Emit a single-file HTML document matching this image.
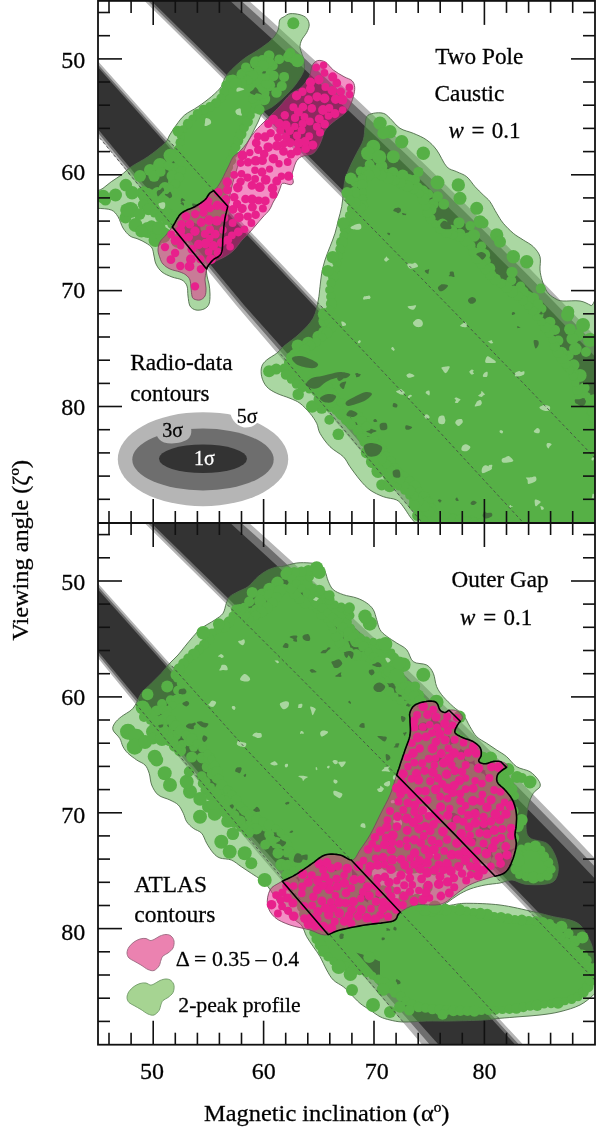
<!DOCTYPE html><html><head><meta charset="utf-8"><style>html,body{margin:0;padding:0;background:#fff;}svg{display:block;}text{stroke:#111;stroke-width:0.3px;}</style></head><body><svg width="600" height="1130" viewBox="0 0 600 1130"><defs><clipPath id="gtop"><path d="M284.2,16.7C285.9,15.6 287.4,14 290,13.7C292.6,13.4 297.2,13.9 300,14.7C302.8,15.5 305.2,16.6 306.7,18.3C308.2,20 309.2,22.6 309.2,25C309.2,27.4 307.9,30 306.7,32.5C305.4,35 302.8,37.6 301.7,40C300.6,42.4 300,44.5 300,46.7C300,48.9 301.1,51.4 301.7,53.3C302.2,55.2 302.9,55.5 303.3,58.3C303.7,61.1 305.2,65.7 304,70C302.8,74.3 299.3,79.5 296,84C292.7,88.5 288,93.2 284,97C280,100.8 275.5,104.5 272,107C268.5,109.5 265.3,109.5 263,112C260.7,114.5 259.8,118.3 258,122C256.2,125.7 254,130 252,134C250,138 248,141.7 246,146C244,150.3 241.8,155.2 240,160C238.2,164.8 236.5,170 235,175C233.5,180 232.2,185 231,190C229.8,195 229.1,200 228,205C226.9,210 225.5,214.7 224.7,220C223.9,225.3 223.6,231.1 223,236.7C222.4,242.2 223,249.4 221.3,253.3C219.6,257.2 215.4,257.6 213,260C210.6,262.4 208,265.3 207,268C206,270.7 206.7,273.3 207,276C207.3,278.7 208.5,281 209,284C209.5,287 210,290.7 210,294C210,297.3 210,301.5 209,304C208,306.5 206.2,308 204,309C201.8,310 198.3,310.5 196,310C193.7,309.5 191.3,308.3 190,306C188.7,303.7 188.5,299.3 188,296C187.5,292.7 188,288.7 187,286C186,283.3 184.5,281.5 182,280C179.5,278.5 175.3,278.3 172,277C168.7,275.7 164.7,274.2 162,272C159.3,269.8 157.3,266.7 156,264C154.7,261.3 154.7,258.7 154,256C153.3,253.3 153.3,250.2 152,248C150.7,245.8 148.3,244.5 146,243C143.7,241.5 140.7,240.2 138,239C135.3,237.8 132.5,237.8 130,236C127.5,234.2 125,231.2 123,228C121,224.8 120,219.7 118,216.7C116,213.7 114.6,211.4 111.3,210C108,208.6 100.9,208.6 98,208.3C95.1,208 94.7,210.4 94,208C93.3,205.6 92.5,197.3 94,194C95.5,190.7 100.1,190.4 103,188.3C105.9,186.2 108.2,183.9 111.3,181.7C114.3,179.5 118,177.5 121.3,175C124.6,172.5 126.9,169.8 131.3,166.7C135.8,163.6 142.4,160.6 148,156.7C153.6,152.8 161.1,146.9 164.7,143.3C168.3,139.7 167.8,138.1 169.7,135C171.6,131.9 173.8,128.3 176.3,125C178.8,121.7 181.1,118 184.7,115C188.3,112 193.6,109.8 198,106.7C202.4,103.7 207.4,100 211.3,96.7C215.2,93.4 219.1,89.8 221.3,86.7C223.5,83.6 223,81.1 224.7,78.3C226.4,75.5 228,73.3 231.3,70C234.6,66.7 240.2,61.6 244.7,58.3C249.1,55 253.6,53 258,50C262.4,47 268,43.3 271.3,40C274.6,36.7 276.6,33.3 278,30C279.4,26.7 278.7,22.2 279.7,20C280.7,17.8 282.5,17.8 284.2,16.7Z"/><path d="M366.7,116.7C368.1,114.5 370.5,113.9 373.3,113.3C376.1,112.7 380.5,112.5 383.3,113.3C386.1,114.1 387.2,115.8 390,118.3C392.8,120.8 396.1,125.8 400,128.3C403.9,130.8 408.9,131.4 413.3,133.3C417.8,135.2 422.8,137.2 426.7,140C430.6,142.8 433.4,145.6 436.7,150C440,154.4 443.4,163.1 446.7,166.7C450,170.3 453.4,170 456.7,171.7C460,173.4 463.6,174.2 466.7,176.7C469.8,179.2 472.2,183.6 475,186.7C477.8,189.8 480.8,192.5 483.3,195C485.8,197.5 487.8,198.6 490,201.7C492.2,204.8 494.5,209.7 496.7,213.3C498.9,216.9 500.5,220 503.3,223.3C506.1,226.6 510,230.5 513.3,233.3C516.6,236.1 520,237.8 523.3,240C526.6,242.2 530.5,243.9 533.3,246.7C536.1,249.5 538.9,252.8 540,256.7C541.1,260.6 539.7,266.1 540,270C540.3,273.9 541.2,277 542,280C542.8,283 543.8,285.7 545,288C546.2,290.3 547.2,292.2 549,294C550.8,295.8 553.7,297.8 556,299C558.3,300.2 559,300.7 563,301C567,301.3 575.3,300.2 580,301C584.7,301.8 587.3,303.7 591,305.5C594.7,307.3 600.2,274.6 602,312C603.8,349.4 632.8,493.7 602,530C571.2,566.3 448.2,531.2 417,530C385.8,528.8 416.2,525.2 415,523C413.8,520.8 411.9,519.4 410,516.7C408.1,514 405.5,509.5 403.3,506.7C401.1,503.9 400,501.7 396.7,500C393.4,498.3 387.8,498.4 383.3,496.7C378.9,495 373.9,492.8 370,490C366.1,487.2 363.3,483.9 360,480C356.7,476.1 352.8,470.6 350,466.7C347.2,462.8 346.6,460 343.3,456.7C340,453.4 333.9,450.6 330,446.7C326.1,442.8 322.2,437.2 320,433.3C317.8,429.4 318.4,426.6 316.7,423.3C315,420 312.8,416.6 310,413.3C307.2,410 303.3,405.8 300,403.3C296.7,400.8 293.9,400 290,398.3C286.1,396.6 280.6,395.2 276.7,393.3C272.8,391.4 269.2,389.5 266.7,386.7C264.2,383.9 262.5,380 261.7,376.7C260.9,373.4 260.9,369.5 261.7,366.7C262.5,363.9 264.2,362.2 266.7,360C269.2,357.8 273.9,355.5 276.7,353.3C279.5,351.1 279.4,350 283.3,346.7C287.2,343.4 295,338.1 300,333.3C305,328.5 310.2,323.6 313.3,318C316.4,312.4 317.2,305.2 318.3,300C319.4,294.8 319.4,291.1 320,286.7C320.6,282.2 320.9,277.8 321.7,273.3C322.5,268.9 323.6,264.4 325,260C326.4,255.6 328.3,251.1 330,246.7C331.7,242.2 333.6,237.8 335,233.3C336.4,228.9 337.2,224.4 338.3,220C339.4,215.6 340.9,211.1 341.7,206.7C342.5,202.2 342.8,197.8 343.3,193.3C343.9,188.9 343.9,184.4 345,180C346.1,175.6 348.1,171.1 350,166.7C351.9,162.2 354.5,157.8 356.7,153.3C358.9,148.9 361.9,144.4 363.3,140C364.7,135.6 364.4,130.6 365,126.7C365.6,122.8 365.3,118.9 366.7,116.7Z"/></clipPath><clipPath id="gbot"><path d="M113,730C112.2,727.5 113.3,725.5 114.7,723.3C116.1,721.1 118.5,718.9 121.3,716.7C124.1,714.5 128.8,712.2 131.3,710C133.8,707.8 134.6,706.1 136.3,703.3C138,700.5 138.8,696.6 141.3,693.3C143.8,690 148,686.6 151.3,683.3C154.6,680 158.2,676.6 161.3,673.3C164.4,670 166.9,666.3 169.7,663.3C172.5,660.2 175.5,657.8 178,655C180.5,652.2 182.2,649.8 184.7,646.7C187.2,643.7 190.2,639.8 193,636.7C195.8,633.6 197.7,631.1 201.3,628.3C204.9,625.5 211.1,622.5 214.7,620C218.3,617.5 221.1,616.1 223,613.3C224.9,610.5 225.2,606.1 226.3,603.3C227.4,600.5 227.8,598.6 229.7,596.7C231.6,594.8 234.9,593.4 238,591.7C241.1,590 244.7,589.2 248,586.7C251.3,584.2 254.7,579.5 258,576.7C261.3,573.9 264.7,571.7 268,570C271.3,568.3 275.4,567.3 278,566.7C280.6,566.1 280.2,566.9 283.3,566.3C286.4,565.7 292.2,563.5 296.7,563C301.1,562.5 306.1,562.7 310,563C313.9,563.3 317.5,563.3 320,564.7C322.5,566.1 323.6,568.5 325,571.3C326.4,574.1 326.9,578.2 328.3,581.3C329.7,584.4 330.8,587.5 333.3,589.7C335.8,591.9 339.4,593.3 343.3,594.7C347.2,596.1 352.8,596.6 356.7,598C360.6,599.4 363.9,601 366.7,603C369.5,605 371.6,606.9 373.3,609.7C375,612.5 375.6,616.4 376.7,619.7C377.8,623 378.3,626.9 380,629.7C381.7,632.5 383.9,634.1 386.7,636.3C389.5,638.5 393.4,640.8 396.7,643C400,645.2 403.9,646.6 406.7,649.7C409.5,652.8 410,659.2 413.3,661.7C416.6,664.2 423.4,663.1 426.7,665C430,666.9 431.6,669.7 433.3,673.3C435,676.9 435,682.8 436.7,686.7C438.4,690.6 440.5,693.4 443.3,696.7C446.1,700 450,703.7 453.3,706.7C456.6,709.8 460.5,711.7 463.3,715C466.1,718.3 467.8,723.1 470,726.7C472.2,730.3 473.9,733.9 476.7,736.7C479.5,739.5 483.4,741.1 486.7,743.3C490,745.5 493.4,747.8 496.7,750C500,752.2 503.4,753.9 506.7,756.7C510,759.5 512.8,764.2 516.7,766.7C520.6,769.2 526.4,769.5 530,771.7C533.6,773.9 536.6,777.5 538.3,780C540,782.5 540.8,784.5 540,786.7C539.2,788.9 535.3,790 533.3,793.3C531.3,796.6 529.2,801.1 528,806.7C526.8,812.3 525.7,821.5 526,826.7C526.3,831.9 526.5,835.2 530,838C533.5,840.8 542.5,840.5 546.7,843.3C550.9,846.1 553.1,850.8 555,855C556.9,859.2 558.3,864.1 558.3,868.3C558.3,872.5 557.2,877.4 555,880C552.8,882.6 550,883.5 545,884.2C540,884.9 530.5,884.9 525,884.2C519.5,883.5 516.2,880.2 512,880C507.8,879.8 504.5,882.2 500,883C495.5,883.8 490,884 485,885C480,886 474.5,887.3 470,889C465.5,890.7 461.7,892.8 458,895C454.3,897.2 451,900 448,902C445,904 439.3,906.5 440,907C440.7,907.5 447.6,905.6 452,905C456.4,904.4 458.7,903.3 466.7,903.3C474.7,903.3 488.9,903.6 500,905C511.1,906.4 524.4,909.8 533.3,911.7C542.2,913.7 547.2,915.3 553.3,916.7C559.4,918.1 565.5,918.6 570,920C574.5,921.4 577.2,922.5 580,925C582.8,927.5 584.8,931.7 586.7,935C588.7,938.3 590.3,941.1 591.7,945C593.1,948.9 593.3,955.8 595,958.3C596.7,960.8 600.8,955.5 602,960C603.2,964.5 603.5,979.2 602,985C600.5,990.8 597,991.7 593.3,995C589.6,998.3 585.5,1002.2 580,1005C574.5,1007.8 566.7,1010 560,1011.7C553.3,1013.4 546.7,1014.2 540,1015C533.3,1015.8 526.7,1016.2 520,1016.7C513.3,1017.2 506.1,1017.8 500,1018.3C493.9,1018.8 491.6,1019.5 483.3,1020C475,1020.5 459.4,1020.8 450,1021C440.6,1021.2 434.5,1020.8 426.7,1021C418.9,1021.2 409.1,1022.2 403,1022C396.9,1021.8 393.8,1020.9 390,1020C386.2,1019.1 383.3,1018.4 380,1016.7C376.7,1015 373.3,1012.2 370,1010C366.7,1007.8 363.3,1006.1 360,1003.3C356.7,1000.5 352.8,996.1 350,993.3C347.2,990.5 346.1,988.9 343.3,986.7C340.5,984.5 336.1,982.8 333.3,980C330.5,977.2 328.9,973.9 326.7,970C324.5,966.1 322.2,960.6 320,956.7C317.8,952.8 315.5,950 313.3,946.7C311.1,943.4 308.6,940.2 306.7,936.7C304.8,933.2 303.9,928.8 302,926C300.1,923.2 298.1,922.7 295,920C291.9,917.3 286.7,913.9 283.3,910C279.9,906.1 277.2,900.6 274.7,896.7C272.1,892.8 270.2,889.5 268,886.7C265.8,883.9 264.1,882.2 261.3,880C258.5,877.8 254.6,875.5 251.3,873.3C248,871.1 244.6,868.9 241.3,866.7C238,864.5 234.9,861.5 231.3,860C227.8,858.5 223,859.2 220,858C217,856.8 215.5,855.5 213.3,853C211.1,850.5 208.6,846.6 206.7,843.3C204.8,840 203.9,835.8 201.7,833.3C199.5,830.8 195.8,830.2 193.3,828.3C190.8,826.4 188.4,824.2 186.7,821.7C185,819.2 184.7,816.1 183.3,813.3C181.9,810.5 180.5,807.2 178.3,805C176.1,802.8 173.3,801.7 170,800C166.7,798.3 161.4,797.5 158.3,795C155.2,792.5 153.2,788.6 151.7,785C150.2,781.4 150.3,776.6 149.2,773.3C148.1,770 147.1,767.2 145,765C142.9,762.8 139.5,762 136.7,760C133.9,758 130.3,755.5 128,753.3C125.7,751.1 124.4,749.2 123,746.7C121.6,744.2 121.4,741.1 119.7,738.3C118,735.5 113.8,732.5 113,730Z"/></clipPath><clipPath id="gB"><path d="M366.7,116.7C368.1,114.5 370.5,113.9 373.3,113.3C376.1,112.7 380.5,112.5 383.3,113.3C386.1,114.1 387.2,115.8 390,118.3C392.8,120.8 396.1,125.8 400,128.3C403.9,130.8 408.9,131.4 413.3,133.3C417.8,135.2 422.8,137.2 426.7,140C430.6,142.8 433.4,145.6 436.7,150C440,154.4 443.4,163.1 446.7,166.7C450,170.3 453.4,170 456.7,171.7C460,173.4 463.6,174.2 466.7,176.7C469.8,179.2 472.2,183.6 475,186.7C477.8,189.8 480.8,192.5 483.3,195C485.8,197.5 487.8,198.6 490,201.7C492.2,204.8 494.5,209.7 496.7,213.3C498.9,216.9 500.5,220 503.3,223.3C506.1,226.6 510,230.5 513.3,233.3C516.6,236.1 520,237.8 523.3,240C526.6,242.2 530.5,243.9 533.3,246.7C536.1,249.5 538.9,252.8 540,256.7C541.1,260.6 539.7,266.1 540,270C540.3,273.9 541.2,277 542,280C542.8,283 543.8,285.7 545,288C546.2,290.3 547.2,292.2 549,294C550.8,295.8 553.7,297.8 556,299C558.3,300.2 559,300.7 563,301C567,301.3 575.3,300.2 580,301C584.7,301.8 587.3,303.7 591,305.5C594.7,307.3 600.2,274.6 602,312C603.8,349.4 632.8,493.7 602,530C571.2,566.3 448.2,531.2 417,530C385.8,528.8 416.2,525.2 415,523C413.8,520.8 411.9,519.4 410,516.7C408.1,514 405.5,509.5 403.3,506.7C401.1,503.9 400,501.7 396.7,500C393.4,498.3 387.8,498.4 383.3,496.7C378.9,495 373.9,492.8 370,490C366.1,487.2 363.3,483.9 360,480C356.7,476.1 352.8,470.6 350,466.7C347.2,462.8 346.6,460 343.3,456.7C340,453.4 333.9,450.6 330,446.7C326.1,442.8 322.2,437.2 320,433.3C317.8,429.4 318.4,426.6 316.7,423.3C315,420 312.8,416.6 310,413.3C307.2,410 303.3,405.8 300,403.3C296.7,400.8 293.9,400 290,398.3C286.1,396.6 280.6,395.2 276.7,393.3C272.8,391.4 269.2,389.5 266.7,386.7C264.2,383.9 262.5,380 261.7,376.7C260.9,373.4 260.9,369.5 261.7,366.7C262.5,363.9 264.2,362.2 266.7,360C269.2,357.8 273.9,355.5 276.7,353.3C279.5,351.1 279.4,350 283.3,346.7C287.2,343.4 295,338.1 300,333.3C305,328.5 310.2,323.6 313.3,318C316.4,312.4 317.2,305.2 318.3,300C319.4,294.8 319.4,291.1 320,286.7C320.6,282.2 320.9,277.8 321.7,273.3C322.5,268.9 323.6,264.4 325,260C326.4,255.6 328.3,251.1 330,246.7C331.7,242.2 333.6,237.8 335,233.3C336.4,228.9 337.2,224.4 338.3,220C339.4,215.6 340.9,211.1 341.7,206.7C342.5,202.2 342.8,197.8 343.3,193.3C343.9,188.9 343.9,184.4 345,180C346.1,175.6 348.1,171.1 350,166.7C351.9,162.2 354.5,157.8 356.7,153.3C358.9,148.9 361.9,144.4 363.3,140C364.7,135.6 364.4,130.6 365,126.7C365.6,122.8 365.3,118.9 366.7,116.7Z"/></clipPath></defs>
<defs><clipPath id="c1"><rect x="98.0" y="0.9" width="497.0" height="522.1"/></clipPath><clipPath id="c2"><rect x="98.0" y="523.0" width="497.0" height="521.7"/></clipPath></defs>
<g clip-path="url(#c1)"><polygon fill="#b5b5b5" points="42.8,-98.5 58,-83.7 73.2,-68.9 88.3,-54.1 103.5,-39.3 118.7,-24.4 133.9,-9.5 149.1,5.4 164.2,20.3 179.4,35.3 194.6,50.3 209.8,65.3 225,80.4 240.1,95.5 255.3,110.6 270.5,125.8 285.7,141 300.9,156.2 316,171.5 331.2,186.8 346.4,202.1 361.6,217.4 376.8,232.8 391.9,248.3 407.1,263.7 422.3,279.2 437.5,294.8 452.7,310.3 467.8,325.9 483,341.6 498.2,357.3 513.4,373 528.6,388.7 543.7,404.5 558.9,420.4 574.1,436.2 589.3,452.1 604.5,468.1 619.6,484.1 634.8,500.1 650,516.1 650,394.7 634.8,378.5 619.6,362.3 604.5,346.2 589.3,330.3 574.1,314.4 558.9,298.7 543.7,283.1 528.6,267.6 513.4,252.2 498.2,236.9 483,221.7 467.8,206.6 452.7,191.7 437.5,176.8 422.3,162 407.1,147.4 391.9,132.8 376.8,118.4 361.6,104.1 346.4,89.8 331.2,75.7 316,61.6 300.9,47.7 285.7,33.9 270.5,20.1 255.3,6.4 240.1,-7.1 225,-20.6 209.8,-34 194.6,-47.3 179.4,-60.5 164.2,-73.6 149.1,-86.7 133.9,-99.7 118.7,-112.6 103.5,-125.4 88.3,-138.1 73.2,-150.8 58,-163.4 42.8,-175.9"/>
<polygon fill="#6e6e6e" points="42.8,-101.3 58,-86.6 73.2,-71.9 88.3,-57.1 103.5,-42.4 118.7,-27.6 133.9,-12.8 149.1,2.1 164.2,17 179.4,31.9 194.6,46.8 209.8,61.8 225,76.8 240.1,91.8 255.3,106.9 270.5,122 285.7,137.2 300.9,152.3 316,167.5 331.2,182.8 346.4,198.1 361.6,213.4 376.8,228.8 391.9,244.2 407.1,259.6 422.3,275.1 437.5,290.6 452.7,306.1 467.8,321.7 483,337.3 498.2,353 513.4,368.7 528.6,384.4 543.7,400.2 558.9,416 574.1,431.9 589.3,447.8 604.5,463.7 619.6,479.7 634.8,495.7 650,511.8 650,403 634.8,386.7 619.6,370.6 604.5,354.5 589.3,338.6 574.1,322.7 558.9,307 543.7,291.3 528.6,275.8 513.4,260.4 498.2,245.1 483,229.8 467.8,214.7 452.7,199.7 437.5,184.8 422.3,170 407.1,155.3 391.9,140.7 376.8,126.2 361.6,111.7 346.4,97.4 331.2,83.2 316,69.1 300.9,55 285.7,41.1 270.5,27.2 255.3,13.5 240.1,-0.2 225,-13.8 209.8,-27.3 194.6,-40.7 179.4,-54 164.2,-67.3 149.1,-80.5 133.9,-93.6 118.7,-106.6 103.5,-119.6 88.3,-132.5 73.2,-145.3 58,-158 42.8,-170.7"/>
<polygon fill="#333333" points="42.8,-104 58,-89.4 73.2,-74.8 88.3,-60.1 103.5,-45.5 118.7,-30.7 133.9,-16 149.1,-1.2 164.2,13.6 179.4,28.4 194.6,43.3 209.8,58.2 225,73.2 240.1,88.2 255.3,103.2 270.5,118.2 285.7,133.3 300.9,148.5 316,163.6 331.2,178.8 346.4,194.1 361.6,209.4 376.8,224.7 391.9,240 407.1,255.4 422.3,270.9 437.5,286.4 452.7,301.9 467.8,317.4 483,333.1 498.2,348.7 513.4,364.4 528.6,380.1 543.7,395.9 558.9,411.7 574.1,427.6 589.3,443.5 604.5,459.4 619.6,475.4 634.8,491.4 650,507.5 650,415 634.8,398.7 619.6,382.6 604.5,366.5 589.3,350.6 574.1,334.7 558.9,319 543.7,303.3 528.6,287.8 513.4,272.3 498.2,256.9 483,241.7 467.8,226.5 452.7,211.4 437.5,196.4 422.3,181.5 407.1,166.7 391.9,152 376.8,137.4 361.6,122.9 346.4,108.5 331.2,94.1 316,79.9 300.9,65.7 285.7,51.6 270.5,37.6 255.3,23.7 240.1,9.9 225,-3.9 209.8,-17.5 194.6,-31.1 179.4,-44.6 164.2,-58.1 149.1,-71.5 133.9,-84.8 118.7,-98 103.5,-111.1 88.3,-124.2 73.2,-137.3 58,-150.2 42.8,-163.1"/>
<polygon fill="#b5b5b5" points="40,-4 98,61.2 248,229 296,279.5 426.7,418 518,517 660,670 700,847.4 405.3,502.9 236,305 98,136 40,65"/>
<polygon fill="#6e6e6e" points="40,-0.7 98,64.5 248,232.7 296,283.4 426.7,422.2 518,521.5 660,674.5 700,832.8 412.7,502.9 240,305 98,132.7 40,62.4"/>
<polygon fill="#333333" points="40,2 98,67.2 248,235.9 296,286.7 426.7,426 518,525.5 660,678.5 700,814.8 421,502.9 244,305 98,129.3 40,59.5"/>
<path d="M284.2,16.7C285.9,15.6 287.4,14 290,13.7C292.6,13.4 297.2,13.9 300,14.7C302.8,15.5 305.2,16.6 306.7,18.3C308.2,20 309.2,22.6 309.2,25C309.2,27.4 307.9,30 306.7,32.5C305.4,35 302.8,37.6 301.7,40C300.6,42.4 300,44.5 300,46.7C300,48.9 301.1,51.4 301.7,53.3C302.2,55.2 302.9,55.5 303.3,58.3C303.7,61.1 305.2,65.7 304,70C302.8,74.3 299.3,79.5 296,84C292.7,88.5 288,93.2 284,97C280,100.8 275.5,104.5 272,107C268.5,109.5 265.3,109.5 263,112C260.7,114.5 259.8,118.3 258,122C256.2,125.7 254,130 252,134C250,138 248,141.7 246,146C244,150.3 241.8,155.2 240,160C238.2,164.8 236.5,170 235,175C233.5,180 232.2,185 231,190C229.8,195 229.1,200 228,205C226.9,210 225.5,214.7 224.7,220C223.9,225.3 223.6,231.1 223,236.7C222.4,242.2 223,249.4 221.3,253.3C219.6,257.2 215.4,257.6 213,260C210.6,262.4 208,265.3 207,268C206,270.7 206.7,273.3 207,276C207.3,278.7 208.5,281 209,284C209.5,287 210,290.7 210,294C210,297.3 210,301.5 209,304C208,306.5 206.2,308 204,309C201.8,310 198.3,310.5 196,310C193.7,309.5 191.3,308.3 190,306C188.7,303.7 188.5,299.3 188,296C187.5,292.7 188,288.7 187,286C186,283.3 184.5,281.5 182,280C179.5,278.5 175.3,278.3 172,277C168.7,275.7 164.7,274.2 162,272C159.3,269.8 157.3,266.7 156,264C154.7,261.3 154.7,258.7 154,256C153.3,253.3 153.3,250.2 152,248C150.7,245.8 148.3,244.5 146,243C143.7,241.5 140.7,240.2 138,239C135.3,237.8 132.5,237.8 130,236C127.5,234.2 125,231.2 123,228C121,224.8 120,219.7 118,216.7C116,213.7 114.6,211.4 111.3,210C108,208.6 100.9,208.6 98,208.3C95.1,208 94.7,210.4 94,208C93.3,205.6 92.5,197.3 94,194C95.5,190.7 100.1,190.4 103,188.3C105.9,186.2 108.2,183.9 111.3,181.7C114.3,179.5 118,177.5 121.3,175C124.6,172.5 126.9,169.8 131.3,166.7C135.8,163.6 142.4,160.6 148,156.7C153.6,152.8 161.1,146.9 164.7,143.3C168.3,139.7 167.8,138.1 169.7,135C171.6,131.9 173.8,128.3 176.3,125C178.8,121.7 181.1,118 184.7,115C188.3,112 193.6,109.8 198,106.7C202.4,103.7 207.4,100 211.3,96.7C215.2,93.4 219.1,89.8 221.3,86.7C223.5,83.6 223,81.1 224.7,78.3C226.4,75.5 228,73.3 231.3,70C234.6,66.7 240.2,61.6 244.7,58.3C249.1,55 253.6,53 258,50C262.4,47 268,43.3 271.3,40C274.6,36.7 276.6,33.3 278,30C279.4,26.7 278.7,22.2 279.7,20C280.7,17.8 282.5,17.8 284.2,16.7Z" fill="#56b046" fill-opacity="0.5" stroke="#4d6b48" stroke-width="0.9"/>
<path d="M366.7,116.7C368.1,114.5 370.5,113.9 373.3,113.3C376.1,112.7 380.5,112.5 383.3,113.3C386.1,114.1 387.2,115.8 390,118.3C392.8,120.8 396.1,125.8 400,128.3C403.9,130.8 408.9,131.4 413.3,133.3C417.8,135.2 422.8,137.2 426.7,140C430.6,142.8 433.4,145.6 436.7,150C440,154.4 443.4,163.1 446.7,166.7C450,170.3 453.4,170 456.7,171.7C460,173.4 463.6,174.2 466.7,176.7C469.8,179.2 472.2,183.6 475,186.7C477.8,189.8 480.8,192.5 483.3,195C485.8,197.5 487.8,198.6 490,201.7C492.2,204.8 494.5,209.7 496.7,213.3C498.9,216.9 500.5,220 503.3,223.3C506.1,226.6 510,230.5 513.3,233.3C516.6,236.1 520,237.8 523.3,240C526.6,242.2 530.5,243.9 533.3,246.7C536.1,249.5 538.9,252.8 540,256.7C541.1,260.6 539.7,266.1 540,270C540.3,273.9 541.2,277 542,280C542.8,283 543.8,285.7 545,288C546.2,290.3 547.2,292.2 549,294C550.8,295.8 553.7,297.8 556,299C558.3,300.2 559,300.7 563,301C567,301.3 575.3,300.2 580,301C584.7,301.8 587.3,303.7 591,305.5C594.7,307.3 600.2,274.6 602,312C603.8,349.4 632.8,493.7 602,530C571.2,566.3 448.2,531.2 417,530C385.8,528.8 416.2,525.2 415,523C413.8,520.8 411.9,519.4 410,516.7C408.1,514 405.5,509.5 403.3,506.7C401.1,503.9 400,501.7 396.7,500C393.4,498.3 387.8,498.4 383.3,496.7C378.9,495 373.9,492.8 370,490C366.1,487.2 363.3,483.9 360,480C356.7,476.1 352.8,470.6 350,466.7C347.2,462.8 346.6,460 343.3,456.7C340,453.4 333.9,450.6 330,446.7C326.1,442.8 322.2,437.2 320,433.3C317.8,429.4 318.4,426.6 316.7,423.3C315,420 312.8,416.6 310,413.3C307.2,410 303.3,405.8 300,403.3C296.7,400.8 293.9,400 290,398.3C286.1,396.6 280.6,395.2 276.7,393.3C272.8,391.4 269.2,389.5 266.7,386.7C264.2,383.9 262.5,380 261.7,376.7C260.9,373.4 260.9,369.5 261.7,366.7C262.5,363.9 264.2,362.2 266.7,360C269.2,357.8 273.9,355.5 276.7,353.3C279.5,351.1 279.4,350 283.3,346.7C287.2,343.4 295,338.1 300,333.3C305,328.5 310.2,323.6 313.3,318C316.4,312.4 317.2,305.2 318.3,300C319.4,294.8 319.4,291.1 320,286.7C320.6,282.2 320.9,277.8 321.7,273.3C322.5,268.9 323.6,264.4 325,260C326.4,255.6 328.3,251.1 330,246.7C331.7,242.2 333.6,237.8 335,233.3C336.4,228.9 337.2,224.4 338.3,220C339.4,215.6 340.9,211.1 341.7,206.7C342.5,202.2 342.8,197.8 343.3,193.3C343.9,188.9 343.9,184.4 345,180C346.1,175.6 348.1,171.1 350,166.7C351.9,162.2 354.5,157.8 356.7,153.3C358.9,148.9 361.9,144.4 363.3,140C364.7,135.6 364.4,130.6 365,126.7C365.6,122.8 365.3,118.9 366.7,116.7Z" fill="#56b046" fill-opacity="0.5" stroke="#4d6b48" stroke-width="0.9"/>
<g fill="#56b046"><path d="M230.5,79.7 L229.7,80.4 L229.1,81.1 L228.4,81.7 L227.9,82.5 L227.3,83.3 L226.8,84.2 L226.2,85.2 L225.8,86.1 L225.4,87.3 L225,88.6 L224.6,90.1 L224.6,90.1 L224.2,91.6 L224.1,91.7 L223.7,93.1 L223.6,93.3 L223,94.7 L222.9,94.9 L222.2,96.2 L222,96.4 L221.2,97.6 L221.1,97.7 L220.2,98.9 L220.1,99 L219.1,100.1 L219,100.2 L218,101.2 L217.9,101.3 L216.8,102.3 L216.7,102.4 L215.5,103.3 L215.4,103.4 L214.1,104.4 L214.1,104.4 L212.7,105.3 L212.6,105.4 L211.1,106.3 L211,106.4 L209.4,107.2 L209.2,107.3 L207.5,108.1 L207.5,108.1 L205.7,108.8 L204,109.6 L202.3,110.4 L200.8,111.2 L199.4,112 L198.2,113 L196.9,114.1 L195.7,115.3 L194.5,116.5 L193.3,117.8 L192.2,119.1 L191,120.4 L191,120.4 L189.9,121.7 L189.8,121.7 L188.7,123 L188.7,123 L187.5,124.2 L186.3,125.5 L185.2,126.7 L184.2,127.8 L183.3,129 L182.5,130.1 L181.9,131.1 L181.5,132.1 L181.3,133.1 L181.1,134.1 L180.9,135.2 L180.9,136.4 L180.8,137.7 L180.8,137.7 L180.7,139 L180.7,139.1 L180.5,140.4 L180.5,140.4 L180.2,141.7 L180,142.8 L180,142.8 L179.8,144 L179.8,144 L179.6,145.1 L179.6,145.2 L179.4,146.4 L179.4,146.4 L179.1,147.7 L179.1,147.7 L178.8,149 L178.8,149.1 L178.4,150.6 L178.4,150.6 L178,152.3 L178,152.3 L177.6,154.1 L177.6,154.1 L177.1,156.1 L177.1,156.1 L176.5,158.1 L177.1,156.1 L183.4,163.3 L183.2,164.2 L183.2,164.2 L183.2,164.3 L183.1,164.3 L182.6,166.2 L182.6,166.2 L182.6,166.2 L182.6,166.3 L182.1,168 L181.6,169.5 L181.2,171 L180.8,172.5 L180.8,172.5 L180.8,172.6 L180.7,172.6 L180.3,174.1 L180.3,174.2 L180.2,174.3 L180.2,174.4 L179.7,175.8 L179.7,176 L179.6,176.1 L179.5,176.3 L179,177.6 L178.9,177.9 L178.8,178.1 L178.7,178.3 L178.1,179.5 L177.9,179.9 L177.8,180.1 L177.6,180.4 L176.9,181.6 L176.6,182 L176.5,182.2 L176.2,182.6 L175.4,183.6 L175.1,183.9 L174.9,184.1 L174.6,184.5 L173.7,185.3 L173.4,185.6 L173.2,185.8 L172.9,186 L172,186.8 L171.7,187 L171.6,187.1 L171.4,187.2 L170.4,187.9 L170.2,188.1 L170.1,188.1 L169.9,188.2 L168.9,188.9 L168.8,188.9 L168.8,188.9 L168.7,189 L167.6,189.6 L166.6,190.2 L165.6,190.9 L164.5,191.6 L164.4,191.7 L164.3,191.7 L164.2,191.8 L162.9,192.5 L162.9,192.5 L162.8,192.6 L162.8,192.6 L161.5,193.3 L161.5,193.4 L161.5,193.4 L161.4,193.4 L160.1,194.1 L158.9,194.8 L157.8,195.4 L156.9,196 L156,196.6 L155,197.4 L154.7,197.5 L149.6,191.4 L149.2,191.7 L148.1,192.5 L147.1,193.3 L146.1,194 L145.3,194.8 L144.7,195.6 L144.1,196.4 L143.6,197.2 L143.1,198.2 L142.7,199.1 L142.4,200.1 L142.2,201 L142.2,201.8 L142.2,202.5 L142.4,203.2 L142.7,203.8 L143.2,204.5 L143.9,205.3 L144.8,206.2 L145.9,207.1 L147,208.1 L148.3,209 L148.3,209 L149.5,210 L150.8,211 L152.2,212 L153.7,213 L155.2,214 L156.8,215 L158.4,216 L159.9,217 L159.9,217 L161.3,217.9 L161.4,217.9 L162.7,218.8 L162.8,218.8 L164,219.7 L164,219.7 L165.1,220.5 L166.2,221.3 L167.3,222 L168.3,222.6 L169.5,223.1 L170.8,223.6 L172.3,224.1 L174,224.5 L175.8,224.9 L177.6,225.3 L179.4,225.5 L177.8,225.3 L166.5,211.7 L167.1,212.1 L167.2,212.2 L167.3,212.2 L167.4,212.3 L168.6,213.2 L168.6,213.2 L168.7,213.2 L168.7,213.2 L169.8,214 L170.7,214.7 L171.4,215.2 L172,215.5 L172.6,215.8 L173.3,216 L174.5,216.4 L175.9,216.8 L177.4,217.1 L178.8,217.4 L180.2,217.6 L181.5,217.7 L182.7,217.7 L183.6,217.6 L184.6,217.4 L185.8,217.1 L187.2,216.6 L188.6,216.1 L190.1,215.4 L191.6,214.6 L193.2,213.8 L194.6,213 L195.9,212.2 L197.1,211.3 L198.4,210.3 L199.7,209.3 L200.9,208.2 L202.2,207 L203.3,205.9 L204.4,204.8 L205.2,203.8 L206,203 L206.6,202.1 L207.3,201.2 L207.9,200.3 L208.5,199.3 L209.1,198.2 L209.8,197 L210.3,195.9 L210.9,194.8 L211.1,194.4 L216.8,200.8 L216.8,200.8 L217.5,199.5 L218.1,198.1 L218.8,196.7 L219.4,195.3 L220,193.8 L220.5,192.3 L221.1,190.8 L221.6,189.2 L222.2,187.6 L222.6,186 L223.1,184.2 L223.6,182.5 L224.1,180.7 L224.1,180.7 L224.5,178.9 L224.5,178.9 L225.1,177.1 L225.1,177 L225.6,175.3 L225.6,175.2 L226.2,173.5 L226.2,173.4 L226.8,171.7 L226.8,171.7 L227.4,169.9 L227.5,169.9 L228.1,168.1 L228.1,168.1 L228.7,166.4 L229.4,164.6 L230,162.9 L230.6,161.2 L231.3,159.4 L231.9,157.6 L232.5,155.8 L233.1,154 L233.1,154 L233.8,152.3 L233.8,152.3 L234.4,150.5 L234.4,150.5 L235,148.8 L235,148.8 L235.7,147.1 L235.7,147.1 L236.3,145.5 L236.3,145.5 L236.9,143.9 L236.9,143.9 L237.5,142.4 L237.5,142.4 L238.1,140.9 L238.1,140.9 L238.7,139.4 L238.8,139.4 L239.4,138 L239.4,137.9 L240,136.5 L240,136.5 L240.7,135 L240.7,134.9 L241.4,133.4 L241.4,133.4 L242.2,131.9 L242.2,131.9 L242.9,130.3 L242.9,130.3 L243.7,128.8 L243.7,128.8 L244.5,127.3 L244.5,127.3 L245.3,125.8 L245.3,125.8 L246,124.3 L246,124.3 L246.8,122.8 L246.8,122.8 L247.5,121.4 L247.6,121.4 L248.3,120 L248.3,119.9 L249.1,118.5 L249.1,118.5 L249.9,117.1 L249.9,117.1 L250.6,115.7 L250.7,115.7 L251.4,114.4 L251.4,114.4 L252.1,113.2 L252.2,113.1 L252.9,112 L252.9,111.9 L253.6,110.9 L253.6,110.9 L254.2,110 L254.2,109.9 L254.8,109.1 L254.9,109 L255.5,108.3 L255.5,108.2 L256.1,107.5 L256.1,107.4 L256.7,106.7 L256.8,106.6 L257.4,105.9 L257.4,105.9 L257.7,105.5 L255.3,103.2 L252,99.9 L252.1,99.8 L252.2,99.7 L252.2,99.7 L252.3,99.6 L253,98.7 L253.1,98.6 L253.2,98.6 L253.3,98.5 L254.1,97.6 L254.2,97.6 L254.2,97.5 L254.3,97.5 L255.2,96.6 L255.2,96.6 L255.2,96.6 L255.3,96.6 L256.1,95.7 L257,94.9 L257.7,94.2 L258.3,93.6 L258.8,93.1 L259.2,92.5 L259.7,92 L260.1,91.4 L260.6,90.7 L261.2,89.9 L261.2,89.9 L261.2,89.9 L261.2,89.9 L261.8,89 L261.8,89 L261.8,89 L261.9,88.9 L262.5,88.1 L262.6,88 L262.6,88 L262.6,87.9 L263.3,87 L263.5,86.8 L263.6,86.7 L263.7,86.5 L264.5,85.5 L264.7,85.3 L264.8,85.2 L265,85 L265.9,84.1 L266,84 L266.1,83.9 L266.1,83.9 L267.1,82.9 L267.2,82.8 L266.8,81.6 L266.7,81.4 L266.7,81.3 L266.7,81.1 L266.2,79.7 L266.1,79.3 L266,79 L265.9,78.5 L265.7,77.2 L265.6,76.8 L265.5,76.5 L265.5,75.6 L265.5,75.4 L265.5,74.9 L265.5,73.7 L265.5,73.4 L265.5,73.1 L265.6,72.4 L265.7,72.2 L265.8,71.5 L265.8,71.3 L265.9,71 L266.3,69.9 L266.4,69.5 L266.5,69.3 L266.7,68.6 L266.8,68.4 L267,68.1 L267.5,67 L267.8,66.5 L268,66.3 L268.3,65.8 L269,64.8 L269.2,64.5 L269.4,64.3 L269.6,64 L270.4,63 L270.6,62.8 L270.7,62.7 L270.9,62.5 L271.8,61.6 L271.9,61.5 L271.9,61.5 L272.1,61.4 L272.3,61.1 L271.9,61 L271.8,60.9 L271.7,60.9 L271.6,60.9 L271.1,60.7 L270.9,60.8 L269.9,61.3 L268.9,61.9 L267.7,62.6 L266.6,63.3 L266.6,63.3 L266.6,63.3 L266.6,63.3 L265.5,64 L265.4,64 L265.4,64 L265.4,64 L264.5,64.5 L263.8,65 L263.4,65.3 L263,65.5 L262.6,65.9 L262,66.3 L261.3,66.9 L260.5,67.7 L259.6,68.5 L258.4,69.7 L257.1,71.2 L255.6,72.9 L255.6,72.9 L255.5,72.9 L255.5,73 L254,74.6 L253.9,74.7 L253.8,74.8 L253.8,74.8 L252.2,76.4 L252.1,76.5 L252,76.6 L251.9,76.7 L250.3,78.2 L250.1,78.4 L250,78.5 L249.8,78.7 L248.3,79.9 L247.9,80.1 L247.7,80.3 L247.4,80.5 L245.9,81.5 L245.5,81.7 L245.3,81.8 L244.9,82 L243.3,82.8 L243.1,83 L242.9,83 L242.6,83.2 L241,83.8 L240.9,83.9 L240.8,83.9 L240.6,84 L239,84.5 L239,84.5 L239,84.6 L238.9,84.6 L237.5,85.1 L237.1,85.2 L231.1,79.3 L230.5,79.7ZM293.1,57.9 L293.2,57.4 L293.3,57 L293.3,56.7 L293.3,56.4 L293.2,56 L293.1,55.5 L292.9,55.1 L292.6,54.6 L292.4,54.3 L292.1,54 L291.8,53.7 L291.5,53.5 L291,53.3 L290.4,53 L289.8,52.9 L289,52.7 L288.3,52.6 L287.5,52.5 L286.8,52.5 L286.6,52.5 L292.9,58.3 L293.1,57.9Z"/><circle cx="232.9" cy="79.9" r="5.4"/><circle cx="204" cy="206.9" r="6.1"/><circle cx="256.3" cy="62.6" r="6.4"/><circle cx="174.2" cy="169" r="6.1"/><circle cx="203" cy="214.4" r="4.9"/><circle cx="264" cy="99" r="6.2"/><circle cx="266.8" cy="69" r="6.4"/><circle cx="242.4" cy="74.7" r="6"/><circle cx="179" cy="219.9" r="5.8"/><circle cx="174.5" cy="182.4" r="6.5"/><circle cx="273.4" cy="75.8" r="5.3"/><circle cx="213" cy="203.2" r="6.4"/><circle cx="189.3" cy="218.3" r="6.1"/><circle cx="263.5" cy="92.8" r="6"/><circle cx="269" cy="55.6" r="5.4"/><circle cx="178.7" cy="174.3" r="5.2"/><circle cx="164.9" cy="188.3" r="6.2"/><circle cx="288.2" cy="56.9" r="5.2"/><circle cx="273.1" cy="65.7" r="4.7"/><circle cx="279.2" cy="59.4" r="4.9"/><circle cx="269.1" cy="85.3" r="6"/><circle cx="266.2" cy="76.9" r="4.6"/><circle cx="262.3" cy="59.8" r="4.7"/><circle cx="180.5" cy="168.2" r="5.9"/><circle cx="157.4" cy="192.4" r="5.4"/><circle cx="197.2" cy="219.3" r="4.7"/><circle cx="250.3" cy="72.5" r="4.7"/><circle cx="255.8" cy="103.4" r="5.4"/><circle cx="172.6" cy="176" r="6.1"/><circle cx="179.1" cy="161.2" r="4.7"/><circle cx="211.8" cy="195.4" r="6.3"/><circle cx="209.5" cy="209.5" r="4.5"/><circle cx="255.4" cy="96.5" r="6.4"/><circle cx="248.3" cy="79.8" r="5.1"/><circle cx="230.5" cy="79.7" r="4.8"/><circle cx="226.2" cy="85.2" r="4.9"/><circle cx="224" cy="91.9" r="4.7"/><circle cx="220.8" cy="98.1" r="4.5"/><circle cx="215.8" cy="103.1" r="4.9"/><circle cx="209.9" cy="107" r="4.9"/><circle cx="203.5" cy="109.8" r="5.1"/><circle cx="197.5" cy="113.6" r="4.7"/><circle cx="192.6" cy="118.6" r="4.2"/><circle cx="187.9" cy="123.8" r="5.1"/><circle cx="183.2" cy="129.1" r="3.9"/><circle cx="180.9" cy="135.7" r="4.1"/><circle cx="180.1" cy="142.6" r="4.6"/><circle cx="178.7" cy="149.6" r="5"/><circle cx="177" cy="156.4" r="4"/><circle cx="179.3" cy="158.6" r="5.9"/><circle cx="183.2" cy="164.1" r="5.4"/><circle cx="181.2" cy="170.8" r="4.9"/><circle cx="179.1" cy="177.5" r="5.1"/><circle cx="175.4" cy="183.5" r="4.6"/><circle cx="170.1" cy="188.1" r="3.9"/><circle cx="164.1" cy="191.8" r="5.8"/><circle cx="158" cy="195.3" r="4.9"/><circle cx="152.7" cy="195.2" r="5.8"/><circle cx="147.9" cy="192.6" r="4.7"/><circle cx="143.3" cy="197.9" r="4.3"/><circle cx="143.2" cy="204.5" r="5.3"/><circle cx="148.4" cy="209.2" r="6"/><circle cx="154.1" cy="213.3" r="4.2"/><circle cx="160.1" cy="217.1" r="5.1"/><circle cx="165.9" cy="221.1" r="3.9"/><circle cx="172.3" cy="224.1" r="5.1"/><circle cx="179.2" cy="225.5" r="4.8"/><circle cx="174.5" cy="221.4" r="4.6"/><circle cx="170" cy="215.9" r="5.8"/><circle cx="167.7" cy="212.6" r="4.9"/><circle cx="173.7" cy="216.2" r="4.8"/><circle cx="180.6" cy="217.6" r="5.5"/><circle cx="187.5" cy="216.5" r="5.8"/><circle cx="193.9" cy="213.4" r="4.2"/><circle cx="199.6" cy="209.3" r="4.2"/><circle cx="204.7" cy="204.4" r="6"/><circle cx="208.8" cy="198.7" r="5.4"/><circle cx="212.5" cy="196" r="5.5"/><circle cx="217.1" cy="200.3" r="6"/><circle cx="219.9" cy="193.9" r="5.9"/><circle cx="222.3" cy="187.2" r="5.1"/><circle cx="224.1" cy="180.4" r="4.3"/><circle cx="226.1" cy="173.7" r="5.3"/><circle cx="228.5" cy="167" r="4.7"/><circle cx="230.9" cy="160.4" r="5.2"/><circle cx="233.2" cy="153.7" r="4.8"/><circle cx="235.7" cy="147.1" r="4.8"/><circle cx="238.3" cy="140.6" r="5"/><circle cx="241.1" cy="134.1" r="5.4"/><circle cx="244.2" cy="127.8" r="4.7"/><circle cx="247.5" cy="121.5" r="5.4"/><circle cx="250.9" cy="115.3" r="3.9"/><circle cx="254.6" cy="109.4" r="4"/><circle cx="256.2" cy="104" r="5.2"/><circle cx="252.8" cy="99" r="4.5"/><circle cx="257.8" cy="94.1" r="5.8"/><circle cx="262.2" cy="88.5" r="4.8"/><circle cx="266.8" cy="83.2" r="5.4"/><circle cx="265.6" cy="76.6" r="4.4"/><circle cx="266.3" cy="69.7" r="5.3"/><circle cx="269.9" cy="63.6" r="5.3"/><circle cx="269.1" cy="61.8" r="4.9"/><circle cx="263.1" cy="65.5" r="5.6"/><circle cx="258" cy="70.3" r="4.3"/><circle cx="253.2" cy="75.5" r="4.9"/><circle cx="247.9" cy="80.2" r="4.4"/><circle cx="241.7" cy="83.5" r="5.3"/><circle cx="235.6" cy="83.7" r="6"/><circle cx="293.1" cy="57.9" r="5.6"/><circle cx="290.3" cy="53" r="4.9"/><circle cx="288.6" cy="54.3" r="3.9"/><circle cx="293.3" cy="23.3" r="6"/><circle cx="115.5" cy="195" r="6.5"/><circle cx="105.5" cy="200" r="5.5"/><circle cx="130.5" cy="210" r="8"/><circle cx="125.5" cy="217.5" r="6"/><circle cx="135.5" cy="225" r="7"/><circle cx="148" cy="230" r="8"/><circle cx="155.5" cy="240" r="7"/><circle cx="163" cy="235" r="8"/><circle cx="160" cy="165" r="7"/><circle cx="150" cy="170" r="6"/><circle cx="140" cy="176" r="6"/></g>
<g fill="#56b046"><circle cx="177.8" cy="240.8" r="7.1"/><circle cx="222.1" cy="210.9" r="7.1"/><circle cx="154.1" cy="176.1" r="5.7"/><circle cx="276.5" cy="92.5" r="5.3"/><circle cx="297.5" cy="60.7" r="6.6"/><circle cx="151.6" cy="226" r="5.8"/><circle cx="158.9" cy="227.9" r="6.8"/><circle cx="245.9" cy="67.3" r="4.9"/><circle cx="170.2" cy="155.5" r="6.7"/><circle cx="206.6" cy="227.7" r="6.3"/><circle cx="213.3" cy="215.8" r="6.9"/><circle cx="168.5" cy="165.6" r="4.9"/><circle cx="284.1" cy="76.9" r="5"/><circle cx="143.3" cy="193.1" r="6.8"/><circle cx="132.1" cy="192.7" r="6.7"/><circle cx="177.9" cy="131.1" r="5.4"/><circle cx="125.8" cy="185.1" r="6.3"/><circle cx="103.1" cy="196.6" r="6.8"/><circle cx="139.5" cy="214.1" r="5.9"/><circle cx="126.6" cy="209.9" r="6.4"/><circle cx="281.8" cy="86.1" r="5"/><circle cx="259.5" cy="109.6" r="5.1"/><circle cx="223.2" cy="200.5" r="7.1"/><circle cx="141.4" cy="231.4" r="6.1"/><circle cx="160.7" cy="171.8" r="4.9"/></g>
<g fill="#56b046"><path d="M352.9,202 L352.9,202.1 L352.8,204.6 L352.7,204.7 L352.5,207 L352.5,207.2 L352.1,209.2 L352,209.4 L351.5,211.2 L351.4,211.4 L350.8,213.1 L350.7,213.2 L350,214.8 L350,214.8 L349.2,216.4 L348.5,217.9 L347.9,219.3 L347.4,220.8 L346.9,222.3 L346.5,224 L346.1,225.6 L345.7,227.2 L345.3,228.9 L344.9,230.5 L344.9,230.5 L344.5,232.2 L344.5,232.2 L344.1,233.9 L344.1,233.9 L343.7,235.6 L343.7,235.6 L343.3,237.3 L342.9,238.9 L342.4,240.6 L342,242.3 L341.6,244 L341.1,245.6 L340.7,247.3 L340.3,249 L339.9,250.6 L339.5,252.3 L339.1,254 L338.7,255.6 L338.2,257.3 L337.8,258.9 L337.4,260.6 L337,262.2 L336.6,263.8 L336.3,265.4 L336.3,265.4 L335.9,267 L335.9,267 L335.5,268.7 L335.5,268.7 L335.1,270.3 L335.1,270.4 L334.6,272.1 L334.6,272.1 L334.1,274 L334.1,274 L333.5,276 L333.5,276.1 L332.8,278.2 L332.8,278.2 L332,280.4 L331.2,282.7 L330.5,284.8 L329.9,286.9 L329.4,288.7 L329.2,290.2 L329.2,291.5 L329.3,292.6 L329.6,293.6 L329.9,294.7 L330.4,295.8 L330.4,295.8 L330.8,296.9 L330.9,297.1 L331.2,298.2 L331.3,298.5 L331.5,299.6 L331.5,299.9 L331.6,301 L331.6,301.1 L331.6,302.1 L331.5,302.3 L331.5,303.2 L331.5,303.4 L331.4,304.3 L331.4,304.5 L331.2,305.4 L331.2,305.5 L331,306.5 L331,306.6 L330.7,307.6 L330.7,307.6 L330.4,308.7 L330.4,308.7 L330.1,309.8 L330.1,309.8 L329.7,310.9 L329.7,310.9 L329.3,312 L329.3,312.1 L328.9,313.2 L328.9,313.3 L328.4,314.4 L328.3,314.6 L327.7,315.7 L327.7,315.8 L327,317 L326.9,317.1 L326.1,318.4 L326,318.5 L325.9,318.6 L332.9,326 L331.8,327.4 L331.7,327.5 L331.7,327.5 L331.6,327.6 L330.4,329.1 L330.3,329.2 L330.3,329.2 L330.2,329.3 L329,330.7 L328.9,330.8 L328.8,330.9 L328.7,331 L327.4,332.4 L327.3,332.5 L327.3,332.6 L327.2,332.7 L325.8,334.1 L325.7,334.2 L325.6,334.2 L325.5,334.4 L324.1,335.7 L324,335.8 L323.9,335.9 L323.8,336 L322.4,337.3 L322.2,337.4 L322.1,337.5 L321.9,337.7 L320.4,338.9 L320.2,339.1 L320.1,339.2 L319.9,339.3 L318.2,340.5 L318.1,340.6 L318,340.7 L317.9,340.8 L316.1,342 L316.1,342 L316,342.1 L315.9,342.1 L314.2,343.3 L314.1,343.3 L314.1,343.3 L314.1,343.3 L312.3,344.4 L310.7,345.5 L309.4,346.3 L308.3,347.1 L307.2,348 L307.1,348 L307.1,348 L307,348.1 L306,348.8 L305.1,349.4 L304.6,349.8 L304.4,350 L304.4,350 L304.3,350.2 L304,350.8 L303.7,351.7 L303.3,353 L303.3,353 L303.3,353 L303.3,353 L302.9,354.3 L302.8,354.5 L302.8,354.5 L302.8,354.6 L302.3,355.9 L302.2,356.2 L302.2,356.3 L302.1,356.5 L301.6,357.8 L301.5,358 L301.4,358.1 L301.3,358.2 L300.8,359.5 L300.7,359.6 L300.7,359.6 L300.7,359.7 L300.1,361 L300,361 L300,361.1 L300,361.1 L299.3,362.4 L299.3,362.4 L299.3,362.5 L299.3,362.5 L298.6,363.8 L298.6,363.8 L298.6,363.8 L298.6,363.8 L298,365.1 L298,365.1 L297.9,365.3 L290.7,357.3 L291,356.7 L290.4,358 L290.4,358 L289.7,359.3 L289.7,359.3 L289.1,360.5 L289.1,360.5 L288.4,361.8 L287.8,363 L287.2,364.1 L287.2,364.2 L286.6,365.3 L286.5,365.5 L285.8,366.5 L285.7,366.6 L285,367.6 L284.4,368.5 L283.9,369.3 L283.6,369.9 L283.5,370.4 L283.5,370.7 L283.6,371.2 L283.9,371.8 L284.4,372.5 L285.1,373.4 L285.9,374.3 L286.8,375.3 L287.8,376.2 L287.8,376.3 L288.8,377.3 L288.8,377.3 L289.8,378.3 L290.8,379.3 L291.8,380.4 L292.9,381.4 L294.1,382.4 L295.2,383.3 L296.3,384.2 L297.3,384.9 L298.4,385.5 L299.4,386 L300.5,386.5 L301.7,386.9 L302.9,387.3 L304.2,387.7 L304.2,387.7 L305.5,388.2 L305.5,388.2 L306.8,388.6 L308.1,389.1 L309.4,389.4 L310.9,389.8 L310.9,389.8 L312.3,390.2 L312.4,390.2 L313.8,390.7 L314,390.7 L315.4,391.2 L315.6,391.3 L316.9,392 L317.2,392.1 L318.4,392.9 L318.6,393 L318.7,393.2 L319.7,394.1 L319.9,394.3 L320,394.4 L320.8,395.5 L321,395.7 L321.7,397 L321.8,397.1 L322.5,398.4 L322.5,398.4 L323.2,399.7 L324,400.9 L324.8,402.1 L325.8,403.2 L327,404.4 L328.4,405.5 L330,406.7 L331.7,407.9 L331.7,407.9 L333.5,409.2 L333.6,409.2 L335.5,410.7 L335.5,410.7 L337.5,412.3 L337.6,412.3 L339.6,414.1 L339.7,414.2 L341.9,416.2 L341.9,416.2 L344.3,418.4 L344.3,418.4 L346.9,420.8 L346.9,420.8 L349.5,423.3 L349.5,423.4 L352.1,425.9 L352.1,425.9 L352.8,426.6 L310.5,379.3 L311.1,379.5 L312,379.8 L313.4,380.1 L313.4,380.1 L313.4,380.1 L313.4,380.2 L314.9,380.5 L315.1,380.6 L315.2,380.6 L315.3,380.7 L316.8,381.1 L317.1,381.2 L317.2,381.2 L317.5,381.4 L318.9,381.9 L319.3,382 L319.6,382.1 L320,382.3 L321.3,383 L321.9,383.3 L322.1,383.4 L322.7,383.8 L323.9,384.6 L324.2,384.8 L324.4,384.9 L325.1,385.5 L325.2,385.6 L325.6,385.9 L326.6,386.8 L326.9,387.1 L327,387.3 L327.5,387.9 L327.7,388 L327.9,388.3 L328.8,389.4 L329.1,389.8 L329.2,390.1 L329.5,390.5 L330.3,391.7 L330.4,392 L330.5,392.1 L330.6,392.3 L331.3,393.6 L331.3,393.6 L331.3,393.6 L331.3,393.6 L331.9,394.8 L332.4,395.5 L332.6,395.9 L332.9,396.2 L333.6,396.8 L334.5,397.6 L335.9,398.6 L337.5,399.8 L337.5,399.8 L339.4,401.1 L339.4,401.1 L339.5,401.2 L339.5,401.2 L341.4,402.6 L341.6,402.7 L341.6,402.8 L341.8,402.9 L343.7,404.4 L343.9,404.6 L344,404.6 L344.1,404.8 L346.2,406.6 L346.3,406.6 L346.3,406.7 L346.4,406.8 L348.6,408.8 L348.6,408.8 L348.7,408.8 L348.7,408.8 L351.1,411.1 L351.1,411.1 L351.1,411.1 L351.2,411.1 L353.7,413.5 L353.8,413.6 L353.8,413.6 L353.8,413.6 L356.4,416.1 L356.5,416.2 L356.5,416.2 L356.6,416.3 L359.1,418.8 L359.2,418.9 L359.2,418.9 L359.3,419 L361.7,421.5 L361.8,421.6 L361.9,421.7 L362,421.8 L364.2,424.2 L364.4,424.4 L364.4,424.4 L364.6,424.6 L366.5,426.9 L366.7,427.2 L366.8,427.3 L367,427.5 L368.7,429.8 L368.9,430 L369,430.2 L369.2,430.5 L370.6,432.7 L370.7,432.9 L370.8,433 L370.9,433.3 L372.2,435.4 L372.3,435.6 L372.3,435.7 L372.4,435.8 L373.5,437.9 L373.5,438 L373.5,438 L373.6,438.1 L374.6,440.1 L375.5,441.9 L376.4,443.5 L377.3,444.9 L378.5,446.5 L379.9,448.3 L381.4,450.2 L383,452.1 L384.7,454.1 L384.7,454.1 L384.7,454.1 L384.7,454.1 L386.4,456.1 L386.5,456.1 L386.5,456.1 L386.5,456.2 L388.1,458.1 L388.2,458.2 L388.2,458.3 L388.3,458.3 L389.8,460.2 L389.9,460.4 L390,460.5 L390.1,460.6 L391.5,462.5 L391.6,462.6 L391.6,462.7 L391.7,462.8 L393,464.7 L393,464.8 L393.1,464.8 L393.1,464.9 L394.3,466.7 L394.3,466.8 L394.3,466.8 L394.3,466.8 L395.5,468.5 L396.5,470.1 L397.4,471.4 L398.2,472.5 L399,473.3 L399.7,474 L400.5,474.6 L401.7,475.5 L403.2,476.4 L404.9,477.6 L405,477.6 L405.1,477.7 L405.2,477.8 L406.9,478.9 L407.1,479.1 L407.2,479.2 L407.4,479.3 L409.1,480.7 L409.4,480.9 L409.5,481 L409.8,481.3 L411.5,482.8 L411.7,483 L411.8,483.1 L412,483.3 L413.6,485 L413.7,485.1 L413.8,485.2 L413.9,485.3 L415.6,487.2 L415.7,487.2 L415.7,487.3 L415.8,487.4 L417.6,489.4 L417.6,489.5 L417.7,489.5 L417.7,489.6 L419.5,491.7 L419.5,491.8 L419.6,491.8 L419.7,491.9 L421.3,494 L421.4,494.1 L421.5,494.2 L421.5,494.3 L423.1,496.4 L423.2,496.5 L423.3,496.5 L423.3,496.6 L424.8,498.7 L424.9,498.8 L425,498.9 L425,499 L426.4,501 L426.6,501.4 L426.7,501.5 L426.9,501.8 L428,503.8 L428.2,504.2 L428.3,504.4 L428.5,504.9 L429.4,506.9 L429.6,507.2 L429.6,507.3 L429.7,507.6 L430.5,509.6 L430.5,509.8 L430.6,509.8 L430.6,509.9 L431.3,511.9 L431.8,513.5 L432.3,514.4 L432.4,514.7 L433,515.5 L433.3,515.9 L433.4,516.1 L434,517 L434.1,517.3 L434.2,517.4 L436.7,517.5 L436.8,517.5 L436.9,517.5 L437.1,517.5 L451.6,518.8 L451.8,518.8 L451.9,518.8 L452,518.8 L472.1,521.2 L495.6,523.9 L518.5,526 L528.3,536.6 L520,536.2 L545.2,537.5 L568.4,536.9 L587.4,533.9 L600.4,528 L607.7,517.9 L611.4,503 L612.1,484.7 L610.6,465.9 L604.5,459.4 L598.8,453.4 L597.7,446.1 L594.3,427.5 L591.3,411.7 L591.3,411.5 L591.3,411.4 L591.2,411.1 L590.3,404.7 L589.7,404.6 L589.4,404.5 L588.5,404.1 L588.3,404 L587.8,403.8 L586.6,403.3 L586.2,403.1 L585.9,402.9 L585,402.4 L584.8,402.2 L584,401.6 L583.8,401.4 L583,400.7 L582.8,400.5 L582.2,399.7 L582,399.5 L581.4,398.6 L581.3,398.4 L581,397.9 L580,396.1 L579.7,395.6 L579.6,395.3 L579.4,394.8 L578.5,392.6 L578.4,392.3 L578.3,392.1 L578.2,391.8 L577.4,389.3 L577.3,389.1 L577.3,389.1 L577.3,388.9 L576.5,386.2 L576.4,386.1 L576.4,386.1 L576.4,386 L575.6,383.3 L574.9,380.8 L574.2,378.7 L573.5,376.9 L572.7,375.2 L571.8,373.4 L570.8,371.5 L569.8,369.7 L568.7,367.9 L567.6,366.1 L566.5,364.4 L565.5,362.8 L564.7,361.6 L564,360.6 L563.1,359.6 L562.2,358.4 L562.1,358.3 L562.1,358.3 L562.1,358.3 L561.1,357.1 L561,356.9 L560.9,356.9 L560.8,356.8 L559.9,355.5 L559.7,355.3 L559.6,355.2 L559.5,354.9 L558.6,353.6 L558.4,353.3 L558.3,353.1 L558.1,352.8 L557.2,351.3 L557,351 L556.9,350.8 L556.8,350.5 L555.9,348.8 L555.8,348.5 L555.7,348.3 L555.6,348 L554.9,346.3 L554.8,346.1 L554.8,346 L554.7,345.8 L554,343.9 L554,343.8 L554,343.8 L553.9,343.7 L553.3,341.8 L552.7,340 L552.1,338.4 L551.5,337 L550.9,335.8 L550.1,334.4 L549.2,332.8 L548.2,331.2 L547,329.5 L545.9,327.8 L544.6,326.1 L543.3,324.2 L541.9,322.4 L540.6,320.6 L539.2,318.7 L537.7,316.9 L536.2,315 L534.8,313.2 L533.3,311.4 L531.9,309.8 L530.6,308.2 L529.4,306.9 L528.3,305.7 L527.4,304.7 L526.4,303.7 L525.5,302.8 L524.4,301.8 L523.2,300.7 L521.8,299.4 L520.2,298.1 L518.3,296.5 L516.3,294.9 L514.1,293.2 L511.9,291.4 L509.7,289.7 L507.6,288.1 L505.7,286.6 L504.2,285.5 L502.7,284.4 L501.1,283.4 L499.5,282.3 L499.4,282.2 L499.4,282.2 L499.3,282.2 L497.7,281 L497.5,280.9 L497.5,280.9 L497.3,280.8 L495.7,279.6 L495.5,279.4 L495.4,279.3 L495.2,279.2 L493.6,277.8 L493.4,277.6 L493.3,277.5 L493.1,277.3 L491.4,275.8 L491.2,275.6 L491.1,275.5 L491,275.3 L489.2,273.5 L489.1,273.4 L489.1,273.3 L489,273.2 L487.2,271.2 L487.1,271.1 L487,271.1 L487,271 L485.2,268.8 L485.1,268.7 L485,268.7 L485,268.6 L483.2,266.4 L483.1,266.3 L483.1,266.3 L483,266.2 L481.3,263.9 L481.2,263.9 L481.2,263.8 L481.2,263.8 L479.5,261.5 L479.5,261.5 L479.4,261.4 L479.4,261.4 L477.9,259.2 L477.8,259.1 L477.8,259.1 L477.7,259 L476.4,257.1 L476.2,256.8 L476.1,256.7 L476,256.4 L474.9,254.6 L474.7,254.2 L474.6,254 L474.4,253.6 L473.5,251.8 L473.4,251.6 L473.3,251.4 L473.2,251.1 L472.4,249.4 L472.4,249.3 L472.4,249.2 L472.3,249.1 L471.7,247.5 L471.2,246.2 L470.8,245.4 L470.6,245.1 L470.4,244.7 L469.8,244.1 L468.9,243.2 L467.8,242.3 L466.6,241.4 L465.2,240.4 L463.8,239.5 L462.2,238.5 L460.8,237.7 L459.6,237.1 L458.2,236.6 L456.4,235.9 L454.2,235.2 L454.2,235.2 L454.2,235.2 L454.2,235.2 L452,234.5 L451.8,234.4 L451.8,234.4 L451.6,234.4 L449.5,233.6 L449.2,233.5 L449.1,233.4 L448.8,233.3 L446.9,232.5 L446.4,232.3 L446.2,232.2 L445.8,232 L444,231 L443.7,230.8 L443.5,230.7 L443.1,230.4 L441.5,229.4 L441.3,229.2 L441.2,229.1 L440.9,229 L439.4,227.8 L439.2,227.7 L439.1,227.6 L438.9,227.4 L437.5,226.2 L437.2,226 L437.1,225.9 L436.9,225.7 L435.6,224.5 L435.4,224.3 L435.3,224.2 L435,224 L433.9,222.7 L433.6,222.5 L433.5,222.3 L433.3,222.1 L432.2,220.8 L432,220.5 L431.9,220.4 L431.7,220.1 L430.7,218.7 L430.5,218.4 L430.4,218.3 L430.2,218 L429.4,216.6 L429.1,216 L428.9,215.8 L428.6,215.2 L427.9,213.7 L427.8,213.3 L427.7,213.2 L427.5,212.5 L427.4,212.3 L427.3,211.9 L426.8,210.3 L426.7,209.8 L426.7,209.6 L426.6,209.1 L426.3,207.5 L426.2,207.2 L426.2,207.1 L426.2,206.8 L426,205.1 L425.9,205.1 L425.8,203.7 L425.6,202.8 L425.5,202.3 L425.3,202 L424.8,201 L424.1,199.7 L423.3,198.4 L422.4,197.1 L421.5,195.9 L420.5,194.7 L419.5,193.7 L418.5,192.7 L417.4,191.8 L416,190.8 L414.4,189.8 L412.6,188.7 L410.6,187.7 L408.6,186.6 L406.5,185.5 L404.5,184.5 L402.7,183.7 L401,182.9 L399.2,182.2 L397.4,181.5 L395.5,180.8 L393.5,180 L391.3,179.3 L391.3,179.3 L391.3,179.3 L391.3,179.3 L389.1,178.5 L388.9,178.4 L388.8,178.4 L388.6,178.3 L386.3,177.3 L386.1,177.3 L386,177.2 L385.7,177.1 L383.3,176 L383.3,176 L383.2,176 L383.2,175.9 L380.8,174.8 L378.6,173.8 L376.8,173.1 L375.4,172.7 L374.6,172.5 L374.3,172.5 L373.9,172.6 L372.7,173 L370.8,173.9 L368.7,175 L366.4,176.4 L364.2,177.9 L362,179.3 L361.9,179.3 L361.9,179.4 L361.8,179.4 L361.2,179.8 L361.6,181.2 L361.8,181.8 L361.9,182.1 L362,182.7 L362.3,184.5 L362.4,184.9 L362.4,185.1 L362.4,185.6 L362.6,187.7 L362.7,187.8 L362.7,187.9 L362.7,188 L362.8,190.4 L362.8,190.5 L362.8,190.6 L362.8,190.7 L362.9,193.3 L363,193.4 L363,193.4 L363,193.6 L363,196.3 L363,196.4 L363,196.5 L363,196.6 L363,199.3 L363,199.5 L363,199.5 L363,199.7 L362.9,202.3 L362.9,202.5 L362.9,202.6 L362.9,202.8 L362.7,205.3 L362.7,205.5 L362.7,205.7 L362.7,205.9 L362.4,208.1 L362.4,208.6 L362.3,208.8 L362.3,209.2 L362.1,209.9 L361.6,209.4 L353,200.7 L353,199.4 L352.9,202ZM360.7,435.7 L360.8,435.9 L362.2,438.1 L362.2,438.2 L363.5,440.3 L363.5,440.4 L364.6,442.5 L364.6,442.6 L365.7,444.7 L366.7,446.7 L367.8,448.6 L369.1,450.6 L370.5,452.6 L372.1,454.6 L373.7,456.6 L375.4,458.6 L377.1,460.6 L377.1,460.6 L378.8,462.5 L378.8,462.6 L380.4,464.5 L380.5,464.6 L382,466.4 L382,466.5 L383.4,468.4 L383.4,468.5 L384.7,470.3 L384.7,470.4 L385.9,472.2 L385.9,472.2 L387.1,474 L388.2,475.7 L389.4,477.3 L390.5,478.9 L391.8,480.3 L393.1,481.5 L394.5,482.6 L396.1,483.7 L397.7,484.8 L399.4,485.9 L399.4,485.9 L401.1,487.1 L401.2,487.2 L402.9,488.5 L403,488.6 L404.7,490.2 L404.8,490.3 L406.5,492 L406.5,492 L408.2,493.9 L408.3,494 L410,496 L410.1,496 L411.8,498.1 L411.8,498.1 L413.5,500.3 L413.6,500.3 L415.2,502.4 L415.2,502.5 L416.7,504.5 L416.7,504.6 L418.1,506.6 L418.2,506.8 L419.3,508.7 L419.4,509 L420.3,511 L420.4,511.1 L421.1,513.2 L421.2,513.2 L421.9,515.2 L422.5,517.1 L423.2,518.8 L424,520.2 L425,521.5 L425.1,521.7 L425.3,522 L425.4,522.2 L425.4,522.5 L425.7,523.8 L425.8,524 L425.8,524.2 L425.8,524.5 L425.8,524.7 L425.7,524.9 L425.6,525.2 L425.5,525.4 L425.4,525.6 L425.3,525.8 L425.2,526 L424.5,526.7 L427.2,527 L436.1,527.5 L436.2,527.5 L450.8,528.7 L443.6,528.1 L421,502.9 L359.4,434 L360.7,435.7Z"/><circle cx="558.3" cy="340.7" r="5.1"/><circle cx="387.1" cy="174.1" r="5"/><circle cx="491.2" cy="275.1" r="5.3"/><circle cx="580.1" cy="375.4" r="6.5"/><circle cx="520.5" cy="286.3" r="4.7"/><circle cx="460.2" cy="233.9" r="5.3"/><circle cx="360.3" cy="171.2" r="4.6"/><circle cx="365.8" cy="431" r="5.2"/><circle cx="375.7" cy="444.7" r="6.2"/><circle cx="598.2" cy="414.2" r="5.6"/><circle cx="527.3" cy="296.9" r="6.2"/><circle cx="403.6" cy="479.3" r="5.1"/><circle cx="493.4" cy="528" r="5.8"/><circle cx="302.6" cy="349.7" r="4.8"/><circle cx="471.8" cy="521.3" r="5.5"/><circle cx="481.5" cy="246.2" r="4.7"/><circle cx="360.8" cy="197.8" r="5.9"/><circle cx="442.5" cy="224.1" r="5.5"/><circle cx="339.6" cy="403.6" r="5.6"/><circle cx="318.2" cy="336.6" r="5.8"/><circle cx="433.3" cy="204" r="5.5"/><circle cx="428.5" cy="194" r="4.7"/><circle cx="538.1" cy="314.8" r="5.4"/><circle cx="422.2" cy="191.5" r="6.3"/><circle cx="514.8" cy="527.8" r="5.8"/><circle cx="604" cy="456.4" r="5.7"/><circle cx="509.5" cy="533.7" r="6.3"/><circle cx="354.7" cy="192.3" r="5.8"/><circle cx="355.5" cy="182.4" r="5"/><circle cx="573.7" cy="365.1" r="5.8"/><circle cx="308.3" cy="342.9" r="6.2"/><circle cx="568.6" cy="355.4" r="5"/><circle cx="417.8" cy="187.2" r="5"/><circle cx="343.6" cy="412.1" r="4.9"/><circle cx="409.9" cy="488.1" r="6.4"/><circle cx="414.9" cy="179.9" r="5.1"/><circle cx="452.2" cy="519.1" r="6"/><circle cx="541.9" cy="308.7" r="4.6"/><circle cx="486.2" cy="261" r="4.6"/><circle cx="548.4" cy="329" r="6"/><circle cx="504.2" cy="284.7" r="4.9"/><circle cx="431.1" cy="209.7" r="5.4"/><circle cx="333.2" cy="396.6" r="5.8"/><circle cx="573.4" cy="373.8" r="5"/><circle cx="358.2" cy="430.2" r="5.7"/><circle cx="417.5" cy="490.8" r="4.7"/><circle cx="442.4" cy="522.4" r="4.7"/><circle cx="533.7" cy="309.2" r="4.6"/><circle cx="383.1" cy="457.2" r="5.8"/><circle cx="350.8" cy="178.4" r="5.9"/><circle cx="397.1" cy="474.3" r="5.5"/><circle cx="599.9" cy="449" r="5.3"/><circle cx="367.9" cy="442.9" r="6.4"/><circle cx="555" cy="330" r="5.1"/><circle cx="297.8" cy="345.6" r="6.2"/><circle cx="451.4" cy="231.2" r="6.4"/><circle cx="319.2" cy="383.5" r="6.1"/><circle cx="513.5" cy="291.7" r="6.3"/><circle cx="567.7" cy="366.2" r="5.3"/><circle cx="436.6" cy="518.7" r="5.8"/><circle cx="408.6" cy="180.2" r="6.3"/><circle cx="349.6" cy="412.5" r="4.8"/><circle cx="579.1" cy="391.9" r="5.6"/><circle cx="529.7" cy="303.3" r="5.9"/><circle cx="484.1" cy="254.9" r="6.1"/><circle cx="446.7" cy="526.7" r="5.6"/><circle cx="295.1" cy="355.2" r="6.4"/><circle cx="390.3" cy="466.4" r="6.1"/><circle cx="324.9" cy="321.3" r="6.5"/><circle cx="593.9" cy="400.6" r="6.3"/><circle cx="549.8" cy="322.3" r="5.6"/><circle cx="402.2" cy="183.2" r="6.5"/><circle cx="363.1" cy="178.5" r="5.7"/><circle cx="361" cy="204.5" r="4.7"/><circle cx="425.3" cy="499.7" r="5.8"/><circle cx="523" cy="536" r="5.7"/><circle cx="511.3" cy="280.5" r="5"/><circle cx="501.8" cy="533.8" r="6.1"/><circle cx="463.1" cy="529.1" r="5.9"/><circle cx="477.9" cy="253.8" r="6.4"/><circle cx="393" cy="172.3" r="5.4"/><circle cx="598.6" cy="427.7" r="5.5"/><circle cx="592.1" cy="411" r="5.7"/><circle cx="419.3" cy="500.5" r="6"/><circle cx="381.5" cy="166.2" r="5.9"/><circle cx="488.2" cy="531.7" r="4.6"/><circle cx="522.9" cy="292.3" r="6"/><circle cx="599.2" cy="404.4" r="4.8"/><circle cx="490.2" cy="268.2" r="5.1"/><circle cx="373.4" cy="169.5" r="4.7"/><circle cx="585.3" cy="397.6" r="6"/><circle cx="479.4" cy="531.9" r="4.5"/><circle cx="324.2" cy="388.2" r="6.4"/><circle cx="428.3" cy="505.2" r="5.2"/><circle cx="369.6" cy="164.5" r="4.9"/><circle cx="561.6" cy="352.6" r="5.8"/><circle cx="324.3" cy="332.7" r="6.4"/><circle cx="610" cy="462.6" r="5.9"/><circle cx="455.6" cy="529.2" r="5.3"/><circle cx="366.4" cy="171.3" r="5.2"/><circle cx="533.4" cy="298.4" r="5.8"/><circle cx="538.1" cy="303.9" r="5"/><circle cx="356" cy="416.2" r="5"/><circle cx="468" cy="238.2" r="5.8"/><circle cx="361.8" cy="184.5" r="4.7"/><circle cx="473.2" cy="527.2" r="5.8"/><circle cx="402.6" cy="175.6" r="6"/><circle cx="473.8" cy="235.5" r="6.3"/><circle cx="584.3" cy="387.7" r="5.3"/><circle cx="380.4" cy="173.3" r="5.8"/><circle cx="352.9" cy="202" r="4.8"/><circle cx="352.1" cy="209" r="5.2"/><circle cx="349.6" cy="215.6" r="4.7"/><circle cx="347" cy="222.1" r="4.7"/><circle cx="345.3" cy="228.9" r="5.6"/><circle cx="343.7" cy="235.7" r="4.4"/><circle cx="341.9" cy="242.5" r="5.9"/><circle cx="340.2" cy="249.3" r="4.9"/><circle cx="338.5" cy="256.1" r="4.3"/><circle cx="336.9" cy="263" r="4.5"/><circle cx="335.2" cy="269.8" r="4.2"/><circle cx="333.3" cy="276.6" r="5.4"/><circle cx="331" cy="283.2" r="4.6"/><circle cx="329.2" cy="290" r="4"/><circle cx="330.8" cy="296.7" r="4.7"/><circle cx="331.5" cy="303.7" r="5.6"/><circle cx="329.9" cy="310.5" r="4.7"/><circle cx="327" cy="316.9" r="3.9"/><circle cx="329.4" cy="322.2" r="4.7"/><circle cx="331.7" cy="327.5" r="5"/><circle cx="327.1" cy="332.7" r="5.4"/><circle cx="322" cy="337.6" r="4.3"/><circle cx="316.4" cy="341.8" r="4.4"/><circle cx="310.5" cy="345.6" r="4.9"/><circle cx="304.8" cy="349.7" r="5.3"/><circle cx="302.2" cy="356.1" r="6"/><circle cx="299.3" cy="362.5" r="4.9"/><circle cx="295.2" cy="362.3" r="4.1"/><circle cx="290.9" cy="357" r="4.8"/><circle cx="288" cy="362.6" r="4"/><circle cx="284.4" cy="368.5" r="5"/><circle cx="286.1" cy="374.5" r="5.3"/><circle cx="291" cy="379.5" r="4.2"/><circle cx="296.3" cy="384.2" r="4.5"/><circle cx="302.6" cy="387.2" r="5.1"/><circle cx="309.3" cy="389.4" r="4"/><circle cx="315.9" cy="391.5" r="4.6"/><circle cx="321.2" cy="396" r="4.7"/><circle cx="324.7" cy="402.1" r="5.5"/><circle cx="330" cy="406.7" r="5.2"/><circle cx="335.7" cy="410.8" r="3.9"/><circle cx="341" cy="415.4" r="4.7"/><circle cx="346.2" cy="420.2" r="5.1"/><circle cx="351.2" cy="425" r="4.8"/><circle cx="349.5" cy="423" r="4.5"/><circle cx="344.9" cy="417.8" r="4.8"/><circle cx="340.2" cy="412.5" r="5.9"/><circle cx="335.5" cy="407.3" r="4.9"/><circle cx="330.8" cy="402.1" r="5.7"/><circle cx="326.1" cy="396.8" r="4.5"/><circle cx="321.4" cy="391.6" r="4.8"/><circle cx="316.8" cy="386.3" r="5.5"/><circle cx="312.1" cy="381.1" r="4.8"/><circle cx="314.9" cy="380.6" r="5.9"/><circle cx="321.5" cy="383.1" r="4.6"/><circle cx="327" cy="387.3" r="5.6"/><circle cx="331" cy="393.1" r="5.8"/><circle cx="335.5" cy="398.3" r="4"/><circle cx="341.2" cy="402.4" r="4.5"/><circle cx="346.6" cy="406.9" r="4.3"/><circle cx="351.8" cy="411.7" r="5"/><circle cx="356.8" cy="416.5" r="5.9"/><circle cx="361.8" cy="421.5" r="5.2"/><circle cx="366.4" cy="426.8" r="5"/><circle cx="370.5" cy="432.5" r="4.4"/><circle cx="373.8" cy="438.7" r="4.6"/><circle cx="377.2" cy="444.8" r="3.9"/><circle cx="381.6" cy="450.4" r="5.7"/><circle cx="386.1" cy="455.7" r="3.9"/><circle cx="390.5" cy="461.2" r="5.3"/><circle cx="394.5" cy="467" r="4"/><circle cx="398.5" cy="472.7" r="5"/><circle cx="404" cy="477" r="5.6"/><circle cx="409.7" cy="481.2" r="5"/><circle cx="414.7" cy="486.1" r="5.8"/><circle cx="419.3" cy="491.4" r="4.2"/><circle cx="423.6" cy="497" r="5.9"/><circle cx="427.4" cy="502.8" r="6"/><circle cx="430.3" cy="509.2" r="6"/><circle cx="433.1" cy="515.6" r="4.5"/><circle cx="439.1" cy="517.7" r="4.9"/><circle cx="446.1" cy="518.3" r="6"/><circle cx="453.1" cy="519" r="5.2"/><circle cx="460.1" cy="519.8" r="5.3"/><circle cx="467.1" cy="520.6" r="3.9"/><circle cx="474.1" cy="521.4" r="4.4"/><circle cx="481" cy="522.2" r="4.3"/><circle cx="488" cy="523" r="4.4"/><circle cx="495" cy="523.8" r="5.2"/><circle cx="502" cy="524.5" r="4.3"/><circle cx="509" cy="525.1" r="5.4"/><circle cx="516" cy="525.8" r="6"/><circle cx="521.5" cy="529.3" r="4.9"/><circle cx="526.3" cy="534.5" r="4"/><circle cx="524.2" cy="536.4" r="5.3"/><circle cx="522.8" cy="536.3" r="5.9"/><circle cx="529.8" cy="536.7" r="4.5"/><circle cx="536.8" cy="537" r="5.9"/><circle cx="543.8" cy="537.4" r="5.8"/><circle cx="550.8" cy="537.3" r="4.9"/><circle cx="557.9" cy="537.2" r="4.5"/><circle cx="564.9" cy="537" r="5"/><circle cx="571.9" cy="536.4" r="5.2"/><circle cx="578.8" cy="535.3" r="4.4"/><circle cx="585.7" cy="534.2" r="5.9"/><circle cx="592.3" cy="531.7" r="5.3"/><circle cx="598.6" cy="528.8" r="5.2"/><circle cx="603.4" cy="523.8" r="6"/><circle cx="607.5" cy="518.2" r="4.3"/><circle cx="609.3" cy="511.4" r="4.8"/><circle cx="611" cy="504.6" r="4.7"/><circle cx="611.6" cy="497.6" r="5.4"/><circle cx="611.9" cy="490.6" r="6"/><circle cx="612" cy="483.6" r="4"/><circle cx="611.5" cy="476.6" r="4.1"/><circle cx="610.9" cy="469.6" r="4.3"/><circle cx="608.3" cy="463.5" r="5.1"/><circle cx="603.5" cy="458.4" r="5.6"/><circle cx="598.7" cy="453.2" r="5.9"/><circle cx="597.7" cy="446.3" r="5.2"/><circle cx="596.5" cy="439.4" r="4.7"/><circle cx="595.2" cy="432.5" r="5.2"/><circle cx="593.9" cy="425.6" r="4.7"/><circle cx="592.6" cy="418.6" r="3.9"/><circle cx="591.3" cy="411.7" r="4.2"/><circle cx="590.3" cy="404.8" r="4.8"/><circle cx="584.1" cy="401.7" r="5.2"/><circle cx="580" cy="396.1" r="5.4"/><circle cx="577.5" cy="389.5" r="5.5"/><circle cx="575.5" cy="382.8" r="4"/><circle cx="573.2" cy="376.2" r="4.3"/><circle cx="569.9" cy="370" r="4.2"/><circle cx="566.2" cy="364" r="4.8"/><circle cx="562.1" cy="358.3" r="5.6"/><circle cx="558" cy="352.6" r="5.3"/><circle cx="554.9" cy="346.3" r="5"/><circle cx="552.6" cy="339.7" r="4"/><circle cx="549.5" cy="333.4" r="4.7"/><circle cx="545.6" cy="327.5" r="5.3"/><circle cx="541.5" cy="321.8" r="4.2"/><circle cx="537.2" cy="316.3" r="4.8"/><circle cx="532.8" cy="310.8" r="4.7"/><circle cx="528.2" cy="305.5" r="4.4"/><circle cx="523.2" cy="300.6" r="4.8"/><circle cx="517.8" cy="296.1" r="5"/><circle cx="512.3" cy="291.7" r="5.8"/><circle cx="506.7" cy="287.4" r="5.6"/><circle cx="501" cy="283.3" r="4.9"/><circle cx="495.3" cy="279.3" r="5.8"/><circle cx="490.2" cy="274.5" r="5.2"/><circle cx="485.5" cy="269.2" r="5.3"/><circle cx="481.1" cy="263.7" r="5.2"/><circle cx="477" cy="258" r="5.9"/><circle cx="473.5" cy="251.9" r="5"/><circle cx="470.9" cy="245.5" r="4.7"/><circle cx="465.7" cy="240.8" r="5.5"/><circle cx="459.7" cy="237.2" r="4.9"/><circle cx="453.1" cy="234.8" r="4.6"/><circle cx="446.5" cy="232.3" r="5.7"/><circle cx="440.5" cy="228.7" r="5.3"/><circle cx="435.2" cy="224.1" r="4"/><circle cx="430.7" cy="218.7" r="5"/><circle cx="427.5" cy="212.5" r="5.1"/><circle cx="426" cy="205.6" r="4.7"/><circle cx="423.7" cy="199.1" r="6"/><circle cx="419.4" cy="193.6" r="4"/><circle cx="413.8" cy="189.4" r="4.8"/><circle cx="407.6" cy="186.1" r="5.6"/><circle cx="401.3" cy="183" r="4.8"/><circle cx="394.7" cy="180.5" r="4.8"/><circle cx="388.1" cy="178.1" r="5.7"/><circle cx="381.7" cy="175.2" r="5.3"/><circle cx="375.2" cy="172.6" r="5.3"/><circle cx="368.7" cy="175" r="5.5"/><circle cx="362.8" cy="178.8" r="4.2"/><circle cx="362.3" cy="184.8" r="5.3"/><circle cx="362.9" cy="191.8" r="3.9"/><circle cx="363" cy="198.8" r="4.2"/><circle cx="362.7" cy="205.8" r="5.5"/><circle cx="360.1" cy="207.8" r="5.6"/><circle cx="355.1" cy="202.8" r="5.8"/><circle cx="360.7" cy="435.7" r="4.3"/><circle cx="364.2" cy="441.8" r="4.9"/><circle cx="367.5" cy="448.1" r="4.1"/><circle cx="371.6" cy="453.9" r="4"/><circle cx="376.1" cy="459.4" r="5.2"/><circle cx="380.7" cy="464.8" r="3.9"/><circle cx="384.8" cy="470.5" r="3.9"/><circle cx="388.7" cy="476.4" r="5.4"/><circle cx="393.4" cy="481.7" r="4.5"/><circle cx="399.2" cy="485.8" r="4.8"/><circle cx="404.8" cy="490.2" r="4.6"/><circle cx="409.6" cy="495.4" r="4.4"/><circle cx="414" cy="500.9" r="4.9"/><circle cx="418.1" cy="506.7" r="5.8"/><circle cx="421.1" cy="513.1" r="5.6"/><circle cx="423.7" cy="519.7" r="4"/><circle cx="425.1" cy="526" r="4.6"/><circle cx="430.7" cy="527.2" r="4.6"/><circle cx="437.7" cy="527.6" r="5.3"/><circle cx="444.8" cy="528.2" r="5.8"/><circle cx="449.7" cy="528.7" r="6"/><circle cx="442.9" cy="527.4" r="3.9"/><circle cx="438.2" cy="522.1" r="4.3"/><circle cx="433.5" cy="516.9" r="5.9"/><circle cx="428.8" cy="511.6" r="5.5"/><circle cx="424" cy="506.3" r="5.7"/><circle cx="419.3" cy="501" r="4.5"/><circle cx="414.6" cy="495.7" r="3.9"/><circle cx="409.9" cy="490.4" r="5.3"/><circle cx="405.1" cy="485.2" r="3.9"/><circle cx="400.4" cy="479.9" r="4.3"/><circle cx="395.7" cy="474.6" r="4.4"/><circle cx="391" cy="469.3" r="4.2"/><circle cx="386.2" cy="464" r="4.5"/><circle cx="381.5" cy="458.8" r="5.4"/><circle cx="376.8" cy="453.5" r="4.6"/><circle cx="372.1" cy="448.2" r="5.6"/><circle cx="367.3" cy="442.9" r="4.8"/><circle cx="362.6" cy="437.6" r="4.6"/><circle cx="380" cy="123.3" r="6.7"/><circle cx="390" cy="131.7" r="6.7"/><circle cx="401.7" cy="141.7" r="6.7"/><circle cx="423.3" cy="153.3" r="6.7"/><circle cx="393.3" cy="156.7" r="6.5"/><circle cx="458.3" cy="185" r="6.7"/><circle cx="460" cy="198.3" r="6.5"/><circle cx="476.7" cy="208.3" r="6.5"/><circle cx="480" cy="221.7" r="6.5"/><circle cx="496.7" cy="235" r="6.7"/><circle cx="500" cy="241.7" r="6"/><circle cx="513.3" cy="256.7" r="6.7"/><circle cx="526.7" cy="261.7" r="6.7"/><circle cx="373.3" cy="146.7" r="7"/><circle cx="383.3" cy="133.3" r="6"/><circle cx="568.3" cy="311.7" r="6"/><circle cx="583" cy="325" r="7"/><circle cx="590" cy="340" r="7"/><circle cx="578" cy="335" r="6"/><circle cx="586" cy="352" r="5"/></g>
<g fill="#56b046"><circle cx="321.7" cy="408.1" r="5.7"/><circle cx="575.4" cy="348.9" r="6.3"/><circle cx="368.1" cy="153.2" r="7"/><circle cx="470.2" cy="225.9" r="4.8"/><circle cx="298.2" cy="394.4" r="5.7"/><circle cx="567.6" cy="314.8" r="6.6"/><circle cx="414.1" cy="505.4" r="5.4"/><circle cx="443.8" cy="204.1" r="5.4"/><circle cx="381.8" cy="484.8" r="5.6"/><circle cx="572.5" cy="338.7" r="6.1"/><circle cx="312.2" cy="406.5" r="6.2"/><circle cx="389.7" cy="485.9" r="6.3"/><circle cx="417.5" cy="515.5" r="5.4"/><circle cx="338.3" cy="434.3" r="5.8"/><circle cx="366.9" cy="452.5" r="6.1"/><circle cx="276.2" cy="369.1" r="5.5"/><circle cx="512" cy="272.3" r="5.6"/><circle cx="269.1" cy="371.2" r="6"/><circle cx="329.3" cy="419.9" r="4.9"/><circle cx="418.4" cy="171.9" r="5"/><circle cx="372.5" cy="461.7" r="6.6"/><circle cx="379.2" cy="157" r="7.1"/><circle cx="323.9" cy="314.2" r="6.1"/><circle cx="608.3" cy="422.5" r="5.1"/><circle cx="327.6" cy="270.9" r="5.9"/><circle cx="602.9" cy="375.2" r="6"/><circle cx="347" cy="192.7" r="5.6"/><circle cx="569.9" cy="329.2" r="5.8"/><circle cx="554.9" cy="539.8" r="5"/><circle cx="459" cy="222.8" r="5.6"/><circle cx="609.5" cy="434.3" r="5"/><circle cx="350" cy="199.9" r="4.9"/><circle cx="343.4" cy="223.3" r="6"/><circle cx="483.3" cy="223.1" r="5.3"/><circle cx="378.1" cy="471.3" r="6.7"/><circle cx="319.7" cy="399.4" r="6.2"/><circle cx="437.5" cy="182.6" r="7"/><circle cx="437.5" cy="196.6" r="5.4"/><circle cx="540.7" cy="288.6" r="5"/><circle cx="332.8" cy="257.2" r="6.2"/></g>
<g fill="#44713c"><path d="M292,358C292.7,356.7 297,355.8 300,356C303,356.2 307,357.7 310,359C313,360.3 317.3,362.5 318,364C318.7,365.5 316.3,367.5 314,368C311.7,368.5 307,367.7 304,367C301,366.3 298,365.5 296,364C294,362.5 291.3,359.3 292,358Z"/><path d="M306,384C306.3,382.3 309.3,379.3 312,378C314.7,376.7 319,376.7 322,376C325,375.3 327,374.7 330,374C333,373.3 336.7,372 340,372C343.3,372 349,373 350,374C351,375 348.3,377.3 346,378C343.7,378.7 339.3,377.3 336,378C332.7,378.7 329,380.3 326,382C323,383.7 320.7,387 318,388C315.3,389 312,388.7 310,388C308,387.3 305.7,385.7 306,384Z"/><path d="M320,398C320.7,396.7 325.3,394.3 328,394C330.7,393.7 335.3,394.7 336,396C336.7,397.3 334,401 332,402C330,403 326,402.7 324,402C322,401.3 319.3,399.3 320,398Z"/><path d="M346,402C347.3,400.3 352.7,397.7 356,396C359.3,394.3 363.3,392.3 366,392C368.7,391.7 372,392.7 372,394C372,395.3 368.7,398.3 366,400C363.3,401.7 359,403 356,404C353,405 349.7,406.3 348,406C346.3,405.7 344.7,403.7 346,402Z"/><path d="M380,424C380.8,422.8 384.8,422.2 386,423C387.2,423.8 387.8,427.8 387,429C386.2,430.2 382.2,430.8 381,430C379.8,429.2 379.2,425.2 380,424Z"/><path d="M364,446C364.7,443.8 369,442.8 372,443C375,443.2 381,445 382,447C383,449 380.3,453.5 378,455C375.7,456.5 370.3,457.5 368,456C365.7,454.5 363.3,448.2 364,446Z"/><path d="M393,471C393.8,469.8 397.8,469 399,470C400.2,471 400.8,475.8 400,477C399.2,478.2 395.2,478 394,477C392.8,476 392.2,472.2 393,471Z"/></g>
<path fill="#a9d69f" d="M492.1,340.6C492.4,340.8 492.1,341.4 492.3,341.8C492.5,342.1 493.2,342.6 493.2,342.9C493.1,343.1 492.3,343.1 491.9,343.2C491.5,343.3 491.2,343.6 490.9,343.5C490.5,343.4 490.4,343 489.9,342.7C489.5,342.3 488,341.9 488.1,341.5C488.2,341.1 489.9,340.6 490.6,340.4C491.3,340.3 491.8,340.3 492.1,340.6Z"/><path fill="#a9d69f" d="M394.7,349.4C394.6,349.8 394.2,350.8 393.8,350.9C393.5,351 392.8,350.3 392.5,350C392.1,349.8 391.9,349.8 391.7,349.5C391.5,349.2 391,348.5 391.2,348.1C391.4,347.6 392.4,346.9 392.8,347C393.3,347 393.7,348 394,348.4C394.3,348.8 394.7,349 394.7,349.4Z"/><path fill="#a9d69f" d="M549,410.6C548,411.3 545.2,410.9 543.6,410.4C542,409.9 539.3,408.3 539.4,407.4C539.6,406.5 542.9,405.1 544.6,405C546.4,404.9 549.1,405.7 549.8,406.6C550.6,407.5 550.1,410 549,410.6Z"/><path fill="#a9d69f" d="M441.5,367.4C442,366.9 443.7,366.8 445,366.7C446.4,366.5 449,366 449.6,366.5C450.2,367 449.2,368.6 448.5,369.7C447.9,370.8 446.5,373.2 445.6,373.2C444.6,373.2 443.3,370.7 442.6,369.7C441.9,368.8 441.1,367.9 441.5,367.4Z"/><path fill="#a9d69f" d="M341.5,321.6C342,321.4 344.2,322.1 344.9,322.7C345.7,323.2 346.4,324.3 346,324.9C345.7,325.5 343.4,326.2 342.7,326.1C342,325.9 342,324.7 341.7,324C341.5,323.2 341,321.8 341.5,321.6Z"/><path fill="#44713c" d="M537.9,340.6C538.7,341.3 538.9,343.3 538.6,344.6C538.2,345.9 536.6,348.6 535.8,348.5C535.1,348.5 534.4,345.8 534.1,344.4C533.7,343 533.3,341 533.9,340.3C534.6,339.7 537.2,339.9 537.9,340.6Z"/><path fill="#a9d69f" d="M595.5,495.3C596.1,496 597.1,497.1 596.8,497.7C596.6,498.2 594.8,498.6 593.9,498.7C593.1,498.8 592,498.4 591.7,498.1C591.4,497.8 591.9,497.4 592.1,496.7C592.3,495.9 592.3,494 592.8,493.8C593.4,493.6 594.8,494.7 595.5,495.3Z"/><path fill="#a9d69f" d="M477.8,406C476.9,406.2 475,406.8 474.7,406.2C474.5,405.7 476,403.6 476.3,402.8C476.6,402.1 476.4,402 476.7,401.7C477,401.3 477.5,401 478.2,400.8C478.8,400.6 480.1,399.8 480.7,400.2C481.3,400.6 481.9,402.2 481.8,403.1C481.8,404 481,405 480.3,405.5C479.6,405.9 478.7,405.9 477.8,406Z"/><path fill="#44713c" d="M405.7,425.6C406.3,425 408.3,425.6 409.4,425.9C410.5,426.2 412.2,426.7 412.2,427.3C412.2,427.9 410.6,429.2 409.5,429.5C408.4,429.9 406.3,430 405.7,429.3C405,428.7 405.1,426.2 405.7,425.6Z"/><path fill="#a9d69f" d="M607.8,466.2C608.2,467.2 609.8,467.5 609.7,468.3C609.6,469.2 608.3,471.2 607.2,471.6C606.1,471.9 604.1,471.1 603.4,470.5C602.6,469.9 603.4,468.9 602.7,468C602,467.1 598.9,465.5 599.3,464.9C599.6,464.3 603.2,464.6 604.6,464.2C606,463.8 607,462 607.5,462.3C608.1,462.7 607.5,465.2 607.8,466.2Z"/><path fill="#a9d69f" d="M547.5,443C548.3,442.6 551.2,443.4 551.6,443.9C552,444.5 550.4,445.5 549.9,446.3C549.4,447 549,448.5 548.5,448.4C547.9,448.3 546.8,446.8 546.6,445.9C546.4,445 546.6,443.3 547.5,443Z"/><path fill="#a9d69f" d="M414.1,325.3C413.4,324.6 412.9,323.6 413,322.8C413.1,322.1 413.9,321.3 414.7,320.7C415.5,320.1 416.6,319.1 417.7,319.1C418.8,319 420.6,319.6 421.5,320.3C422.3,321 422.9,322.4 422.9,323.4C422.9,324.5 422.3,326 421.4,326.6C420.4,327.2 418.2,327.3 417,327.1C415.8,326.9 414.7,326 414.1,325.3Z"/><path fill="#a9d69f" d="M486.8,471.7C485.2,472.5 483,473.5 482.2,473C481.4,472.5 481.5,469.9 482,468.6C482.5,467.3 483.5,465.4 485.1,465.3C486.8,465.3 491.7,467.3 492,468.4C492.3,469.5 488.4,470.9 486.8,471.7Z"/><path fill="#a9d69f" d="M426.3,419C425.4,418.8 424.5,417.1 424.3,416.5C424.1,415.8 424.5,415.3 424.9,414.9C425.3,414.6 426.1,414.2 426.6,414.2C427.2,414.2 427.7,414.4 428.2,415C428.7,415.5 430,416.9 429.7,417.6C429.3,418.2 427.1,419.2 426.3,419Z"/><path fill="#a9d69f" d="M426.7,391.1C427.3,390.7 428.6,390.2 429.1,390.5C429.6,390.8 429.8,392.3 429.8,393.1C429.8,393.9 429.6,395.3 429.2,395.5C428.7,395.6 427.5,394.4 427,394C426.4,393.6 425.7,393.5 425.6,393.1C425.6,392.6 426.1,391.6 426.7,391.1Z"/><path fill="#44713c" d="M338.9,375.7C339.1,374.8 338,373.7 338.4,373.4C338.8,373 339.9,373.5 341.4,373.5C342.8,373.5 346.4,372.7 346.9,373.3C347.5,373.8 345.5,376 344.7,377C344,378 343.5,378.6 342.6,379.3C341.7,379.9 340.3,381.2 339.4,381.1C338.4,381 337.2,379.5 337.1,378.6C337,377.7 338.7,376.6 338.9,375.7Z"/><path fill="#a9d69f" d="M483.1,395.5C482.5,396 482.3,397 481.5,397C480.7,397 478.2,396.1 478.1,395.5C478,394.9 480.3,394.2 480.9,393.4C481.5,392.7 481.1,391.1 481.6,391C482,390.8 482.9,392.1 483.5,392.7C484,393.3 485,393.9 484.9,394.4C484.8,394.9 483.7,395.1 483.1,395.5Z"/><path fill="#44713c" d="M542.3,312.4C542.6,312.8 543,313.6 542.7,313.9C542.5,314.3 541.4,314.4 540.8,314.4C540.2,314.4 539.4,314.1 539.3,313.8C539.2,313.5 540,313 540.3,312.6C540.6,312.2 540.7,311.6 541,311.6C541.4,311.6 542,312 542.3,312.4Z"/><path fill="#44713c" d="M449.3,223.3C450.5,224.6 452.1,227.4 451.3,228.4C450.4,229.3 445.9,229.5 444.1,229C442.2,228.5 440.3,226.8 440.2,225.4C440.2,224 442.3,221.1 443.8,220.8C445.3,220.4 448,222.1 449.3,223.3Z"/><path fill="#a9d69f" d="M398.7,390.3C399.5,389.9 400.3,388.8 401,388.9C401.7,388.9 402.2,390.1 402.8,390.6C403.4,391.2 404.4,391.5 404.6,392.2C404.7,392.9 404.3,394.3 403.6,394.6C402.8,394.9 400.9,394.4 400.1,394.2C399.2,394 399.1,393.8 398.4,393.3C397.8,392.9 396.1,391.9 396.1,391.4C396.2,390.9 397.9,390.8 398.7,390.3Z"/><path fill="#44713c" d="M406.3,213.8C406.5,214 406.1,214.8 405.7,215C405.3,215.3 404.5,215.1 404,215.1C403.5,215.2 403,215.3 402.8,215.2C402.6,215.1 402.9,214.8 402.7,214.5C402.6,214.2 401.8,213.7 401.9,213.5C402,213.2 402.9,213 403.2,213C403.6,213 403.6,213.3 404.1,213.4C404.6,213.6 406,213.5 406.3,213.8Z"/><path fill="#a9d69f" d="M359.2,343.3C358.8,343.4 358.3,343 358,342.7C357.8,342.5 357.9,342.1 357.9,341.8C357.9,341.6 357.9,341.3 358,341.2C358.1,341 358.1,341.1 358.4,340.9C358.7,340.7 359.3,339.9 359.7,339.9C360.1,340 360.6,340.7 360.8,341.1C360.9,341.5 360.7,341.9 360.5,342.3C360.2,342.6 359.6,343.3 359.2,343.3Z"/><path fill="#a9d69f" d="M461.8,450.5C460.9,449.7 461.5,447.4 462.2,446.3C462.8,445.3 464.3,444.1 465.6,444.2C467,444.3 470.1,445.8 470.4,446.9C470.6,448 468.5,450.3 467.1,450.9C465.6,451.5 462.6,451.2 461.8,450.5Z"/><path fill="#a9d69f" d="M542.8,506.9C543.2,507.2 543.8,507.5 543.9,508C543.9,508.4 543.6,509.4 543.1,509.7C542.7,509.9 541.5,509.8 541.1,509.5C540.7,509.2 541,508.3 540.9,507.8C540.7,507.3 539.9,506.7 540.1,506.4C540.3,506.2 541.6,506.2 542,506.3C542.5,506.4 542.5,506.6 542.8,506.9Z"/><path fill="#44713c" d="M395.9,403.5C396.5,403.8 397.4,404.4 397.5,405.1C397.6,405.7 397.3,407.1 396.6,407.4C395.8,407.7 393.6,407.2 393,406.8C392.4,406.3 392.7,405.5 392.8,404.8C392.9,404.2 393.2,403.2 393.7,403C394.3,402.7 395.3,403.1 395.9,403.5Z"/><path fill="#a9d69f" d="M464.5,326.1C464.1,326.3 463.5,326.7 463.1,326.7C462.7,326.6 462.2,326.1 462.1,325.8C462,325.5 462.2,325.2 462.3,324.7C462.5,324.3 462.5,323.5 463,323.3C463.5,323.2 464.8,323.5 465.2,323.8C465.6,324.1 465.5,324.8 465.4,325.2C465.3,325.5 464.8,325.8 464.5,326.1Z"/><path fill="#44713c" d="M373.3,421.1C373.2,420.8 373.3,420 373.7,419.7C374.1,419.3 375,418.8 375.6,419.1C376.2,419.4 377.5,421.1 377.3,421.6C377,422.1 375,422.1 374.3,422C373.7,421.9 373.4,421.5 373.3,421.1Z"/><path fill="#44713c" d="M355.1,373.8C355.3,373.4 356.7,372.9 357.3,372.9C357.9,372.9 358,373.5 358.6,373.7C359.1,373.9 360.5,373.8 360.7,374.2C360.8,374.6 360,375.7 359.6,376.2C359.3,376.6 359.2,376.7 358.7,376.8C358.1,377 356.8,377.4 356.4,377.2C355.9,376.9 356.2,376 356,375.4C355.8,374.8 354.9,374.3 355.1,373.8Z"/><path fill="#a9d69f" d="M536,433C535.1,432.7 533.9,432 533.8,431.4C533.7,430.8 534.7,430 535.4,429.4C536,428.9 536.8,428 537.5,428.1C538.2,428.1 539.5,429 539.8,429.9C540,430.7 539.8,432.6 539.1,433.1C538.5,433.6 536.9,433.3 536,433Z"/><path fill="#a9d69f" d="M418,266.4C417.6,267.3 414.7,267.9 413.3,268.2C411.9,268.5 410.5,269 409.5,268.3C408.5,267.6 406.7,264.7 407.2,264C407.7,263.2 410.9,263.9 412.3,263.7C413.7,263.6 414.6,262.5 415.6,263C416.5,263.4 418.4,265.5 418,266.4Z"/><path fill="#a9d69f" d="M355.5,224.5C357.1,223.9 359.6,223.6 360.5,224.2C361.4,224.9 361.7,227.5 361.1,228.4C360.5,229.3 358.6,229.8 356.8,229.7C355.1,229.6 350.8,228.8 350.5,227.9C350.3,227 353.8,225.2 355.5,224.5Z"/><path fill="#44713c" d="M440.1,291.2C439.1,291 438,289.1 437.9,288.1C437.8,287.2 438.9,286.2 439.7,285.6C440.4,284.9 441,284.2 442.4,284.2C443.8,284.1 447.8,284.6 448,285.5C448.3,286.5 445.5,289 444.2,289.9C442.8,290.9 441.2,291.5 440.1,291.2Z"/><path fill="#44713c" d="M473.9,500.7C474.8,500.8 476.5,501.9 476.7,502.5C476.8,503.1 475.5,504 474.7,504.4C474,504.8 472.9,505.1 472.2,504.9C471.6,504.8 470.8,504.3 470.6,503.7C470.5,503.2 470.8,502.2 471.4,501.7C471.9,501.2 473,500.6 473.9,500.7Z"/><path fill="#44713c" d="M448.7,276C448.5,275.6 449.6,275 449.8,274.4C450,273.7 449.3,272.5 449.9,272.1C450.5,271.6 452.6,271.4 453.3,271.8C454,272.2 453.9,273.7 454.1,274.6C454.3,275.4 454.8,276.7 454.3,277C453.8,277.2 452,276.5 451.1,276.3C450.1,276.1 448.9,276.3 448.7,276Z"/><path fill="#a9d69f" d="M491.9,467.2C491.8,467.9 491.6,468.5 491.2,468.6C490.8,468.8 490.1,468.3 489.7,468C489.3,467.8 488.9,467.6 488.8,467.2C488.6,466.7 488.3,465.7 488.9,465.3C489.5,465 491.7,464.6 492.2,464.9C492.7,465.2 492.1,466.6 491.9,467.2Z"/><path fill="#a9d69f" d="M384.5,260.6C384.2,260.1 384,259.3 384.2,258.9C384.3,258.4 385,258.3 385.4,257.9C385.8,257.6 386.2,256.5 386.6,256.6C387,256.6 387.3,257.8 387.8,258.2C388.3,258.6 389.5,258.8 389.5,259.1C389.5,259.5 388.5,259.9 388,260.3C387.4,260.8 386.8,261.6 386.2,261.7C385.6,261.7 384.8,261.1 384.5,260.6Z"/><path fill="#44713c" d="M519.3,326.9C519.6,327 520.5,327.4 520.5,327.6C520.4,327.8 519.4,328 519,328C518.6,328.1 518.4,328.1 518.1,328.1C517.8,328.1 517.3,328.4 517.2,328.2C517.1,328 517.4,327.4 517.4,327C517.4,326.6 517.1,326 517.3,325.9C517.5,325.8 518.3,326.4 518.7,326.5C519,326.7 519,326.7 519.3,326.9Z"/><path fill="#44713c" d="M472.4,297C473.2,297.1 474.5,297.6 475.1,298.2C475.7,298.8 476.3,299.9 476,300.7C475.8,301.6 474.6,302.8 473.7,303.2C472.8,303.7 471.4,304 470.5,303.7C469.6,303.4 468.5,302.1 468.1,301.3C467.8,300.5 468,299.8 468.4,299.2C468.7,298.6 469.6,298 470.2,297.7C470.9,297.3 471.6,297 472.4,297Z"/><path fill="#44713c" d="M577.9,404.4C576.9,403.8 575.9,403.7 575.4,402.9C574.9,402.1 574.3,400.2 575,399.6C575.6,399 578,399.5 579.4,399.3C580.7,399 582,398 583.1,398.3C584.2,398.6 585.6,400 585.9,401.1C586.1,402.2 585.2,404 584.5,404.8C583.8,405.7 582.6,406.2 581.5,406.1C580.4,406.1 578.9,404.9 577.9,404.4Z"/><path fill="#44713c" d="M456.8,501C456.2,500.9 455.7,500.2 455.5,499.8C455.3,499.3 455.3,498.8 455.6,498.4C455.9,498 456.8,497.3 457.2,497.4C457.5,497.4 457.5,498.2 457.8,498.7C458.1,499.2 458.9,500 458.7,500.4C458.6,500.8 457.3,501.1 456.8,501Z"/><path fill="#a9d69f" d="M456.9,419.9C457.9,419.3 460.5,418.7 461.5,419C462.4,419.3 462.8,421.1 462.8,421.8C462.8,422.6 462.3,423 461.6,423.7C460.9,424.3 459.6,426.1 458.5,425.9C457.5,425.8 455.6,423.9 455.3,422.9C455,421.9 455.9,420.6 456.9,419.9Z"/><path fill="#44713c" d="M366.1,431.5C366.3,431.1 369,430.7 369.8,430.3C370.6,429.8 370.4,428.9 370.9,428.8C371.4,428.6 371.7,428.9 372.6,429.3C373.5,429.7 376.6,430.6 376.6,431.1C376.6,431.7 373.4,432.3 372.6,432.8C371.7,433.2 371.8,433.8 371.2,433.8C370.7,433.8 369.9,433.3 369.1,432.9C368.2,432.5 366,431.9 366.1,431.5Z"/><path fill="#44713c" d="M344.9,385.3C344.5,386.6 344.2,389.1 343.3,389.1C342.5,389.2 340.2,386.8 339.8,385.8C339.4,384.8 339.9,383.7 340.9,382.9C341.9,382.2 345.3,381.1 346,381.5C346.7,381.9 345.4,384 344.9,385.3Z"/><path fill="#a9d69f" d="M408.3,398C408,397.8 407.8,397 407.8,396.7C407.8,396.3 408.3,396 408.5,395.8C408.7,395.5 408.8,395.5 409.2,395.3C409.5,395.1 410.3,394.6 410.7,394.7C411.2,394.8 412,395.5 412,395.9C411.9,396.2 410.8,396.5 410.5,396.8C410.1,397.2 410.2,397.6 409.8,397.8C409.5,398 408.7,398.2 408.3,398Z"/><path fill="#a9d69f" d="M369.3,295.6C369.8,295.9 370.5,296.9 370.6,297.5C370.6,298 370,298.8 369.5,299.1C369,299.4 368.6,298.9 367.6,299C366.5,299.1 363.9,300 363.3,299.5C362.7,299.1 363.3,297.2 364,296.6C364.6,295.9 366.3,296.1 367.2,295.9C368,295.8 368.7,295.4 369.3,295.6Z"/><path fill="#a9d69f" d="M470,372.9C469.6,372.4 469.2,372.1 469.2,371.8C469.3,371.4 469.8,371.1 470.2,370.7C470.6,370.3 471.2,369.5 471.8,369.5C472.4,369.5 473.6,370.2 473.8,370.7C474,371.1 472.8,371.4 472.8,371.9C472.9,372.4 474.3,373 474.1,373.5C473.9,373.9 472.3,374.7 471.7,374.6C471,374.5 470.4,373.4 470,372.9Z"/><path fill="#a9d69f" d="M539.5,523.6C539.5,523.2 540.1,522.6 540.5,522.5C540.9,522.4 541.5,522.6 542,522.9C542.5,523.2 543.5,523.5 543.5,524.1C543.6,524.7 543,526.6 542.4,526.7C541.9,526.8 540.7,525.3 540.3,524.7C539.8,524.2 539.5,524 539.5,523.6Z"/><path fill="#44713c" d="M487.3,518.3C486,518.6 485.2,518.7 484.4,518.2C483.7,517.8 482.8,516.6 482.6,515.8C482.4,515 482.9,514.2 483.2,513.4C483.5,512.6 483.9,511.1 484.5,511C485.1,510.9 485.5,512.5 486.6,512.8C487.8,513.1 490.7,512.4 491.5,512.9C492.4,513.5 492.7,515.4 491.9,516.3C491.2,517.1 488.5,517.9 487.3,518.3Z"/><path fill="#a9d69f" d="M527.5,479.9C527.2,478.9 525.6,478.1 525.8,477.7C526.1,477.3 528.2,477.5 529,477.5C529.8,477.4 529.8,477.5 530.9,477.3C532,477.1 534.6,476 535.5,476.6C536.4,477.1 536.8,479.5 536.2,480.6C535.6,481.7 533.5,482.6 532.1,483.1C530.8,483.6 528.9,484.3 528.1,483.8C527.4,483.3 527.9,481 527.5,479.9Z"/><path fill="#44713c" d="M387.2,233C387.4,232.7 388.7,232.8 389.2,232.9C389.6,232.9 389.8,233 389.9,233.2C390.1,233.4 390.2,233.7 390.1,234.1C390,234.4 389.8,235.3 389.4,235.3C389.1,235.4 388.4,235 388,234.6C387.6,234.2 387,233.3 387.2,233Z"/><path fill="#44713c" d="M440,502.8C439.8,502.9 439.5,502.1 439.1,501.7C438.8,501.4 437.8,501.2 437.8,500.8C437.8,500.4 438.6,499.4 439,499.2C439.5,499.1 440.3,499.5 440.7,499.8C441.1,500 441.6,500.5 441.6,500.9C441.6,501.2 441,501.3 440.7,501.7C440.4,502 440.3,502.8 440,502.8Z"/><path fill="#44713c" d="M584.8,398.5C585,398.7 584.6,399.2 584.6,399.6C584.7,400 585.4,400.6 585.1,400.9C584.9,401.1 583.7,401.1 583.2,401C582.6,400.9 582.1,400.5 581.9,400.2C581.7,399.9 581.7,399.4 581.9,399.1C582.1,398.8 582.5,398.3 583,398.2C583.5,398.1 584.5,398.2 584.8,398.5Z"/><path fill="#a9d69f" d="M457.7,403C457,403.2 455.1,402.9 454.9,402.4C454.6,402 456,400.9 456,400.3C455.9,399.6 454.5,399 454.5,398.5C454.6,398.1 455.8,397.5 456.4,397.5C457.1,397.5 458,398.2 458.7,398.6C459.4,398.9 460.5,399.1 460.5,399.5C460.6,400 459.6,400.5 459.1,401.1C458.6,401.7 458.4,402.8 457.7,403Z"/><path fill="#44713c" d="M396.1,212.1C395.2,211.7 393.7,211.7 393.4,211.1C393,210.6 393.7,209.4 394.2,208.9C394.7,208.4 395.6,208.4 396.3,208.1C397,207.9 397.7,207.3 398.4,207.5C399.2,207.6 400.4,208.3 400.8,209C401.1,209.6 401.1,210.7 400.7,211.4C400.2,212.1 399,213.1 398.2,213.2C397.4,213.3 396.9,212.4 396.1,212.1Z"/><path fill="#44713c" d="M479.4,256.9C478.4,255.9 476,254.9 476.4,254C476.8,253.2 480.3,251.7 481.9,251.9C483.5,252.1 486,253.9 486.1,255.2C486.3,256.4 483.9,259.3 482.8,259.6C481.6,259.9 480.5,257.8 479.4,256.9Z"/><path fill="#a9d69f" d="M409.8,373.3C411.2,373.5 414.5,375.2 414.5,375.9C414.5,376.6 410.8,377.5 409.7,377.7C408.5,377.9 408.1,377.6 407.6,377.2C407.1,376.7 406.1,375.7 406.5,375.1C406.9,374.4 408.5,373.2 409.8,373.3Z"/><path fill="#a9d69f" d="M511.2,507C510.7,507.2 510.5,507.7 510.1,507.7C509.8,507.8 509,507.4 509,507.1C508.9,506.9 509.6,506.4 509.8,506.1C509.9,505.7 509.5,505.2 509.7,505.1C509.9,505 510.6,505.2 510.9,505.3C511.1,505.5 510.7,505.6 511.1,505.8C511.5,506 513.1,506.4 513.1,506.6C513.1,506.8 511.7,506.9 511.2,507Z"/><path fill="#a9d69f" d="M535.8,506.3C535.2,506.1 534.8,504.6 534.8,503.5C534.7,502.4 534.3,499.9 535.3,499.6C536.3,499.3 540.1,500.9 540.6,501.7C541.1,502.5 539.1,503.7 538.3,504.4C537.5,505.2 536.4,506.4 535.8,506.3Z"/><path fill="#a9d69f" d="M439.5,416.2C440.4,415.5 442.8,415.2 443.7,415.7C444.7,416.2 444.8,418.1 445.1,419C445.4,419.9 445.6,420.2 445.3,421C445.1,421.9 444.8,423.7 443.8,424.1C442.7,424.5 440.1,424.1 439.1,423.4C438.2,422.7 438.1,420.9 438.1,419.7C438.2,418.5 438.6,416.8 439.5,416.2Z"/><path fill="#a9d69f" d="M465.8,322.4C466.4,322.6 466.6,324.1 466.7,324.8C466.8,325.6 467.1,326.6 466.6,327C466,327.4 464.4,327.3 463.3,327.1C462.3,326.9 460.2,326.3 460.1,325.7C460.1,325.1 462.1,324 463.1,323.5C464,322.9 465.2,322.2 465.8,322.4Z"/><path fill="#44713c" d="M429.2,269.2C429.5,269.4 428.9,270.5 428.8,271.3C428.6,272.1 428.7,273.7 428.2,273.9C427.6,274.1 426.3,272.9 425.7,272.5C425.2,272 424.8,271.6 424.7,271.2C424.7,270.8 425.2,270.3 425.5,270C425.9,269.8 426.3,270 426.9,269.8C427.6,269.7 428.9,268.9 429.2,269.2Z"/><path fill="#a9d69f" d="M416,305.3C416.5,305.7 415.6,307.2 415.1,307.9C414.6,308.7 414,309.5 413.2,309.7C412.3,309.9 411,309.6 410,309.1C409.1,308.6 407.2,307.2 407.6,306.6C407.9,306 410.7,305.9 412.1,305.7C413.5,305.5 415.5,304.9 416,305.3Z"/><path fill="#44713c" d="M353.2,416.9C351.4,417.1 347.1,416.3 346.5,415.2C345.8,414.2 348.2,411.2 349.4,410.5C350.7,409.8 352.9,410.6 354.2,411.2C355.6,411.7 357.7,413 357.6,414C357.4,414.9 355.1,416.6 353.2,416.9Z"/><path fill="#a9d69f" d="M594.2,458.5C594.3,458.8 593.8,459.3 593.6,459.6C593.5,459.9 593.5,460.1 593.3,460.3C593.1,460.4 592.5,460.7 592.2,460.6C592,460.6 591.9,460.3 591.8,460C591.6,459.8 591.4,459.6 591.4,459.2C591.5,458.9 591.6,458.2 592,458C592.3,457.7 592.9,457.5 593.3,457.6C593.7,457.7 594.2,458.1 594.2,458.5Z"/><path fill="#a9d69f" d="M524.3,371.4C524.7,371.8 524.5,373.6 524.1,374.3C523.7,375 522.5,375.1 521.9,375.4C521.3,375.7 521.5,375.8 520.4,376C519.4,376.1 516.5,377 515.6,376.5C514.8,376 514.5,373.8 515.1,372.9C515.7,371.9 518.3,371 519.3,370.9C520.3,370.8 520.4,372 521.3,372C522.1,372.1 523.8,371 524.3,371.4Z"/><path fill="#a9d69f" d="M487.3,356.3C488.5,355.7 490.8,357.8 492.2,358.8C493.7,359.8 496.3,361.5 496,362.2C495.7,363 492.1,363.1 490.3,363.1C488.5,363.1 485.8,363.3 485.3,362.2C484.8,361.1 486.2,356.9 487.3,356.3Z"/><path fill="#a9d69f" d="M499.8,430.6C500.1,430.3 501.5,430.3 502,430.4C502.6,430.6 503,431.1 503.1,431.6C503.1,432.1 502.7,433.2 502.2,433.4C501.7,433.6 500.3,433.1 499.9,432.6C499.5,432.1 499.4,431 499.8,430.6Z"/><path fill="#44713c" d="M515,314.1C514.8,314.4 514.4,314.5 514,314.6C513.5,314.8 512.8,315.2 512.5,315C512.1,314.9 511.7,314.2 511.8,313.7C511.8,313.3 512.3,312.2 512.9,312.1C513.4,312 514.6,312.6 515,312.9C515.3,313.2 515.2,313.8 515,314.1Z"/><path fill="#a9d69f" d="M484.3,372.9C485,372.1 486.8,371.4 487.3,371.7C487.9,372 487.7,374 487.6,374.8C487.5,375.7 487.4,376.6 486.6,376.9C485.8,377.2 483.2,377.1 482.9,376.4C482.5,375.7 483.5,373.6 484.3,372.9Z"/><path fill="#a9d69f" d="M502,458.8C502.5,458 504,457.8 505.2,457.4C506.4,456.9 507.7,455.6 509.1,456.2C510.4,456.8 513.8,460 513.3,461.1C512.9,462.1 508.4,462.5 506.5,462.7C504.7,462.8 502.9,462.6 502.1,461.9C501.4,461.3 501.5,459.5 502,458.8Z"/>
<path fill="#a9d69f" d="M239.1,115.2C238.3,115.1 237.4,115.1 236.8,114.3C236.2,113.6 234.9,111.7 235.5,110.7C236,109.8 239.3,108.1 240.3,108.4C241.2,108.8 240.8,111.6 241.1,112.7C241.4,113.9 242.3,114.9 242,115.3C241.6,115.8 240,115.4 239.1,115.2Z"/><path fill="#44713c" d="M192.3,205.6C192.1,205 192,203.8 192.5,203.5C193,203.2 194.7,203.7 195.5,203.9C196.3,204.1 197,204.2 197.4,204.7C197.8,205.2 198.1,206.4 197.8,207C197.5,207.5 196.2,207.8 195.5,207.9C194.8,208 194.2,207.9 193.6,207.6C193.1,207.2 192.5,206.3 192.3,205.6Z"/><path fill="#a9d69f" d="M205,122.6C205.2,121.4 204.9,118.7 205.8,118.2C206.6,117.7 209.3,118.9 210.2,119.7C211.1,120.5 211.3,122.2 211.1,123.1C210.8,124 209.8,124.6 208.7,125.1C207.7,125.6 205.4,126.4 204.8,126C204.2,125.6 204.8,123.9 205,122.6Z"/><path fill="#a9d69f" d="M239.4,91.2C238.2,91.5 237.1,91.9 236.7,91.5C236.2,91 236.4,89.1 236.8,88.4C237.3,87.8 238.2,87.5 239.4,87.6C240.7,87.8 244.3,88.7 244.3,89.3C244.3,89.9 240.7,90.8 239.4,91.2Z"/><path fill="#44713c" d="M164.1,190.4C164,191.1 162.7,191.6 161.9,191.8C161.1,191.9 159.5,191.8 159.3,191.3C159.1,190.9 160.1,189.8 160.7,189.2C161.3,188.6 162.4,187.4 162.9,187.6C163.5,187.8 164.3,189.7 164.1,190.4Z"/><path fill="#44713c" d="M182.4,198C182.8,198.1 183,198.6 183.5,199C184,199.4 185.4,200.2 185.3,200.5C185.2,200.8 183.6,200.7 182.9,201C182.2,201.2 181.4,202.2 181,202C180.7,201.9 180.7,200.7 180.8,200.2C180.8,199.6 180.8,199 181.1,198.7C181.4,198.3 182,198 182.4,198Z"/><path fill="#44713c" d="M183.7,203.1C184,203.7 184.2,205.2 183.9,205.5C183.6,205.7 182.5,204.8 181.9,204.4C181.3,204.1 180.5,204 180.5,203.5C180.5,203.1 181.5,202 182,201.9C182.5,201.8 183.3,202.5 183.7,203.1Z"/><path fill="#44713c" d="M258,89.8C258.6,90.4 257.9,90.6 258.6,91.4C259.2,92.1 262.2,94 261.9,94.4C261.6,94.7 258,93.2 256.7,93.3C255.4,93.4 255.5,95 254.3,94.9C253.2,94.8 250,93.4 249.8,92.5C249.6,91.7 252.3,90.6 253.2,89.7C254.1,88.8 254.6,87.2 255.4,87.2C256.2,87.2 257.5,89.1 258,89.8Z"/><path fill="#44713c" d="M170.1,191.8C170.8,191.9 171.5,193.7 171.8,194.5C172.1,195.3 172.3,196.1 171.9,196.7C171.5,197.3 170.3,198.1 169.6,198.2C169,198.2 168.5,197.2 168,196.9C167.5,196.5 167,196.6 166.5,196.1C166,195.7 164.6,194.7 164.8,194.3C165,193.9 167,194.2 167.9,193.8C168.8,193.4 169.4,191.7 170.1,191.8Z"/><path fill="#44713c" d="M264.5,73.5C263.9,73.5 262.5,73.6 262.2,73.3C262,73 262.6,71.9 263,71.5C263.4,71.2 264.1,71.2 264.6,71.2C265.1,71.1 265.8,71.2 265.9,71.5C266.1,71.7 265.8,72.6 265.6,72.9C265.3,73.2 265,73.4 264.5,73.5Z"/><path fill="#a9d69f" d="M163.5,208.9C162.8,209.2 161.5,208.9 160.8,208.6C160.2,208.2 159.9,207.7 159.5,206.8C159.2,206 157.9,204.2 158.8,203.5C159.6,202.8 163.5,201.9 164.5,202.4C165.6,202.9 165.3,205.5 165.1,206.6C164.9,207.7 164.2,208.6 163.5,208.9Z"/><path fill="#44713c" d="M156.8,193.5C156.7,192.6 156.7,191.9 157.1,191.4C157.6,190.8 158.6,190 159.5,190.1C160.4,190.2 162.4,191.1 162.5,191.7C162.7,192.4 161.3,193.3 160.6,194.1C159.8,194.9 158.7,196.5 158,196.4C157.4,196.3 157,194.3 156.8,193.5Z"/>
<g clip-path="url(#gtop)"><polyline fill="none" stroke="#444" stroke-width="0.8" stroke-dasharray="3,2.5" points="40,-4 98,61.2 248,229 296,279.5 426.7,418 518,517 660,670"/>
<polyline fill="none" stroke="#444" stroke-width="0.8" stroke-dasharray="3,2.5" points="40,67.8 98,136.8 700,853.2"/></g>
<g clip-path="url(#gB)"><polyline fill="none" stroke="#444" stroke-width="0.8" stroke-dasharray="3,2.5" points="42.8,-98.5 58,-83.7 73.2,-68.9 88.3,-54.1 103.5,-39.3 118.7,-24.4 133.9,-9.5 149.1,5.4 164.2,20.3 179.4,35.3 194.6,50.3 209.8,65.3 225,80.4 240.1,95.5 255.3,110.6 270.5,125.8 285.7,141 300.9,156.2 316,171.5 331.2,186.8 346.4,202.1 361.6,217.4 376.8,232.8 391.9,248.3 407.1,263.7 422.3,279.2 437.5,294.8 452.7,310.3 467.8,325.9 483,341.6 498.2,357.3 513.4,373 528.6,388.7 543.7,404.5 558.9,420.4 574.1,436.2 589.3,452.1 604.5,468.1 619.6,484.1 634.8,500.1 650,516.1"/></g>
<polyline fill="none" stroke="#444" stroke-width="0.8" stroke-dasharray="3,2.5" points="96,133.6 130,174.4"/>
<path d="M312,66C313.3,63.3 315.1,61.4 317.3,60.7C319.5,60 322.6,60.5 325.3,62C328,63.5 330.2,67.5 333.3,70C336.4,72.5 340.9,74.9 344,76.7C347.1,78.5 350.2,78.9 352,80.7C353.8,82.5 354.5,84.6 354.7,87.3C354.9,90 354.2,93.4 353.3,96.7C352.4,100 350.9,104.4 349.3,107.3C347.8,110.2 346.7,111.5 344,114C341.3,116.5 336.4,119.3 333.3,122C330.2,124.7 327.3,126.9 325.3,130C323.3,133.1 322.6,137.6 321.3,140.7C320,143.8 318.9,146.5 317.3,148.7C315.8,150.9 314.7,152.7 312,154C309.3,155.3 304,155.4 301.3,156.7C298.6,158 297.3,159.8 296,162C294.7,164.2 294,167.8 293.3,170C292.6,172.2 292,173.3 292,175.3C292,177.3 293.5,180.4 293.3,182C293.1,183.6 292.5,184.5 290.7,184.7C288.9,184.9 284.5,182.6 282.7,183.3C280.9,184 280.9,186.7 280,188.7C279.1,190.7 278.4,193.1 277.3,195.3C276.2,197.5 274.6,199.6 273.3,202C272,204.4 271.2,207.3 269.3,210C267.4,212.7 265.2,214.3 262,218C258.8,221.7 253.3,228.3 250,232C246.7,235.7 244.7,237 242,240C239.3,243 236.7,247.3 234,250C231.3,252.7 228.7,254.3 226,256C223.3,257.7 220.7,258.7 218,260C215.3,261.3 211.8,262.7 210,264C208.2,265.3 207.7,266.7 207,268C206.3,269.3 206.3,270 206,272C205.7,274 205,277.3 205,280C205,282.7 206,285.3 206,288C206,290.7 206,294 205,296C204,298 201.8,299.5 200,300C198.2,300.5 195.3,299.7 194,299C192.7,298.3 192.5,297.8 192,296C191.5,294.2 191.3,290.7 191,288C190.7,285.3 190.8,282.2 190,280C189.2,277.8 187.7,276.3 186,275C184.3,273.7 182.7,273 180,272C177.3,271 172.8,270.3 170,269C167.2,267.7 164.7,265.8 163,264C161.3,262.2 160.8,260.3 160,258C159.2,255.7 158,252.7 158,250C158,247.3 158.7,244.5 160,242C161.3,239.5 163.8,237.7 166,235C168.2,232.3 170.4,229.6 173,226C175.6,222.4 177.7,216.5 181.3,213.3C184.9,210.1 190.8,208.9 194.7,206.7C198.6,204.5 202.2,202.2 204.7,200C207.2,197.8 207.8,195.2 209.7,193.3C211.6,191.4 214.1,190.8 216,188.7C217.9,186.6 219.8,183.4 221.3,180.7C222.9,178 224,175.4 225.3,172.7C226.6,170 228,167.4 229.3,164.7C230.6,162 231.5,158.9 233.3,156.7C235.1,154.5 237.8,153.5 240,151.3C242.2,149.1 244.7,146 246.7,143.3C248.7,140.6 250.2,137.7 252,135.3C253.8,132.9 255.3,130.9 257.3,128.7C259.3,126.5 261.6,124.5 264,122C266.4,119.5 269.3,116.7 272,114C274.7,111.3 276.9,109.3 280,106C283.1,102.7 287.1,97.1 290.7,94C294.2,90.9 298.2,90.2 301.3,87.3C304.4,84.4 307.5,80.2 309.3,76.7C311.1,73.2 310.7,68.7 312,66Z" fill="#e8208c" fill-opacity="0.5" stroke="#7a4a60" stroke-width="0.9"/>
<g fill="#e8208c"><circle cx="332.3" cy="90.7" r="4.7"/><circle cx="191.9" cy="249.3" r="4.4"/><circle cx="290.1" cy="142.8" r="4.6"/><circle cx="165" cy="247.1" r="4.2"/><circle cx="342.6" cy="110" r="3.8"/><circle cx="182.1" cy="238" r="4.8"/><circle cx="324.5" cy="72.9" r="3.8"/><circle cx="264.9" cy="136.9" r="4.6"/><circle cx="189.8" cy="224.2" r="4.4"/><circle cx="248" cy="162.2" r="4.2"/><circle cx="247.5" cy="177.6" r="4.1"/><circle cx="256.2" cy="142.9" r="4.4"/><circle cx="213.2" cy="245.8" r="4.8"/><circle cx="230.1" cy="246.7" r="3.8"/><circle cx="305.6" cy="148.7" r="4.4"/><circle cx="209.1" cy="220.2" r="4.9"/><circle cx="312.7" cy="145.1" r="4.6"/><circle cx="259.8" cy="187.2" r="4.9"/><circle cx="287.7" cy="162" r="3.9"/><circle cx="284.8" cy="115.2" r="4.2"/><circle cx="249.8" cy="152.6" r="3.7"/><circle cx="273.4" cy="119.6" r="4.8"/><circle cx="225.9" cy="199.1" r="4.2"/><circle cx="276.9" cy="145.8" r="4.8"/><circle cx="255.7" cy="160.8" r="4.8"/><circle cx="309.8" cy="121.4" r="4"/><circle cx="217.2" cy="205.4" r="4.6"/><circle cx="302.5" cy="91.8" r="4.2"/><circle cx="262" cy="172.1" r="4.5"/><circle cx="281.4" cy="176.2" r="3.7"/><circle cx="323" cy="110" r="4.9"/><circle cx="318.9" cy="79.8" r="4.7"/><circle cx="265.7" cy="179.8" r="4.9"/><circle cx="170.9" cy="259.7" r="4.4"/><circle cx="296.6" cy="95.7" r="4.7"/><circle cx="335.6" cy="99.2" r="4.7"/><circle cx="209.8" cy="238.5" r="3.7"/><circle cx="231.9" cy="235.3" r="3.9"/><circle cx="317.1" cy="96.8" r="4.6"/><circle cx="224.8" cy="206.7" r="4.8"/><circle cx="279" cy="163.8" r="3.7"/><circle cx="340.8" cy="91.8" r="4.2"/><circle cx="216.8" cy="220.8" r="4.9"/><circle cx="215.3" cy="234.2" r="4.4"/><circle cx="237.8" cy="187.6" r="4.8"/><circle cx="233" cy="209.4" r="4.4"/><circle cx="289.7" cy="130.6" r="4.3"/><circle cx="268.2" cy="147.2" r="4.8"/><circle cx="180.3" cy="230.8" r="4.9"/><circle cx="258.6" cy="200.5" r="4"/><circle cx="234.2" cy="174.8" r="3.9"/><circle cx="297" cy="135.6" r="4.1"/><circle cx="297.1" cy="151.2" r="4.4"/><circle cx="240.6" cy="163.1" r="3.8"/><circle cx="232.6" cy="223" r="4"/><circle cx="175.3" cy="240.6" r="4.5"/><circle cx="270.7" cy="133.1" r="4.2"/><circle cx="264.2" cy="154" r="4.3"/><circle cx="308.5" cy="99.7" r="4.4"/><circle cx="283.5" cy="151.4" r="4.4"/><circle cx="252.1" cy="199.3" r="4.8"/><circle cx="218.3" cy="192.4" r="4.4"/><circle cx="242.2" cy="208.6" r="4.6"/><circle cx="320" cy="132.5" r="4"/><circle cx="302.6" cy="123.8" r="4.1"/><circle cx="185.9" cy="216.3" r="4.4"/><circle cx="211" cy="259.3" r="4.9"/><circle cx="251.9" cy="185.4" r="4.3"/><circle cx="336.8" cy="83" r="4.4"/><circle cx="309.2" cy="136.2" r="3.9"/><circle cx="201.2" cy="222.5" r="4.4"/><circle cx="227.3" cy="182" r="4.7"/><circle cx="269.6" cy="169.1" r="3.7"/><circle cx="280.3" cy="130.4" r="4"/><circle cx="210" cy="208.1" r="4.2"/><circle cx="194.9" cy="231.3" r="4.7"/><circle cx="234.2" cy="197.3" r="4.3"/><circle cx="285.8" cy="136.8" r="4.3"/><circle cx="295" cy="117.9" r="4.1"/><circle cx="304.5" cy="117" r="3.9"/><circle cx="223" cy="230" r="3.8"/><circle cx="324.6" cy="98.4" r="4.8"/><circle cx="304.9" cy="141.8" r="4.7"/><circle cx="255.1" cy="178.9" r="3.9"/><circle cx="218.2" cy="252.7" r="4.6"/><circle cx="221.2" cy="242.6" r="4.3"/><circle cx="310.4" cy="88.8" r="4.5"/><circle cx="203.5" cy="212.6" r="4.2"/><circle cx="276.7" cy="181.1" r="4.5"/><circle cx="285.9" cy="125.2" r="4.7"/><circle cx="241.5" cy="173.7" r="3.8"/><circle cx="265.3" cy="200.9" r="4.4"/><circle cx="204.9" cy="233.9" r="4"/><circle cx="290.9" cy="154.1" r="4.4"/><circle cx="203.3" cy="205.8" r="4.7"/><circle cx="251.4" cy="223" r="3.9"/><circle cx="293.4" cy="107.2" r="4"/><circle cx="188.8" cy="237.1" r="4.2"/><circle cx="195" cy="286.4" r="4.2"/><circle cx="198.6" cy="244.4" r="4.6"/><circle cx="349.6" cy="94.5" r="3.7"/><circle cx="254.9" cy="170.2" r="3.7"/><circle cx="195.2" cy="214.1" r="4.2"/><circle cx="242.5" cy="155.4" r="4.9"/><circle cx="342.4" cy="99.7" r="4.9"/><circle cx="283.4" cy="144.1" r="4.2"/><circle cx="252.4" cy="207.1" r="4.5"/><circle cx="258.2" cy="149.8" r="4.2"/><circle cx="311.8" cy="108.4" r="4.3"/><circle cx="257.8" cy="136.5" r="3.9"/><circle cx="244.4" cy="229.3" r="3.8"/><circle cx="200.9" cy="269.1" r="4.2"/><circle cx="328.4" cy="116" r="3.8"/><circle cx="278" cy="137.5" r="4.3"/><circle cx="319.3" cy="118.9" r="4.5"/><circle cx="180.7" cy="245.7" r="3.7"/><circle cx="175.1" cy="253" r="4.2"/><circle cx="325.3" cy="87" r="3.9"/><circle cx="237.1" cy="204" r="4.2"/><circle cx="272.5" cy="188.4" r="4.8"/><circle cx="224.4" cy="218" r="3.9"/><circle cx="334.9" cy="113.6" r="4.6"/><circle cx="181.6" cy="224.2" r="4.3"/><circle cx="303" cy="107" r="4.3"/><circle cx="294.9" cy="126.4" r="3.7"/><circle cx="316.3" cy="67.6" r="3.8"/><circle cx="190.9" cy="259.2" r="4.9"/><circle cx="200.3" cy="259.2" r="4"/><circle cx="288.6" cy="176.2" r="4.6"/><circle cx="298.4" cy="112.1" r="4.5"/><circle cx="247.8" cy="216.5" r="4.1"/><circle cx="310.4" cy="82.2" r="4.7"/><circle cx="332.7" cy="76.9" r="4.6"/><circle cx="298.5" cy="143.1" r="4.9"/><circle cx="227.4" cy="189.9" r="4.5"/><circle cx="255.6" cy="214.7" r="4.3"/><circle cx="273.4" cy="194.8" r="4"/><circle cx="208.2" cy="201.3" r="4.2"/><circle cx="180.3" cy="266" r="4.2"/><circle cx="323.6" cy="65.3" r="3.7"/><circle cx="240.6" cy="181.6" r="4.2"/><circle cx="239" cy="217.3" r="4.9"/><circle cx="262.9" cy="208.4" r="4"/><circle cx="171.2" cy="234.4" r="3.9"/><circle cx="324.6" cy="124.1" r="4.4"/><circle cx="279" cy="123.2" r="4.5"/><circle cx="208.6" cy="251.8" r="3.9"/><circle cx="189.5" cy="266.4" r="4.9"/><circle cx="268.2" cy="123.9" r="4"/><circle cx="210" cy="229.7" r="4.1"/><circle cx="262.4" cy="160.4" r="4.6"/><circle cx="316.9" cy="126.7" r="4"/><circle cx="349.3" cy="87.4" r="3.8"/><circle cx="301.6" cy="130.3" r="4"/><circle cx="329.3" cy="108.1" r="4"/><circle cx="205.5" cy="243.6" r="4.8"/><circle cx="273.4" cy="158.7" r="4.8"/><circle cx="245.5" cy="199" r="4.3"/><circle cx="227.6" cy="240.3" r="4.5"/><circle cx="238.3" cy="231.9" r="4.5"/></g>
<path d="M212.8,191.1 L212,191.6 L211.2,192.1 L210.4,192.6 L209.7,193.3 L209,194 L208.5,194.8 L207.9,195.7 L207.4,196.5 L206.9,197.4 L206.3,198.3 L205.6,199.1 L204.7,200 L203.7,200.8 L202.6,201.7 L201.5,202.5 L200.2,203.4 L198.9,204.2 L197.6,205 L196.1,205.9 L194.7,206.7 L193.2,207.5 L191.5,208.2 L189.7,208.9 L187.9,209.6 L186.1,210.4 L184.4,211.2 L182.8,212.2 L181.3,213.3 L180,214.6 L178.8,216.1 L177.8,217.8 L176.7,219.5 L175.8,221.2 L174.9,222.9 L173.9,224.5 L173,226 L172.3,227 L206.6,269 L206.6,268.9 L206.8,268.5 L207,268 L207.4,267 L208,266 L208.7,264.9 L209.5,263.9 L210.3,262.9 L211.2,261.9 L212.1,260.9 L213,260 L214,259.2 L215.1,258.5 L216.2,257.8 L217.4,257.2 L218.6,256.5 L219.6,255.6 L220.6,254.6 L221.3,253.3 L221.8,251.7 L222.2,249.8 L222.4,247.8 L222.6,245.6 L222.7,243.4 L222.7,241.1 L222.8,238.8 L223,236.7 L223.2,234.6 L223.4,232.5 L223.6,230.4 L223.8,228.3 L223.9,226.1 L224.2,224.1 L224.4,222 L224.7,220 L225,218 L225.4,216.1 L225.8,214.3 L226.3,212.4 L226.7,210.6 L227.2,208.7 L227.6,206.9 L227.7,206.3 L213.6,190.6 L212.8,191.1Z" fill="none" stroke="#000" stroke-width="1.6" stroke-linejoin="round"/></g>
<g clip-path="url(#c2)"><polygon fill="#b5b5b5" points="42.8,423.6 58,438.4 73.2,453.2 88.3,468 103.5,482.8 118.7,497.7 133.9,512.6 149.1,527.5 164.2,542.4 179.4,557.4 194.6,572.4 209.8,587.4 225,602.5 240.1,617.6 255.3,632.7 270.5,647.9 285.7,663.1 300.9,678.3 316,693.6 331.2,708.9 346.4,724.2 361.6,739.5 376.8,754.9 391.9,770.4 407.1,785.8 422.3,801.3 437.5,816.9 452.7,832.4 467.8,848 483,863.7 498.2,879.4 513.4,895.1 528.6,910.8 543.7,926.6 558.9,942.5 574.1,958.3 589.3,974.2 604.5,990.2 619.6,1006.2 634.8,1022.2 650,1038.2 650,916.8 634.8,900.6 619.6,884.4 604.5,868.3 589.3,852.4 574.1,836.5 558.9,820.8 543.7,805.2 528.6,789.7 513.4,774.3 498.2,759 483,743.8 467.8,728.7 452.7,713.8 437.5,698.9 422.3,684.1 407.1,669.5 391.9,654.9 376.8,640.5 361.6,626.2 346.4,611.9 331.2,597.8 316,583.7 300.9,569.8 285.7,556 270.5,542.2 255.3,528.5 240.1,515 225,501.5 209.8,488.1 194.6,474.8 179.4,461.6 164.2,448.5 149.1,435.4 133.9,422.4 118.7,409.5 103.5,396.7 88.3,384 73.2,371.3 58,358.7 42.8,346.2"/>
<polygon fill="#6e6e6e" points="42.8,420.8 58,435.5 73.2,450.2 88.3,465 103.5,479.7 118.7,494.5 133.9,509.3 149.1,524.2 164.2,539.1 179.4,554 194.6,568.9 209.8,583.9 225,598.9 240.1,613.9 255.3,629 270.5,644.1 285.7,659.3 300.9,674.4 316,689.6 331.2,704.9 346.4,720.2 361.6,735.5 376.8,750.9 391.9,766.3 407.1,781.7 422.3,797.2 437.5,812.7 452.7,828.2 467.8,843.8 483,859.4 498.2,875.1 513.4,890.8 528.6,906.5 543.7,922.3 558.9,938.1 574.1,954 589.3,969.9 604.5,985.8 619.6,1001.8 634.8,1017.8 650,1033.9 650,925.1 634.8,908.8 619.6,892.7 604.5,876.6 589.3,860.7 574.1,844.8 558.9,829.1 543.7,813.4 528.6,797.9 513.4,782.5 498.2,767.2 483,751.9 467.8,736.8 452.7,721.8 437.5,706.9 422.3,692.1 407.1,677.4 391.9,662.8 376.8,648.3 361.6,633.8 346.4,619.5 331.2,605.3 316,591.2 300.9,577.1 285.7,563.2 270.5,549.3 255.3,535.6 240.1,521.9 225,508.3 209.8,494.8 194.6,481.4 179.4,468.1 164.2,454.8 149.1,441.6 133.9,428.5 118.7,415.5 103.5,402.5 88.3,389.6 73.2,376.8 58,364.1 42.8,351.4"/>
<polygon fill="#333333" points="42.8,418.1 58,432.7 73.2,447.3 88.3,462 103.5,476.6 118.7,491.4 133.9,506.1 149.1,520.9 164.2,535.7 179.4,550.5 194.6,565.4 209.8,580.3 225,595.3 240.1,610.3 255.3,625.3 270.5,640.3 285.7,655.4 300.9,670.6 316,685.7 331.2,700.9 346.4,716.2 361.6,731.5 376.8,746.8 391.9,762.1 407.1,777.5 422.3,793 437.5,808.5 452.7,824 467.8,839.5 483,855.2 498.2,870.8 513.4,886.5 528.6,902.2 543.7,918 558.9,933.8 574.1,949.7 589.3,965.6 604.5,981.5 619.6,997.5 634.8,1013.5 650,1029.6 650,937.1 634.8,920.8 619.6,904.7 604.5,888.6 589.3,872.7 574.1,856.8 558.9,841.1 543.7,825.4 528.6,809.9 513.4,794.4 498.2,779 483,763.8 467.8,748.6 452.7,733.5 437.5,718.5 422.3,703.6 407.1,688.8 391.9,674.1 376.8,659.5 361.6,645 346.4,630.6 331.2,616.2 316,602 300.9,587.8 285.7,573.7 270.5,559.7 255.3,545.8 240.1,532 225,518.2 209.8,504.6 194.6,491 179.4,477.5 164.2,464 149.1,450.6 133.9,437.3 118.7,424.1 103.5,411 88.3,397.9 73.2,384.8 58,371.9 42.8,359"/>
<polygon fill="#b5b5b5" points="40,518.1 98,583.4 248,751.1 296,801.6 426.7,940.1 518,1039.1 660,1192.1 700,1369.5 405.3,1025 236,827.1 98,658.1 40,587.1"/>
<polygon fill="#6e6e6e" points="40,521.4 98,586.6 248,754.8 296,805.5 426.7,944.3 518,1043.6 660,1196.6 700,1354.9 412.7,1025 240,827.1 98,654.8 40,584.5"/>
<polygon fill="#333333" points="40,524.1 98,589.4 248,758 296,808.8 426.7,948.1 518,1047.6 660,1200.6 700,1336.9 421,1025 244,827.1 98,651.4 40,581.6"/>
<path d="M113,730C112.2,727.5 113.3,725.5 114.7,723.3C116.1,721.1 118.5,718.9 121.3,716.7C124.1,714.5 128.8,712.2 131.3,710C133.8,707.8 134.6,706.1 136.3,703.3C138,700.5 138.8,696.6 141.3,693.3C143.8,690 148,686.6 151.3,683.3C154.6,680 158.2,676.6 161.3,673.3C164.4,670 166.9,666.3 169.7,663.3C172.5,660.2 175.5,657.8 178,655C180.5,652.2 182.2,649.8 184.7,646.7C187.2,643.7 190.2,639.8 193,636.7C195.8,633.6 197.7,631.1 201.3,628.3C204.9,625.5 211.1,622.5 214.7,620C218.3,617.5 221.1,616.1 223,613.3C224.9,610.5 225.2,606.1 226.3,603.3C227.4,600.5 227.8,598.6 229.7,596.7C231.6,594.8 234.9,593.4 238,591.7C241.1,590 244.7,589.2 248,586.7C251.3,584.2 254.7,579.5 258,576.7C261.3,573.9 264.7,571.7 268,570C271.3,568.3 275.4,567.3 278,566.7C280.6,566.1 280.2,566.9 283.3,566.3C286.4,565.7 292.2,563.5 296.7,563C301.1,562.5 306.1,562.7 310,563C313.9,563.3 317.5,563.3 320,564.7C322.5,566.1 323.6,568.5 325,571.3C326.4,574.1 326.9,578.2 328.3,581.3C329.7,584.4 330.8,587.5 333.3,589.7C335.8,591.9 339.4,593.3 343.3,594.7C347.2,596.1 352.8,596.6 356.7,598C360.6,599.4 363.9,601 366.7,603C369.5,605 371.6,606.9 373.3,609.7C375,612.5 375.6,616.4 376.7,619.7C377.8,623 378.3,626.9 380,629.7C381.7,632.5 383.9,634.1 386.7,636.3C389.5,638.5 393.4,640.8 396.7,643C400,645.2 403.9,646.6 406.7,649.7C409.5,652.8 410,659.2 413.3,661.7C416.6,664.2 423.4,663.1 426.7,665C430,666.9 431.6,669.7 433.3,673.3C435,676.9 435,682.8 436.7,686.7C438.4,690.6 440.5,693.4 443.3,696.7C446.1,700 450,703.7 453.3,706.7C456.6,709.8 460.5,711.7 463.3,715C466.1,718.3 467.8,723.1 470,726.7C472.2,730.3 473.9,733.9 476.7,736.7C479.5,739.5 483.4,741.1 486.7,743.3C490,745.5 493.4,747.8 496.7,750C500,752.2 503.4,753.9 506.7,756.7C510,759.5 512.8,764.2 516.7,766.7C520.6,769.2 526.4,769.5 530,771.7C533.6,773.9 536.6,777.5 538.3,780C540,782.5 540.8,784.5 540,786.7C539.2,788.9 535.3,790 533.3,793.3C531.3,796.6 529.2,801.1 528,806.7C526.8,812.3 525.7,821.5 526,826.7C526.3,831.9 526.5,835.2 530,838C533.5,840.8 542.5,840.5 546.7,843.3C550.9,846.1 553.1,850.8 555,855C556.9,859.2 558.3,864.1 558.3,868.3C558.3,872.5 557.2,877.4 555,880C552.8,882.6 550,883.5 545,884.2C540,884.9 530.5,884.9 525,884.2C519.5,883.5 516.2,880.2 512,880C507.8,879.8 504.5,882.2 500,883C495.5,883.8 490,884 485,885C480,886 474.5,887.3 470,889C465.5,890.7 461.7,892.8 458,895C454.3,897.2 451,900 448,902C445,904 439.3,906.5 440,907C440.7,907.5 447.6,905.6 452,905C456.4,904.4 458.7,903.3 466.7,903.3C474.7,903.3 488.9,903.6 500,905C511.1,906.4 524.4,909.8 533.3,911.7C542.2,913.7 547.2,915.3 553.3,916.7C559.4,918.1 565.5,918.6 570,920C574.5,921.4 577.2,922.5 580,925C582.8,927.5 584.8,931.7 586.7,935C588.7,938.3 590.3,941.1 591.7,945C593.1,948.9 593.3,955.8 595,958.3C596.7,960.8 600.8,955.5 602,960C603.2,964.5 603.5,979.2 602,985C600.5,990.8 597,991.7 593.3,995C589.6,998.3 585.5,1002.2 580,1005C574.5,1007.8 566.7,1010 560,1011.7C553.3,1013.4 546.7,1014.2 540,1015C533.3,1015.8 526.7,1016.2 520,1016.7C513.3,1017.2 506.1,1017.8 500,1018.3C493.9,1018.8 491.6,1019.5 483.3,1020C475,1020.5 459.4,1020.8 450,1021C440.6,1021.2 434.5,1020.8 426.7,1021C418.9,1021.2 409.1,1022.2 403,1022C396.9,1021.8 393.8,1020.9 390,1020C386.2,1019.1 383.3,1018.4 380,1016.7C376.7,1015 373.3,1012.2 370,1010C366.7,1007.8 363.3,1006.1 360,1003.3C356.7,1000.5 352.8,996.1 350,993.3C347.2,990.5 346.1,988.9 343.3,986.7C340.5,984.5 336.1,982.8 333.3,980C330.5,977.2 328.9,973.9 326.7,970C324.5,966.1 322.2,960.6 320,956.7C317.8,952.8 315.5,950 313.3,946.7C311.1,943.4 308.6,940.2 306.7,936.7C304.8,933.2 303.9,928.8 302,926C300.1,923.2 298.1,922.7 295,920C291.9,917.3 286.7,913.9 283.3,910C279.9,906.1 277.2,900.6 274.7,896.7C272.1,892.8 270.2,889.5 268,886.7C265.8,883.9 264.1,882.2 261.3,880C258.5,877.8 254.6,875.5 251.3,873.3C248,871.1 244.6,868.9 241.3,866.7C238,864.5 234.9,861.5 231.3,860C227.8,858.5 223,859.2 220,858C217,856.8 215.5,855.5 213.3,853C211.1,850.5 208.6,846.6 206.7,843.3C204.8,840 203.9,835.8 201.7,833.3C199.5,830.8 195.8,830.2 193.3,828.3C190.8,826.4 188.4,824.2 186.7,821.7C185,819.2 184.7,816.1 183.3,813.3C181.9,810.5 180.5,807.2 178.3,805C176.1,802.8 173.3,801.7 170,800C166.7,798.3 161.4,797.5 158.3,795C155.2,792.5 153.2,788.6 151.7,785C150.2,781.4 150.3,776.6 149.2,773.3C148.1,770 147.1,767.2 145,765C142.9,762.8 139.5,762 136.7,760C133.9,758 130.3,755.5 128,753.3C125.7,751.1 124.4,749.2 123,746.7C121.6,744.2 121.4,741.1 119.7,738.3C118,735.5 113.8,732.5 113,730Z" fill="#56b046" fill-opacity="0.5" stroke="#4d6b48" stroke-width="0.9"/>
<g fill="#56b046"><path d="M144,716.9 L144.7,717.2 L145.6,717.6 L145.7,717.7 L146.8,718.2 L147,718.3 L148.2,718.9 L148.3,719.1 L148.5,719.2 L149.6,720.1 L149.8,720.3 L150.9,721.4 L150.9,721.4 L152,722.7 L152.1,722.7 L153.3,724.1 L153.3,724.1 L154.5,725.5 L155.8,727 L157.1,728.5 L158.4,730.1 L159.8,731.6 L161.3,733.2 L162.8,734.8 L164.4,736.4 L166,738.1 L167.7,739.8 L169.4,741.5 L171.2,743.2 L173,744.8 L174.9,746.4 L176.9,748 L179.1,749.7 L181.3,751.3 L180.6,750.8 L146.7,710 L146.8,709.7 L145.8,711.5 L145,713.2 L144.3,714.7 L143.9,715.9 L143.8,716.7 L143.8,716.8 L144,716.9ZM201.7,776.2 L202,778 L202,778.1 L202.3,779.8 L202.3,779.8 L202.6,781.5 L202.8,783.1 L203.2,784.5 L203.6,785.8 L204.2,787 L204.8,788.2 L205.5,789.4 L206.3,790.5 L207.1,791.6 L208,792.7 L208.9,793.9 L209.9,795.1 L210.9,796.2 L212.1,797.4 L213.4,798.6 L214.7,799.9 L216,801.1 L216.1,801.1 L217.4,802.4 L217.4,802.4 L218.7,803.7 L218.8,803.8 L219.9,805 L220,805.2 L220.9,806.4 L221,806.5 L221.9,807.8 L222,807.9 L222.7,809.1 L222.8,809.2 L223.5,810.4 L224.2,811.7 L225,812.8 L225.7,814 L226.6,815.1 L227.7,816.3 L228.8,817.6 L230,818.9 L231.3,820.1 L232.5,821.4 L233.8,822.6 L235.1,823.7 L236.3,824.8 L237.5,825.7 L238.6,826.6 L239.7,827.4 L240.8,828.1 L242,828.8 L243.2,829.6 L244.5,830.3 L245.9,831.1 L247.4,831.9 L249,832.7 L250.7,833.6 L249.1,832.8 L244,827.1 L201.6,776.1 L201.6,776 L201.7,776.2ZM286.9,875.5 L286.9,875.6 L288.1,877.9 L288.1,878 L289.3,880.6 L289.3,880.7 L290.6,883.6 L290.6,883.6 L291.9,886.7 L291.9,886.7 L293.3,889.9 L294.7,893.1 L296,896.1 L297.3,898.9 L298.5,901.6 L299.8,904.1 L301,906.6 L302.2,909.1 L303.5,911.5 L304.7,913.9 L304.7,913.9 L306,916.4 L306,916.4 L307.2,918.9 L307.2,918.9 L308.5,921.4 L308.5,921.4 L309.7,924 L309.7,924 L311,926.5 L312.2,929.1 L313.5,931.6 L314.7,934.1 L316,936.5 L317.2,938.8 L318.5,941.1 L318.5,941.2 L319.7,943.5 L320.9,945.8 L322.2,948 L323.4,950.1 L324.6,952.1 L325.8,953.9 L327,955.4 L328.1,956.8 L329.2,957.9 L330.2,958.9 L331.2,959.8 L332.3,960.5 L333.4,961.3 L334.7,962 L336.1,962.8 L337.6,963.5 L339.3,964.1 L341,964.7 L342.9,965.3 L344.8,965.9 L346.8,966.4 L346.8,966.4 L348.8,967 L348.8,967 L350.8,967.6 L350.8,967.6 L352.6,968.2 L354.5,968.8 L356.3,969.3 L356.4,969.4 L358.2,969.9 L358.3,969.9 L360.1,970.5 L360.2,970.5 L362.1,971.2 L362.1,971.2 L364,971.9 L364.1,971.9 L365.9,972.7 L366,972.7 L367.9,973.5 L367.9,973.6 L369.8,974.4 L369.8,974.4 L371.7,975.4 L371.8,975.4 L373.6,976.3 L373.7,976.4 L375.6,977.4 L375.6,977.4 L377.5,978.5 L377.5,978.5 L379.4,979.7 L379.5,979.7 L381.4,980.9 L381.4,981 L383.3,982.3 L383.4,982.3 L385.4,983.8 L385.4,983.9 L387.4,985.4 L387.4,985.5 L389.4,987.1 L389.4,987.1 L391.3,988.7 L391.4,988.7 L393.2,990.3 L395,991.7 L396.6,993.1 L398.1,994.3 L398.1,994.3 L399.5,995.4 L399.5,995.4 L400.8,996.5 L402,997.5 L403.2,998.4 L404.3,999.3 L405.4,1000.2 L406.5,1001 L406.5,1001 L407.6,1001.8 L407.7,1001.9 L408.5,1002.7 L408.6,1002.7 L409.4,1003.4 L410.1,1004 L410.8,1004.5 L411.6,1004.9 L412.6,1005.4 L414,1005.9 L415.8,1006.4 L417.9,1006.9 L420.1,1007.3 L422.6,1007.8 L425.2,1008.2 L427.9,1008.5 L430.7,1008.9 L433.6,1009.2 L436.5,1009.5 L439.7,1009.8 L443,1010 L446.4,1010.2 L449.8,1010.4 L453.3,1010.6 L456.7,1010.7 L460.1,1010.8 L463.4,1010.9 L466.8,1011 L470.2,1011 L473.6,1011 L476.9,1011 L480.2,1011 L483.5,1010.9 L486.6,1010.8 L489.7,1010.7 L492.6,1010.6 L495.5,1010.4 L498.4,1010.2 L501.2,1010 L504,1009.8 L506.9,1009.5 L509.7,1009.2 L512.6,1008.9 L515.4,1008.5 L518.2,1008.1 L521,1007.6 L523.9,1007.2 L523.9,1007.2 L526.8,1006.7 L526.9,1006.7 L529.9,1006.3 L529.9,1006.3 L533,1005.8 L533,1005.8 L536.2,1005.4 L536.3,1005.4 L539.6,1005.1 L539.6,1005.1 L543.1,1004.7 L546.6,1004.4 L550,1004 L553.4,1003.6 L556.5,1003.1 L559.5,1002.6 L562.3,1001.9 L565.1,1001.3 L567.7,1000.6 L570.2,999.9 L572.5,999.1 L574.7,998.2 L576.8,997.3 L578.7,996.2 L580.4,995 L582.1,993.6 L583.6,992.1 L585.1,990.4 L586.4,988.8 L587.6,987.1 L588.6,985.5 L589.5,983.9 L590.1,982.4 L590.6,981 L590.9,979.7 L591.2,978.3 L591.2,976.9 L591.2,975.4 L591.1,973.8 L590.8,972.1 L590.4,970.4 L589.9,968.5 L589.1,966.5 L588.2,964.3 L587.3,962.2 L586.3,960.1 L586.2,960 L584,960 L574.1,949.7 L558.9,933.8 L548.9,923.4 L550.6,923.7 L548.3,923.3 L545.8,922.8 L543.3,922.4 L540.7,921.9 L538.1,921.5 L535.5,921.1 L533,920.8 L530.6,920.5 L528.1,920.3 L525.6,920.1 L523.2,920 L520.7,919.8 L520.6,919.8 L518.1,919.7 L518.1,919.7 L515.6,919.5 L515.5,919.5 L513,919.2 L513,919.2 L510.5,918.9 L510.5,918.8 L508.1,918.5 L508.1,918.5 L505.7,918.1 L505.7,918.1 L503.3,917.7 L503.3,917.7 L500.8,917.2 L500.8,917.2 L498.3,916.8 L495.7,916.3 L492.9,915.8 L492.8,915.8 L489.8,915.2 L489.7,915.2 L486.4,914.5 L486.4,914.5 L482.9,913.8 L479.3,913.1 L475.8,912.5 L472.4,911.8 L469.2,911.2 L466.3,910.8 L463.8,910.4 L461.6,910.1 L459.7,909.8 L457.9,909.6 L456.1,909.4 L454.3,909.3 L452.3,909.2 L450.1,909.2 L447.5,909.3 L444.6,909.7 L441.4,910.2 L438.1,910.7 L438,910.7 L434.8,911.1 L434.7,911.1 L431.7,911.4 L431.4,911.4 L428.8,911.3 L428.5,911.3 L428.3,911.2 L426.1,910.7 L425.9,910.7 L425.6,910.6 L423.8,909.7 L423.6,909.6 L423.5,909.5 L421.8,908.4 L421.7,908.2 L421.5,908.1 L420.1,906.7 L419.9,906.6 L419.8,906.4 L418.6,904.8 L418.5,904.6 L418.4,904.3 L417.5,902.5 L417.5,902.3 L417.4,902 L417,900 L416.9,899.8 L416.5,899.7 L416.4,899.7 L413.3,898.7 L413.2,898.7 L410,897.7 L410,897.7 L406.7,896.6 L406.7,896.5 L403.4,895.4 L400.2,894.3 L397.2,893.3 L394.3,892.4 L391.6,891.8 L388.9,891.3 L386.1,890.9 L383.3,890.5 L383.2,890.5 L380.6,890.1 L380.4,890 L378.1,889.4 L377.7,889.3 L375.7,888.5 L375.4,888.4 L375.2,888.2 L373.5,887 L373.4,886.9 L373.2,886.7 L373.1,886.6 L371.7,884.9 L371.6,884.7 L371.4,884.5 L370.3,882.3 L370.1,882 L369.2,879.6 L369.1,879.3 L368.4,876.7 L368.3,876.4 L368,873.8 L368,873.6 L368,873.5 L368,871.1 L368,870.9 L368.1,870.6 L368.6,868.7 L368.7,868.4 L368.8,868.2 L368.9,868 L369,867.8 L370,866.5 L370.2,866.3 L370.4,866.1 L370.6,865.9 L370.8,865.8 L371.1,865.7 L372.7,865 L372.9,864.9 L373.2,864.9 L373.4,864.8 L375.7,864.7 L375.9,864.7 L376.1,864.7 L378.8,864.9 L379,864.9 L382.1,865.3 L382.2,865.4 L385.5,866 L385.5,866 L388.9,866.6 L392.2,867.1 L395.2,867.5 L398.2,867.7 L401.3,867.9 L404.4,868.1 L404.4,868.1 L407.5,868.3 L407.5,868.3 L410.7,868.5 L410.7,868.5 L413.9,868.7 L414,868.7 L417.1,869.1 L417.2,869.1 L420.3,869.5 L420.4,869.5 L423.6,870 L423.7,870.1 L427.1,870.6 L427.1,870.6 L430.6,871.2 L430.6,871.2 L433.3,871.8 L434.7,870.5 L435,870.3 L438.6,867.9 L438.8,867.8 L439,867.7 L443.1,865.9 L443.4,865.8 L448.2,864.3 L448.4,864.2 L453.6,863.1 L453.8,863 L459.3,862.1 L459.4,862.1 L464.9,861.3 L464.9,861.3 L470.3,860.7 L470.3,860.7 L475.3,860.1 L479.7,859.5 L479.7,859.5 L483.6,859 L483.8,859 L487.5,858.8 L486.6,858.8 L483,855.2 L472.5,844.3 L473.3,844.2 L477.5,843.7 L477.6,843.7 L477.7,843.6 L477.8,843.6 L481.7,843.2 L482.1,843.1 L482.3,843.1 L482.7,843.1 L486.4,842.8 L486.7,842.8 L486.8,842.8 L487.1,842.8 L490.6,842.7 L490.7,842.7 L490.8,842.7 L490.9,842.7 L494.1,842.6 L496.7,842.6 L498.1,842.5 L498.3,842.1 L498.6,841.2 L499,840.1 L499.5,838.5 L500,836.6 L500.4,834.3 L500.9,831.9 L501.3,829.4 L501.8,826.8 L501.8,826.8 L501.8,826.7 L501.8,826.7 L502.3,824.2 L502.3,824.2 L502.3,824.1 L502.3,824.1 L502.7,821.7 L503.1,819.5 L503.4,817.5 L503.6,815.8 L503.7,814.4 L503.7,813.3 L503.6,812.3 L503.4,811.2 L503.1,809.7 L502.6,808 L501.9,806.2 L501.1,804.2 L500.3,802.1 L499.3,800.1 L498.4,798.2 L497.6,796.6 L496.8,795.2 L496,793.8 L495.2,792.6 L494.3,791.3 L493.2,789.9 L492.1,788.4 L490.8,786.9 L489.5,785.3 L488.1,783.8 L486.6,782.2 L485,780.6 L483.4,779 L481.7,777.3 L479.9,775.7 L478,774.1 L476.2,772.6 L474.1,771 L471.7,769.2 L469.2,767.4 L466.6,765.5 L466.6,765.5 L466.5,765.5 L466.5,765.5 L463.9,763.6 L463.9,763.6 L463.8,763.5 L463.8,763.5 L461.3,761.6 L461.1,761.5 L461.1,761.5 L461,761.4 L458.7,759.6 L458.5,759.5 L458.5,759.5 L458.4,759.4 L456.2,757.7 L456.2,757.6 L456.1,757.6 L456.1,757.5 L454.1,755.9 L454,755.8 L454,755.8 L453.9,755.7 L452,754.1 L451.9,754 L451.9,754 L451.9,754 L450,752.4 L450,752.3 L450,752.3 L449.9,752.3 L448.1,750.7 L448.1,750.7 L448.1,750.7 L448.1,750.6 L446.3,749.1 L446.3,749 L446.3,749 L446.3,749 L444.5,747.4 L442.6,745.8 L440.7,744.1 L438.8,742.4 L438.8,742.3 L438.8,742.3 L438.8,742.3 L436.9,740.6 L436.9,740.6 L436.9,740.6 L436.8,740.5 L434.9,738.8 L434.9,738.7 L434.9,738.7 L434.8,738.7 L432.9,736.9 L432.9,736.9 L432.8,736.8 L432.8,736.8 L430.9,735 L430.8,734.9 L430.8,734.9 L430.7,734.8 L428.9,733.1 L428.8,733 L428.8,732.9 L428.7,732.8 L426.9,731 L426.8,730.9 L426.8,730.9 L426.7,730.8 L424.9,729 L424.8,728.9 L424.8,728.9 L424.7,728.8 L423,726.9 L422.9,726.8 L422.9,726.8 L422.8,726.7 L421.1,724.8 L421,724.8 L421,724.7 L420.9,724.7 L419.2,722.8 L419.2,722.7 L419.1,722.7 L419.1,722.6 L417.4,720.7 L417.4,720.6 L417.4,720.6 L417.3,720.6 L415.7,718.7 L415.7,718.6 L415.6,718.6 L415.6,718.6 L414,716.7 L414,716.7 L414,716.7 L414,716.6 L412.5,714.8 L412.3,714.6 L412.3,714.6 L412.1,714.4 L410.8,712.6 L410.6,712.4 L410.5,712.3 L410.3,712.1 L409,710.3 L408.9,710.2 L408.9,710.1 L408.8,709.9 L407.6,708.2 L407.6,708.2 L407.6,708.1 L407.5,708.1 L406.4,706.5 L405.5,705.1 L404.7,704.1 L404.1,703.4 L403.7,702.9 L403.3,702.6 L402.6,702 L401.5,701.2 L399.9,700.2 L398.2,699.1 L398,699 L397.9,698.9 L397.7,698.8 L396,697.6 L395.7,697.4 L395.6,697.3 L395.2,697 L393.6,695.8 L393.1,695.4 L392.9,695.2 L392.4,694.8 L390.9,693.4 L390.6,693.1 L390.5,693 L390.1,692.7 L388.6,691.2 L388.5,691.1 L388.5,691 L388.4,690.9 L386.8,689.3 L386.7,689.1 L386.7,689.1 L386.5,688.9 L385,687.2 L384.8,687 L384.7,686.9 L384.5,686.7 L383.1,685 L382.8,684.7 L382.7,684.6 L382.5,684.3 L381.2,682.5 L380.9,682.1 L380.8,681.9 L380.5,681.5 L379.3,679.8 L378.9,679.1 L378.8,678.9 L378.4,678.2 L377.5,676.5 L377,675.6 L376.9,675.2 L376.5,674.2 L375.9,672.6 L375.7,671.9 L375.6,671.7 L375.2,670.3 L375.2,670.1 L375,668.7 L374.9,668.5 L374.9,667.8 L374.7,666.2 L374.7,665.4 L374.7,665.2 L374.7,663.6 L374.7,663.3 L374.9,661.7 L375,661.5 L375.1,660.7 L374.2,660 L374,659.9 L374,659.9 L373.9,659.8 L372.7,658.9 L371.8,658.1 L371.2,657.6 L370.8,657.3 L370.6,657.2 L370.4,657.2 L368.8,657 L366.7,656.8 L366.5,656.8 L366.4,656.8 L366.3,656.8 L364,656.5 L363.5,656.5 L363.3,656.5 L362.9,656.4 L360.7,656 L359.8,655.8 L359.5,655.8 L358.7,655.5 L356.7,654.9 L356,654.7 L355.8,654.7 L354.6,654.2 L354.4,654.1 L353.8,653.8 L351.9,653 L351.3,652.6 L351.1,652.5 L349.9,651.8 L349.7,651.7 L349.1,651.2 L347.4,650 L346.7,649.5 L346.5,649.3 L345.8,648.7 L344.2,647.2 L343.7,646.7 L343.5,646.5 L343,646 L341.5,644.3 L341.1,643.9 L341,643.7 L340.6,643.3 L339.2,641.4 L338.8,641 L338.7,640.9 L338.4,640.4 L337.1,638.5 L336.8,638.1 L336.8,637.9 L336.5,637.4 L335.4,635.6 L335.1,635 L335,634.9 L334.7,634.3 L333.9,632.6 L333.6,631.8 L333.5,631.6 L333.2,630.9 L332.6,629.3 L332.3,628.4 L332.2,628.1 L331.8,626.2 L331.7,626 L331.6,625 L331.5,623.6 L331.4,622.8 L331.4,622.5 L331.4,621.1 L331,620.9 L329.9,620.4 L329.6,620.3 L328.6,619.7 L327.1,618.8 L326.2,618.2 L325.9,618 L325,617.4 L323.5,616.1 L323,615.7 L322.8,615.5 L322.3,615.1 L320.7,613.5 L320.5,613.3 L320.4,613.2 L320.1,612.9 L318.5,611.1 L318.3,611 L318.3,611 L318.2,610.9 L316.5,609 L314.9,607.2 L313.5,605.8 L312.7,605 L311.8,604.7 L310.1,604.2 L309.8,604.1 L309.8,604.1 L309.5,604 L307.7,603.4 L306.9,603.1 L306.6,603 L305.9,602.7 L304.3,602 L303.5,601.6 L303.2,601.4 L301.7,600.5 L301.5,600.4 L300.8,599.9 L299.6,599 L299,598.5 L298.8,598.3 L297.6,597.3 L297.4,597.1 L296.4,595.9 L296.3,595.7 L295.3,594.5 L295.2,594.3 L294.8,593.6 L294.1,592.4 L293.7,591.8 L293.6,591.6 L292.9,590.2 L292.9,589.9 L292.3,588.5 L292.3,588.3 L292.2,588.2 L291,588.2 L290.9,588.2 L290.8,588.2 L290.6,588.1 L288,588 L288,588 L288,588 L287.9,588 L285.4,587.9 L283.3,587.8 L281.6,587.8 L280.6,587.8 L280.2,587.9 L280.1,588.6 L279.9,589.5 L279.8,589.8 L279.3,591.5 L279.2,591.8 L278.9,592.6 L278.3,593.9 L278,594.6 L277.9,594.8 L277.3,596 L277.2,596.2 L276.8,596.8 L275.9,598.1 L275.6,598.6 L275.5,598.8 L275.1,599.3 L274.1,600.6 L273.8,601 L273.7,601.1 L273.3,601.5 L272.2,602.8 L271.9,603.1 L271.8,603.2 L271.5,603.5 L270.3,604.8 L270,605.1 L269.9,605.2 L269.7,605.4 L268.3,606.7 L268.1,606.9 L268,607 L267.7,607.2 L266.3,608.4 L266.1,608.6 L266,608.7 L265.8,608.9 L264.3,610.1 L264.1,610.2 L264,610.3 L263.8,610.5 L262.3,611.6 L261.8,611.9 L261.6,612.1 L261.1,612.4 L259.5,613.4 L258.9,613.8 L258.7,613.9 L258,614.2 L256.3,615.1 L255.9,615.3 L255.8,615.3 L255.3,615.5 L253.5,616.3 L253.4,616.4 L253.3,616.4 L253.1,616.5 L251.3,617.2 L250.1,617.7 L249.8,618.2 L249.2,619.3 L240.1,610.3 L237.5,607.6 L237.8,607.1 L237.1,608.2 L236.4,609.3 L235.7,610.6 L235,611.9 L235,611.9 L234.3,613.2 L234.2,613.3 L233.4,614.6 L232.7,615.8 L232,617.1 L231.3,618.3 L231.3,618.4 L230.6,619.7 L230.6,619.8 L229.8,621.1 L229.7,621.2 L228.9,622.4 L228.7,622.6 L227.8,623.8 L227.6,624 L226.4,625.1 L226.3,625.2 L226.1,625.4 L224.7,626.3 L224.5,626.5 L222.8,627.3 L222.7,627.4 L220.9,628.2 L220.8,628.2 L218.9,629 L217.1,629.7 L215.4,630.4 L214,631.2 L212.9,631.9 L212,632.8 L211.3,633.7 L210.6,634.8 L210,635.9 L209.4,637.2 L209.3,637.3 L208.6,638.6 L208.6,638.7 L207.8,640 L207.7,640.2 L206.7,641.5 L206.6,641.6 L205.5,642.9 L205.5,643 L204.3,644.2 L204.2,644.3 L203,645.6 L203,645.6 L201.7,646.9 L201.6,646.9 L200.3,648.2 L200.3,648.2 L199,649.4 L199,649.5 L197.7,650.7 L197.7,650.7 L196.4,651.8 L196.4,651.9 L195.1,653 L195,653 L193.7,654.1 L193.7,654.2 L192.4,655.2 L192.3,655.2 L191,656.2 L189.8,657.2 L188.6,658.2 L187.5,659.1 L186.5,660.1 L185.5,661 L184.7,662 L183.9,662.9 L183.1,663.9 L182.4,664.9 L181.6,666 L180.8,667 L180.8,667 L180,668.1 L179.2,669.3 L178.4,670.5 L177.6,671.8 L176.8,673.1 L176.8,673.2 L175.9,674.5 L175.9,674.5 L175.1,675.8 L175,675.8 L174.2,677 L175,675.9 L185.9,688.1 L185.7,688.3 L185.6,688.4 L185.3,688.8 L184.5,689.7 L184.2,690.1 L184.1,690.2 L183.7,690.6 L182.9,691.4 L182.6,691.7 L182.5,691.8 L182.2,692.1 L181.4,692.8 L181.3,693 L181.2,693 L181.1,693.1 L180.2,693.9 L179.6,694.4 L179.3,694.7 L179.2,694.8 L179.1,694.9 L179,695 L178.7,695.6 L178.1,696.5 L177.4,697.7 L177.4,697.7 L177.4,697.7 L177.3,697.7 L176.5,699.1 L176.4,699.2 L176.4,699.3 L176.3,699.4 L175.5,700.7 L175.3,701 L175.2,701.1 L175.1,701.3 L174.2,702.6 L173.9,703 L173.8,703.1 L173.6,703.4 L172.6,704.7 L172.2,705.2 L172.1,705.3 L171.7,705.7 L170.6,707 L170.2,707.3 L170.1,707.4 L169.8,707.8 L168.5,709 L168.3,709.2 L168.3,709.3 L168,709.5 L166.7,710.6 L166.7,710.7 L166.6,710.7 L166.6,710.8 L165.3,711.9 L164.5,712.6 L165.3,713.6 L165.4,713.6 L165.4,713.7 L165.4,713.7 L166.7,715.2 L167.9,716.6 L169.1,718 L170.3,719.4 L171.5,720.7 L173,722.2 L174.5,723.8 L176,725.4 L177.5,727 L179,728.5 L180.5,730 L182.1,731.5 L183.5,732.8 L185,734 L186.7,735.4 L188.7,736.9 L190.9,738.5 L190.9,738.5 L190.9,738.5 L190.9,738.5 L193.2,740.2 L193.3,740.3 L193.3,740.3 L193.4,740.4 L195.6,742.1 L195.8,742.2 L195.8,742.3 L196.1,742.5 L198.1,744.1 L198.4,744.4 L198.5,744.5 L198.8,744.8 L200.6,746.4 L200.9,746.7 L201,746.8 L201.3,747.1 L202.9,748.8 L203.1,749 L203.1,749 L203.3,749.2 L204.8,750.9 L205,751.1 L205.1,751.1 L205.2,751.4 L206.6,753 L206.8,753.3 L206.9,753.3 L207.1,753.6 L208.4,755.2 L208.6,755.5 L208.7,755.6 L208.8,755.8 L210,757.5 L210.2,757.8 L210.3,757.9 L210.5,758.1 L211.6,759.8 L211.8,760.1 L211.8,760.2 L212,760.5 L213,762.2 L213.2,762.5 L213.3,762.6 L213.5,763 L214.3,764.6 L214.7,765.3 L214.8,765.5 L215.1,766.1 L215.8,767.8 L216.1,768.7 L216.2,768.9 L216.5,769.8 L217,771.5 L217.1,772.1 L217.2,772.3 L217.3,773 L217.7,774.7 L217.8,775.1 L217.8,775.2 L217.8,775.6 L218.1,777.3 L218.1,777.4 L218.1,777.4 L218.2,777.5 L218.4,779 L218.5,779.9 L218.5,779.9 L218.8,780.3 L219,780.8 L219.4,781.3 L219.9,782 L220.5,782.8 L221.3,783.7 L222,784.6 L222.6,785.3 L223.3,786 L224.3,787 L225.6,788.1 L226.9,789.4 L227,789.5 L227,789.5 L227.1,789.6 L228.4,790.8 L228.6,791 L228.7,791 L228.8,791.2 L230.1,792.5 L230.3,792.8 L230.4,792.8 L230.7,793.1 L231.8,794.4 L232.2,794.8 L232.3,794.9 L232.6,795.3 L233.6,796.6 L233.9,797 L234,797.1 L234.2,797.5 L235.1,798.7 L235.3,799 L235.3,799.1 L235.5,799.4 L236.3,800.7 L236.4,800.8 L236.4,800.9 L236.5,801 L237.3,802.3 L237.9,803.3 L238.4,804.1 L238.7,804.5 L239,805 L239.7,805.8 L240.6,806.8 L241.6,807.8 L242.6,808.8 L243.6,809.9 L244.6,810.8 L245.6,811.7 L246.5,812.5 L247.3,813.1 L248,813.6 L248.7,814.1 L249.5,814.7 L250.4,815.2 L251.4,815.8 L252.5,816.5 L253.7,817.2 L254.8,817.8 L256.1,818.4 L257.6,819.1 L259.3,819.9 L261.1,820.8 L261.1,820.8 L261.2,820.8 L261.2,820.9 L262.9,821.7 L263.1,821.8 L263.1,821.8 L263.2,821.8 L264.9,822.7 L265.1,822.8 L265.2,822.8 L265.4,822.9 L266.9,823.8 L268.1,824.4 L269.2,825 L270.6,825.7 L270.8,825.8 L270.8,825.8 L271,825.9 L272.3,826.6 L272.7,826.8 L272.9,826.9 L273.2,827.1 L274.5,827.9 L275.1,828.3 L275.3,828.4 L275.9,828.8 L277,829.7 L277.8,830.3 L278,830.5 L278.7,831.1 L279.8,832.1 L280.2,832.5 L280.3,832.6 L281.1,833.5 L281.3,833.7 L281.6,834.1 L282.5,835.3 L283,835.9 L283.1,836.1 L284,837.4 L284.1,837.6 L284.5,838.3 L285.2,839.7 L285.5,840.3 L285.6,840.5 L286.1,841.7 L286.2,841.9 L286.4,842.6 L286.9,844.2 L287.1,845 L287.2,845.2 L287.3,846 L287.7,847.8 L287.8,848.2 L287.8,848.3 L287.9,848.8 L288.2,850.6 L288.2,850.7 L288.2,850.8 L288.2,850.8 L288.2,850.8 L288.6,851.2 L289.5,852 L290.1,852.5 L290.3,852.7 L290.9,853.3 L291.7,854.3 L292,854.6 L292.1,854.7 L292.4,855 L293.2,856 L293.9,857 L294,857.1 L294,857.1 L294.1,857.2 L294.9,858.2 L295,858.4 L295.1,858.4 L295.2,858.6 L296,859.6 L296.2,859.9 L296.2,860 L296.4,860.2 L297.2,861.4 L297.4,861.7 L297.4,861.7 L297.6,862 L298.5,863.4 L298.6,863.6 L298.7,863.7 L298.8,864 L299.7,865.6 L299.9,865.8 L299.9,865.9 L300,866.1 L301.1,868 L301.2,868.3 L301.2,868.4 L301.3,868.6 L302.5,870.9 L302.5,871.1 L302.6,871.2 L302.7,871.4 L303.9,874 L303.9,874.1 L303.9,874.2 L304,874.3 L305.3,877.2 L305.3,877.3 L305.3,877.3 L305.3,877.3 L306.7,880.5 L306.7,880.5 L306.7,880.5 L306.7,880.5 L308,883.7 L309.3,886.7 L310.6,889.6 L311.8,892.2 L312.9,894.6 L314.1,897 L315.3,899.4 L316.5,901.8 L317.7,904.2 L319,906.7 L319,906.7 L320.2,909.1 L320.3,909.2 L320.3,909.2 L320.3,909.2 L321.5,911.7 L321.5,911.7 L321.6,911.7 L321.6,911.8 L322.8,914.3 L322.8,914.3 L322.8,914.3 L322.9,914.4 L323.8,916.4 L286.3,874.4 L285.9,873.6 L286.9,875.5ZM380,961.6 L380,979.2 L356.2,952.6 L357.4,953 L359.1,953.5 L360.9,954 L361,954 L361,954 L361,954 L362.9,954.6 L363,954.6 L363,954.6 L363.1,954.7 L365,955.3 L365.1,955.3 L365.1,955.3 L365.3,955.4 L367.2,956 L367.4,956.1 L367.4,956.1 L367.7,956.2 L369.5,956.9 L369.8,957 L369.9,957 L370.1,957.1 L372,957.9 L372.2,958 L372.3,958 L372.5,958.1 L374.4,958.9 L374.5,959 L374.5,959 L374.6,959 L376.5,959.9 L376.6,960 L376.7,960 L376.8,960 L378.7,961 L378.8,961 L378.9,961.1 L379,961.1 L380,961.6ZM352.2,868.7 L388.6,907.5 L388.4,907.4 L386.5,907.1 L383.9,906.8 L381.2,906.4 L380.9,906.4 L380.8,906.3 L380.5,906.3 L377.9,905.9 L377.3,905.7 L377.1,905.7 L376.5,905.5 L374.1,904.9 L373,904.6 L372.7,904.5 L371.6,904.1 L369.6,903.3 L368.7,902.9 L368.5,902.8 L366.9,901.9 L366.7,901.7 L365.9,901.2 L364.3,900.1 L363.7,899.6 L363.5,899.5 L362.4,898.6 L362.3,898.4 L361.3,897.4 L361.1,897.2 L360.6,896.7 L359.3,895 L358.8,894.4 L358.7,894.2 L357.9,893 L357.8,892.8 L357.4,892.2 L356.2,890 L355.7,889.1 L355.6,888.8 L355.2,887.8 L354.2,885.3 L353.9,884.5 L353.8,884.2 L353.6,883.3 L352.9,880.7 L352.7,879.8 L352.6,879.5 L352.5,878.5 L352.1,875.9 L352.1,875.3 L352,875.1 L352,873.9 L352,873.7 L352,873.1 L352,870.8 L352.1,869.9 L352.1,869.6 L352.2,868.7ZM514.9,795.7 L513.8,793.3 L512.8,791.1 L511.7,789.1 L510.7,787.1 L509.6,785.3 L508.4,783.6 L507.2,781.9 L505.9,780.2 L504.6,778.4 L503.1,776.6 L501.5,774.8 L499.9,772.9 L498.2,771.1 L496.4,769.3 L494.5,767.4 L492.5,765.6 L490.5,763.7 L488.4,761.9 L486.1,760.1 L483.7,758.2 L481.2,756.3 L478.5,754.4 L475.9,752.5 L475.9,752.5 L473.3,750.6 L473.3,750.6 L470.8,748.8 L470.8,748.8 L468.5,747 L468.4,746.9 L466.3,745.2 L466.3,745.2 L464.3,743.6 L464.3,743.5 L462.4,741.9 L462.4,741.9 L460.5,740.3 L460.5,740.3 L458.7,738.7 L458.7,738.7 L457,737.1 L457,737.1 L455.2,735.5 L453.3,733.9 L451.4,732.2 L449.8,730.7 L452.7,733.5 L467.8,748.6 L483,763.8 L498.2,779 L513.4,794.4 L515.1,796.1 L514.9,795.7ZM449.5,730.5 L449.8,730.7 L449.8,730.7 L449.5,730.5ZM431.2,712.1 L431.2,712.1 L429.5,710.2 L429.5,710.2 L427.9,708.3 L427.8,708.3 L426.3,706.4 L426.3,706.4 L424.8,704.6 L424.7,704.5 L423.3,702.8 L423.3,702.7 L422,700.9 L422,700.9 L420.8,699.2 L420.8,699.1 L419.6,697.4 L418.5,695.8 L417.4,694.3 L416.2,692.8 L414.9,691.5 L413.6,690.2 L412,689.1 L410.4,687.9 L408.6,686.8 L406.9,685.7 L406.8,685.6 L405.1,684.4 L405,684.3 L403.3,683.1 L403.2,682.9 L401.6,681.6 L401.5,681.5 L400,679.9 L400,679.9 L398.4,678.3 L398.4,678.2 L396.9,676.5 L396.8,676.5 L395.3,674.7 L395.3,674.6 L393.9,672.9 L393.8,672.7 L392.7,671 L392.6,670.8 L391.7,669.1 L391.5,668.8 L391,667.2 L390.9,666.9 L390.8,666.7 L390.8,666.5 L390.7,664.9 L390.7,664.7 L390.7,664.4 L390.7,664.2 L391.1,662.7 L391.1,662.4 L391.2,662.2 L391.9,660.7 L392,660.5 L392.8,659 L392.8,659 L393.6,657.6 L394.1,656.5 L394.3,655.8 L394.3,655.4 L394,654.9 L393.3,654.1 L392.3,653.2 L391.1,652.2 L389.7,651.3 L388.2,650.3 L388.2,650.3 L386.7,649.3 L386.6,649.3 L385.3,648.3 L385.2,648.3 L384,647.3 L383.9,647.3 L382.8,646.4 L381.7,645.5 L380.6,644.7 L379.6,644 L378.4,643.3 L377.2,642.6 L375.9,642.1 L374.3,641.6 L372.5,641.3 L370.4,641.1 L368.1,640.9 L368.1,640.9 L365.8,640.6 L365.6,640.6 L363.4,640.2 L363.2,640.2 L361.1,639.6 L360.9,639.5 L360.7,639.4 L358.9,638.6 L358.7,638.4 L358.5,638.3 L356.9,637.1 L356.6,636.9 L355,635.4 L354.9,635.3 L353.3,633.6 L353.2,633.4 L351.8,631.6 L351.7,631.5 L350.4,629.6 L350.3,629.4 L349.2,627.6 L349.2,627.4 L348.3,625.7 L348.2,625.4 L347.6,623.8 L347.6,623.6 L347.5,623.3 L347.4,621.8 L347.3,621.6 L347.4,621.3 L347.4,621.1 L347.7,619.7 L347.7,619.4 L347.8,619.2 L348.4,617.9 L348.5,617.6 L349.3,616.3 L349.3,616.3 L350.1,615.1 L350.6,614.1 L350.8,613.6 L350.8,613.4 L350.7,613 L350.3,612.4 L349.8,611.8 L349.1,611.1 L348.3,610.4 L347.4,609.7 L346.4,609.1 L345.5,608.5 L344.7,608.1 L343.9,607.9 L342.9,607.7 L341.7,607.5 L341.7,607.5 L340.4,607.3 L340.2,607.2 L338.8,606.9 L338.6,606.8 L337.2,606.2 L336.8,606 L335.4,605.1 L335.1,604.9 L333.6,603.7 L333.4,603.6 L331.8,602 L331.8,601.9 L330.1,600.2 L330.1,600.1 L328.4,598.2 L326.6,596.3 L324.9,594.6 L323.3,593 L321.8,591.7 L320.4,590.8 L318.6,590.1 L316.7,589.5 L314.7,588.8 L314.6,588.8 L312.7,588.2 L312.5,588.1 L310.9,587.4 L310.6,587.3 L310.4,587.1 L309.2,586.2 L309,586 L308.8,585.9 L308.7,585.7 L308.6,585.5 L307.8,584.3 L307.7,584.1 L307.6,583.8 L307.6,583.6 L307.5,583.4 L307.5,583.1 L307.5,582.9 L307.6,581.3 L307.6,581.1 L307.6,580.9 L307.7,580.6 L307.8,580.4 L308.6,578.5 L308.8,578.1 L310.1,576 L310.2,575.8 L311.7,573.6 L313.1,571.4 L314.1,569.8 L313.6,569.8 L311.4,570 L308.8,570.4 L305.8,570.9 L302.8,571.5 L302.7,571.5 L299.8,571.9 L299.6,571.9 L296.9,572.2 L296.7,572.2 L294.2,572.2 L294.1,572.2 L291.5,572.2 L291.4,572.2 L288.8,572 L288.8,572 L286.2,571.9 L283.7,571.8 L283.6,571.8 L285.7,573.7 L300.9,587.8 L316,602 L331.2,616.2 L346.4,630.6 L361.6,645 L376.8,659.5 L391.9,674.1 L407.1,688.8 L422.3,703.6 L432.7,713.8 L432.9,714 L431.2,712.1Z"/><circle cx="250.4" cy="613.8" r="6"/><circle cx="175.9" cy="735.4" r="5.1"/><circle cx="303.1" cy="876.1" r="5.1"/><circle cx="341.9" cy="627.4" r="5.1"/><circle cx="504.8" cy="786.9" r="5"/><circle cx="303.5" cy="884.1" r="5.4"/><circle cx="227.5" cy="791.8" r="6.2"/><circle cx="412.1" cy="699" r="6.1"/><circle cx="513.2" cy="811" r="5.4"/><circle cx="421.4" cy="709.9" r="4.8"/><circle cx="517.6" cy="825.7" r="6.3"/><circle cx="278" cy="853.2" r="5.5"/><circle cx="162" cy="703.9" r="4.9"/><circle cx="207.2" cy="766.8" r="5.5"/><circle cx="281.3" cy="864.8" r="6"/><circle cx="330.6" cy="618.6" r="5.3"/><circle cx="262.3" cy="595.1" r="6.5"/><circle cx="568.5" cy="933.6" r="5"/><circle cx="181.8" cy="744.7" r="4.6"/><circle cx="382.5" cy="672.6" r="5.7"/><circle cx="319.2" cy="607" r="5.9"/><circle cx="202.1" cy="757.8" r="5.6"/><circle cx="482.3" cy="763.1" r="4.9"/><circle cx="399.1" cy="683.3" r="4.9"/><circle cx="257.1" cy="610.9" r="6.5"/><circle cx="456.1" cy="746.1" r="5.4"/><circle cx="293.4" cy="584.8" r="5.4"/><circle cx="216.3" cy="778.8" r="4.6"/><circle cx="305.9" cy="894.8" r="6.1"/><circle cx="156.4" cy="710.8" r="5.3"/><circle cx="488.8" cy="784.2" r="6.5"/><circle cx="276.7" cy="843" r="6.1"/><circle cx="582" cy="955.7" r="6.2"/><circle cx="506.2" cy="836.4" r="5"/><circle cx="216.6" cy="793.1" r="5.4"/><circle cx="343" cy="645.1" r="6.3"/><circle cx="425.7" cy="718.2" r="5.7"/><circle cx="507.7" cy="828.8" r="6.1"/><circle cx="494.8" cy="843" r="5.9"/><circle cx="490.3" cy="771.4" r="5.1"/><circle cx="231.6" cy="806.9" r="5.2"/><circle cx="357.3" cy="881.3" r="6.1"/><circle cx="369.2" cy="957.2" r="5.9"/><circle cx="307.9" cy="598.6" r="5.2"/><circle cx="213.7" cy="766.9" r="5.8"/><circle cx="383.6" cy="902.3" r="6.4"/><circle cx="168.8" cy="731.6" r="4.6"/><circle cx="470.1" cy="755.5" r="6.4"/><circle cx="296.9" cy="595.5" r="4.7"/><circle cx="429.1" cy="726.9" r="5.4"/><circle cx="227.6" cy="800" r="4.9"/><circle cx="512.9" cy="838.2" r="6.2"/><circle cx="193.7" cy="747.3" r="4.5"/><circle cx="287.4" cy="852.9" r="4.7"/><circle cx="170.6" cy="700.1" r="4.8"/><circle cx="243" cy="809.3" r="4.8"/><circle cx="277.5" cy="582.8" r="6.2"/><circle cx="512.5" cy="820.2" r="6.1"/><circle cx="413.4" cy="709.5" r="4.8"/><circle cx="496.9" cy="853.2" r="4.8"/><circle cx="287.9" cy="866.1" r="6.3"/><circle cx="506" cy="815.6" r="5.1"/><circle cx="438.1" cy="731.7" r="6.3"/><circle cx="574.4" cy="941.4" r="5.8"/><circle cx="260.3" cy="601" r="6.3"/><circle cx="373.5" cy="901.6" r="5.4"/><circle cx="250.5" cy="825.5" r="6.5"/><circle cx="504.1" cy="847.4" r="4.9"/><circle cx="509.9" cy="843.6" r="6.2"/><circle cx="451.5" cy="751.2" r="5.1"/><circle cx="323.2" cy="614.1" r="5.2"/><circle cx="445.1" cy="741.9" r="5.9"/><circle cx="269.6" cy="588.9" r="6.2"/><circle cx="561.5" cy="926.6" r="5.9"/><circle cx="495.8" cy="785.3" r="5.7"/><circle cx="407.4" cy="694.6" r="6.1"/><circle cx="189.3" cy="740.7" r="5.9"/><circle cx="555.9" cy="929" r="5.2"/><circle cx="383.5" cy="678.6" r="6.1"/><circle cx="220.9" cy="788.5" r="5.9"/><circle cx="209.4" cy="758.5" r="5.9"/><circle cx="163.1" cy="720.5" r="6.2"/><circle cx="444.9" cy="732.6" r="4.8"/><circle cx="174.1" cy="724.8" r="5.6"/><circle cx="212.1" cy="774" r="5.4"/><circle cx="482.9" cy="852.8" r="5.7"/><circle cx="389.5" cy="679" r="4.6"/><circle cx="256.3" cy="828.5" r="6"/><circle cx="360.5" cy="887.7" r="6.5"/><circle cx="401" cy="689.3" r="5.7"/><circle cx="164" cy="710.2" r="4.9"/><circle cx="348.3" cy="636.5" r="5"/><circle cx="269.2" cy="834.5" r="5"/><circle cx="177.8" cy="690.5" r="4.7"/><circle cx="167.2" cy="686.5" r="6"/><circle cx="240.3" cy="820.9" r="5.5"/><circle cx="191.7" cy="757" r="5.6"/><circle cx="370.7" cy="893.4" r="5.3"/><circle cx="266" cy="826.6" r="5.2"/><circle cx="244" cy="607.4" r="4.6"/><circle cx="294.6" cy="862.7" r="4.5"/><circle cx="271" cy="840.4" r="5.6"/><circle cx="338.5" cy="634.4" r="5.6"/><circle cx="356.4" cy="640.8" r="6.5"/><circle cx="249.2" cy="601.6" r="5.1"/><circle cx="162.6" cy="728.9" r="5.7"/><circle cx="270.4" cy="595.5" r="6.5"/><circle cx="282.5" cy="844.2" r="5"/><circle cx="504.2" cy="797.3" r="5.9"/><circle cx="294.2" cy="872" r="5.9"/><circle cx="144" cy="716.9" r="5"/><circle cx="150" cy="720.5" r="3.9"/><circle cx="154.7" cy="725.8" r="5.2"/><circle cx="159.4" cy="731.2" r="5.6"/><circle cx="164.3" cy="736.3" r="5"/><circle cx="169.2" cy="741.4" r="4.7"/><circle cx="174.5" cy="746.1" r="5.6"/><circle cx="180.1" cy="750.4" r="6"/><circle cx="177.6" cy="747.2" r="4.6"/><circle cx="173.1" cy="741.8" r="5.5"/><circle cx="168.6" cy="736.3" r="4.8"/><circle cx="164" cy="730.9" r="4.5"/><circle cx="159.5" cy="725.4" r="4.4"/><circle cx="155" cy="720" r="5.2"/><circle cx="150.5" cy="714.5" r="5.2"/><circle cx="146.4" cy="710.4" r="5.5"/><circle cx="201.7" cy="776.2" r="5"/><circle cx="202.9" cy="783.4" r="5.1"/><circle cx="206" cy="790" r="5.5"/><circle cx="210.5" cy="795.8" r="5.1"/><circle cx="215.8" cy="800.9" r="5.5"/><circle cx="220.8" cy="806.2" r="5"/><circle cx="224.7" cy="812.4" r="5"/><circle cx="229.3" cy="818.1" r="4.9"/><circle cx="234.5" cy="823.2" r="4.7"/><circle cx="240.3" cy="827.7" r="4"/><circle cx="246.6" cy="831.5" r="4.6"/><circle cx="248.4" cy="832.1" r="5.8"/><circle cx="243.6" cy="826.6" r="3.9"/><circle cx="238.9" cy="821" r="4.6"/><circle cx="234.2" cy="815.3" r="5.3"/><circle cx="229.5" cy="809.7" r="4"/><circle cx="224.9" cy="804.1" r="4.3"/><circle cx="220.2" cy="798.4" r="4.9"/><circle cx="215.5" cy="792.8" r="5.9"/><circle cx="210.8" cy="787.2" r="4.1"/><circle cx="206.1" cy="781.5" r="4.4"/><circle cx="286.9" cy="875.5" r="5.7"/><circle cx="289.9" cy="881.9" r="4.3"/><circle cx="292.6" cy="888.3" r="5.1"/><circle cx="295.4" cy="894.8" r="5.8"/><circle cx="298.3" cy="901.1" r="5.7"/><circle cx="301.4" cy="907.4" r="4.3"/><circle cx="304.6" cy="913.7" r="5.5"/><circle cx="307.8" cy="919.9" r="5.4"/><circle cx="310.8" cy="926.2" r="4.1"/><circle cx="313.9" cy="932.5" r="4.7"/><circle cx="317.2" cy="938.7" r="5.8"/><circle cx="320.5" cy="944.9" r="5.8"/><circle cx="323.9" cy="951" r="5.9"/><circle cx="328" cy="956.7" r="4.7"/><circle cx="333.3" cy="961.2" r="3.9"/><circle cx="339.6" cy="964.2" r="4.1"/><circle cx="346.3" cy="966.3" r="4.6"/><circle cx="353" cy="968.3" r="4.6"/><circle cx="359.7" cy="970.4" r="4.9"/><circle cx="366.3" cy="972.8" r="4.4"/><circle cx="372.6" cy="975.8" r="3.9"/><circle cx="378.7" cy="979.2" r="4.8"/><circle cx="384.5" cy="983.2" r="6"/><circle cx="390" cy="987.6" r="5.8"/><circle cx="395.4" cy="992.1" r="5.7"/><circle cx="400.8" cy="996.5" r="5"/><circle cx="406.3" cy="1000.9" r="4.4"/><circle cx="411.9" cy="1005.1" r="5.6"/><circle cx="418.6" cy="1007" r="5.3"/><circle cx="425.5" cy="1008.2" r="4.5"/><circle cx="432.4" cy="1009.1" r="5.2"/><circle cx="439.4" cy="1009.7" r="5.3"/><circle cx="446.4" cy="1010.2" r="5"/><circle cx="453.4" cy="1010.6" r="5.6"/><circle cx="460.4" cy="1010.8" r="5.1"/><circle cx="467.4" cy="1011" r="5"/><circle cx="474.4" cy="1011" r="5.7"/><circle cx="481.4" cy="1010.9" r="4"/><circle cx="488.4" cy="1010.7" r="4.4"/><circle cx="495.4" cy="1010.4" r="4.3"/><circle cx="502.4" cy="1009.9" r="4"/><circle cx="509.4" cy="1009.2" r="4.8"/><circle cx="516.4" cy="1008.4" r="5.3"/><circle cx="523.3" cy="1007.3" r="4.9"/><circle cx="530.2" cy="1006.2" r="4.5"/><circle cx="537.2" cy="1005.3" r="5.6"/><circle cx="544.1" cy="1004.6" r="4"/><circle cx="551.1" cy="1003.9" r="4.3"/><circle cx="558" cy="1002.8" r="5.9"/><circle cx="564.9" cy="1001.3" r="4"/><circle cx="571.6" cy="999.4" r="4.7"/><circle cx="578" cy="996.6" r="4.7"/><circle cx="583.5" cy="992.2" r="5.2"/><circle cx="587.8" cy="986.7" r="5.7"/><circle cx="590.8" cy="980.4" r="5.7"/><circle cx="591" cy="973.4" r="4.9"/><circle cx="589.2" cy="966.7" r="4.3"/><circle cx="586.4" cy="960.3" r="5.3"/><circle cx="580.9" cy="956.8" r="4.3"/><circle cx="576.1" cy="951.7" r="5.1"/><circle cx="571.2" cy="946.7" r="4.9"/><circle cx="566.4" cy="941.6" r="3.9"/><circle cx="561.5" cy="936.5" r="4.2"/><circle cx="556.7" cy="931.5" r="5.9"/><circle cx="551.8" cy="926.4" r="4.5"/><circle cx="549.6" cy="923.5" r="4.5"/><circle cx="542.7" cy="922.3" r="5.4"/><circle cx="535.8" cy="921.2" r="4.9"/><circle cx="528.8" cy="920.4" r="4.5"/><circle cx="521.8" cy="919.9" r="5.3"/><circle cx="514.8" cy="919.4" r="4.5"/><circle cx="507.9" cy="918.5" r="5.2"/><circle cx="501" cy="917.3" r="5.3"/><circle cx="494.1" cy="916" r="4.1"/><circle cx="487.2" cy="914.7" r="5.9"/><circle cx="480.3" cy="913.3" r="5.5"/><circle cx="473.5" cy="912" r="4.1"/><circle cx="466.5" cy="910.8" r="4.4"/><circle cx="459.6" cy="909.8" r="5.7"/><circle cx="452.6" cy="909.2" r="3.9"/><circle cx="445.6" cy="909.6" r="5.9"/><circle cx="438.7" cy="910.6" r="4.4"/><circle cx="431.7" cy="911.4" r="5.4"/><circle cx="424.9" cy="910.2" r="5.9"/><circle cx="419.5" cy="905.9" r="5.6"/><circle cx="416.6" cy="899.7" r="5.9"/><circle cx="410" cy="897.7" r="4.2"/><circle cx="403.3" cy="895.4" r="4.3"/><circle cx="396.7" cy="893.1" r="4"/><circle cx="389.9" cy="891.5" r="5.9"/><circle cx="383" cy="890.5" r="5.2"/><circle cx="376.2" cy="888.7" r="5.7"/><circle cx="371.2" cy="884" r="5.9"/><circle cx="368.6" cy="877.5" r="4.2"/><circle cx="368.1" cy="870.6" r="4.4"/><circle cx="372.1" cy="865.3" r="4.5"/><circle cx="379" cy="864.9" r="4.4"/><circle cx="385.9" cy="866" r="4.4"/><circle cx="392.8" cy="867.2" r="5.2"/><circle cx="399.8" cy="867.8" r="3.9"/><circle cx="406.8" cy="868.2" r="5"/><circle cx="413.8" cy="868.7" r="4.9"/><circle cx="420.7" cy="869.6" r="4.1"/><circle cx="427.6" cy="870.7" r="5.1"/><circle cx="434.2" cy="870.9" r="4.5"/><circle cx="440.1" cy="867.2" r="5.3"/><circle cx="446.7" cy="864.7" r="3.9"/><circle cx="453.5" cy="863.1" r="5.8"/><circle cx="460.4" cy="861.9" r="5.3"/><circle cx="467.4" cy="861" r="5.1"/><circle cx="474.3" cy="860.2" r="5.9"/><circle cx="481.3" cy="859.3" r="4.6"/><circle cx="486.7" cy="858.8" r="4.7"/><circle cx="481.8" cy="853.9" r="5.3"/><circle cx="476.9" cy="848.9" r="5.7"/><circle cx="473.2" cy="844.3" r="4.7"/><circle cx="480.1" cy="843.3" r="4.8"/><circle cx="487.1" cy="842.8" r="4.6"/><circle cx="494.1" cy="842.6" r="4"/><circle cx="499.2" cy="839.7" r="4.5"/><circle cx="500.7" cy="832.8" r="3.9"/><circle cx="501.9" cy="825.9" r="5"/><circle cx="503.2" cy="819" r="5.3"/><circle cx="503.6" cy="812.1" r="4.9"/><circle cx="501.6" cy="805.4" r="5.3"/><circle cx="498.8" cy="798.9" r="5"/><circle cx="495.4" cy="792.8" r="4.2"/><circle cx="491.1" cy="787.2" r="4.7"/><circle cx="486.5" cy="782" r="5.8"/><circle cx="481.4" cy="777.1" r="3.9"/><circle cx="476.1" cy="772.5" r="5.3"/><circle cx="470.5" cy="768.4" r="4.8"/><circle cx="464.8" cy="764.3" r="3.9"/><circle cx="459.2" cy="760.1" r="5.1"/><circle cx="453.8" cy="755.6" r="5.4"/><circle cx="448.5" cy="751" r="4.7"/><circle cx="443.3" cy="746.3" r="5.6"/><circle cx="438.1" cy="741.7" r="5.2"/><circle cx="432.9" cy="736.9" r="5.3"/><circle cx="427.9" cy="732" r="5.9"/><circle cx="423" cy="727" r="4.9"/><circle cx="418.4" cy="721.8" r="4.4"/><circle cx="413.8" cy="716.4" r="4.9"/><circle cx="409.5" cy="710.9" r="5.3"/><circle cx="405.5" cy="705.1" r="4.6"/><circle cx="400.4" cy="700.5" r="3.9"/><circle cx="394.6" cy="696.5" r="4"/><circle cx="389.3" cy="691.9" r="5"/><circle cx="384.6" cy="686.8" r="4.2"/><circle cx="380.3" cy="681.2" r="4.9"/><circle cx="376.9" cy="675.1" r="5.1"/><circle cx="374.9" cy="668.4" r="5.1"/><circle cx="375" cy="661.4" r="5.7"/><circle cx="370" cy="657.2" r="5.6"/><circle cx="363.1" cy="656.4" r="4.7"/><circle cx="356.2" cy="654.8" r="5.7"/><circle cx="349.9" cy="651.8" r="4.3"/><circle cx="344.5" cy="647.5" r="5.8"/><circle cx="339.8" cy="642.2" r="5.3"/><circle cx="335.9" cy="636.4" r="5.1"/><circle cx="332.9" cy="630.1" r="4"/><circle cx="331.4" cy="623.3" r="4.8"/><circle cx="327.1" cy="618.8" r="4.1"/><circle cx="321.7" cy="614.4" r="5.6"/><circle cx="316.8" cy="609.4" r="4.1"/><circle cx="311.8" cy="604.7" r="5"/><circle cx="305.2" cy="602.4" r="6"/><circle cx="299.2" cy="598.7" r="5.2"/><circle cx="294.7" cy="593.4" r="5.9"/><circle cx="291" cy="588.2" r="5.3"/><circle cx="284" cy="587.8" r="3.9"/><circle cx="279.5" cy="591" r="6"/><circle cx="276.5" cy="597.3" r="5.4"/><circle cx="272.2" cy="602.8" r="5.4"/><circle cx="267.2" cy="607.7" r="5.7"/><circle cx="261.6" cy="612" r="5.7"/><circle cx="255.5" cy="615.4" r="4.9"/><circle cx="249.5" cy="618.7" r="3.9"/><circle cx="244.7" cy="614.8" r="5.1"/><circle cx="239.7" cy="609.9" r="5.9"/><circle cx="236.2" cy="609.7" r="5.1"/><circle cx="232.7" cy="615.8" r="4.1"/><circle cx="229.2" cy="621.9" r="5.6"/><circle cx="224.2" cy="626.6" r="6"/><circle cx="217.7" cy="629.4" r="4.3"/><circle cx="211.8" cy="633" r="4.5"/><circle cx="208.3" cy="639.1" r="5.9"/><circle cx="204" cy="644.6" r="4.9"/><circle cx="199" cy="649.5" r="5"/><circle cx="193.7" cy="654.1" r="5.7"/><circle cx="188.2" cy="658.5" r="5"/><circle cx="183.4" cy="663.5" r="5.2"/><circle cx="179.3" cy="669.2" r="5.9"/><circle cx="175.5" cy="675.1" r="5"/><circle cx="177.2" cy="678.4" r="4.1"/><circle cx="181.8" cy="683.6" r="5"/><circle cx="185.3" cy="688.8" r="4.9"/><circle cx="180.3" cy="693.8" r="4.5"/><circle cx="176.3" cy="699.5" r="4.8"/><circle cx="172.2" cy="705.2" r="4.1"/><circle cx="167.3" cy="710.2" r="4.5"/><circle cx="166.7" cy="715.1" r="4.8"/><circle cx="171.3" cy="720.4" r="5.1"/><circle cx="176.1" cy="725.5" r="5.4"/><circle cx="181" cy="730.5" r="5.7"/><circle cx="186.3" cy="735.1" r="4.9"/><circle cx="191.9" cy="739.3" r="6"/><circle cx="197.4" cy="743.6" r="4.6"/><circle cx="202.5" cy="748.4" r="4.4"/><circle cx="207.2" cy="753.7" r="3.9"/><circle cx="211.3" cy="759.3" r="4"/><circle cx="214.7" cy="765.4" r="4.8"/><circle cx="217.1" cy="772" r="5.9"/><circle cx="218.4" cy="778.9" r="5.2"/><circle cx="222.1" cy="784.7" r="5.3"/><circle cx="227.1" cy="789.6" r="3.9"/><circle cx="232" cy="794.6" r="4.5"/><circle cx="236.1" cy="800.3" r="5.5"/><circle cx="240" cy="806.1" r="4.4"/><circle cx="244.9" cy="811.1" r="4.9"/><circle cx="250.5" cy="815.3" r="6"/><circle cx="256.6" cy="818.7" r="5"/><circle cx="262.9" cy="821.7" r="4.8"/><circle cx="269.1" cy="825" r="5.3"/><circle cx="275.3" cy="828.4" r="4"/><circle cx="280.6" cy="832.9" r="4.2"/><circle cx="284.6" cy="838.6" r="4.6"/><circle cx="287.1" cy="845.1" r="5.4"/><circle cx="289.1" cy="851.6" r="5.5"/><circle cx="293.8" cy="856.8" r="5.4"/><circle cx="297.9" cy="862.5" r="5.1"/><circle cx="301.3" cy="868.6" r="5.8"/><circle cx="304.3" cy="875" r="5.5"/><circle cx="307.1" cy="881.4" r="4.2"/><circle cx="309.8" cy="887.8" r="5.6"/><circle cx="312.7" cy="894.2" r="5"/><circle cx="315.8" cy="900.5" r="5"/><circle cx="319" cy="906.7" r="5.3"/><circle cx="322.2" cy="913" r="4.1"/><circle cx="321.7" cy="913.9" r="4.3"/><circle cx="317" cy="908.7" r="4.2"/><circle cx="312.3" cy="903.5" r="4.7"/><circle cx="307.6" cy="898.3" r="4.7"/><circle cx="303" cy="893" r="4.6"/><circle cx="298.3" cy="887.8" r="5"/><circle cx="293.6" cy="882.6" r="5"/><circle cx="289" cy="877.4" r="3.9"/><circle cx="514.9" cy="795.7" r="4.3"/><circle cx="511.8" cy="789.2" r="5.6"/><circle cx="508.1" cy="783.1" r="5.8"/><circle cx="503.8" cy="777.4" r="5.9"/><circle cx="499" cy="772" r="5.1"/><circle cx="494" cy="767" r="4"/><circle cx="488.7" cy="762.2" r="4.2"/><circle cx="483.1" cy="757.7" r="5.9"/><circle cx="477.3" cy="753.5" r="4.7"/><circle cx="471.5" cy="749.3" r="5.2"/><circle cx="465.9" cy="744.9" r="4"/><circle cx="460.5" cy="740.3" r="5.6"/><circle cx="455.1" cy="735.5" r="4"/><circle cx="449.8" cy="730.7" r="5.1"/><circle cx="454.9" cy="735.7" r="5.5"/><circle cx="460" cy="740.8" r="4.2"/><circle cx="465" cy="745.8" r="5"/><circle cx="470.1" cy="750.8" r="4.4"/><circle cx="475.2" cy="755.9" r="4"/><circle cx="480.2" cy="761" r="5.8"/><circle cx="485.3" cy="766" r="4.4"/><circle cx="490.3" cy="771.1" r="4.3"/><circle cx="495.3" cy="776.2" r="4.5"/><circle cx="500.4" cy="781.2" r="5.3"/><circle cx="505.4" cy="786.3" r="5.4"/><circle cx="510.4" cy="791.4" r="4.2"/><circle cx="449.5" cy="730.5" r="4.8"/><circle cx="449.7" cy="730.6" r="5.3"/><circle cx="449.7" cy="730.6" r="5.5"/><circle cx="431.2" cy="712.1" r="5.5"/><circle cx="426.6" cy="706.7" r="5.5"/><circle cx="422.2" cy="701.2" r="4.2"/><circle cx="418.2" cy="695.3" r="5.9"/><circle cx="413.4" cy="690.1" r="4.6"/><circle cx="407.6" cy="686.1" r="5.3"/><circle cx="401.9" cy="681.8" r="5.7"/><circle cx="397" cy="676.7" r="4.2"/><circle cx="392.8" cy="671.1" r="5.8"/><circle cx="390.7" cy="664.4" r="4.5"/><circle cx="393.4" cy="658" r="5.7"/><circle cx="391.3" cy="652.3" r="3.9"/><circle cx="385.4" cy="648.4" r="4.9"/><circle cx="379.8" cy="644.1" r="5.5"/><circle cx="373.3" cy="641.5" r="3.8"/><circle cx="366.2" cy="640.7" r="4.2"/><circle cx="359.4" cy="638.8" r="5.7"/><circle cx="354" cy="634.3" r="5.4"/><circle cx="349.8" cy="628.6" r="5.4"/><circle cx="347.4" cy="622" r="4.5"/><circle cx="349.8" cy="615.5" r="4.7"/><circle cx="347.7" cy="609.9" r="5.6"/><circle cx="341.2" cy="607.4" r="4.8"/><circle cx="334.8" cy="604.7" r="4.2"/><circle cx="329.7" cy="599.7" r="4.9"/><circle cx="324.9" cy="594.5" r="3.9"/><circle cx="319.3" cy="590.4" r="5.7"/><circle cx="312.5" cy="588.1" r="4.7"/><circle cx="307.6" cy="583.5" r="5.2"/><circle cx="309.5" cy="576.9" r="4.5"/><circle cx="313.4" cy="571" r="5.1"/><circle cx="308.4" cy="570.5" r="5.5"/><circle cx="301.4" cy="571.7" r="5.3"/><circle cx="294.3" cy="572.2" r="5.3"/><circle cx="287.3" cy="571.9" r="5"/><circle cx="286.1" cy="574.1" r="5.8"/><circle cx="291.3" cy="578.9" r="4.2"/><circle cx="296.5" cy="583.7" r="4.4"/><circle cx="301.6" cy="588.5" r="4.3"/><circle cx="306.8" cy="593.4" r="4.1"/><circle cx="312" cy="598.2" r="4"/><circle cx="317.2" cy="603" r="5.8"/><circle cx="322.3" cy="607.9" r="4.9"/><circle cx="327.5" cy="612.7" r="3.9"/><circle cx="332.7" cy="617.6" r="4.8"/><circle cx="337.8" cy="622.5" r="4.9"/><circle cx="343" cy="627.3" r="4.5"/><circle cx="348.1" cy="632.2" r="4.9"/><circle cx="353.2" cy="637.1" r="4.7"/><circle cx="358.4" cy="642" r="4.1"/><circle cx="363.5" cy="646.8" r="5.3"/><circle cx="368.6" cy="651.7" r="4"/><circle cx="373.7" cy="656.6" r="4.6"/><circle cx="378.8" cy="661.5" r="5.5"/><circle cx="383.9" cy="666.4" r="4.2"/><circle cx="389" cy="671.4" r="5.5"/><circle cx="394.1" cy="676.3" r="4.6"/><circle cx="399.2" cy="681.2" r="5.5"/><circle cx="404.3" cy="686.1" r="4"/><circle cx="409.4" cy="691.1" r="5"/><circle cx="414.5" cy="696" r="5.7"/><circle cx="419.5" cy="701" r="5.7"/><circle cx="424.6" cy="705.9" r="4.1"/><circle cx="429.7" cy="710.9" r="5.1"/><circle cx="128" cy="731.7" r="8"/><circle cx="136.3" cy="736.7" r="8"/><circle cx="134.7" cy="746.7" r="8"/><circle cx="145" cy="742" r="7"/><circle cx="153" cy="731.7" r="7"/><circle cx="154.7" cy="756.7" r="7"/><circle cx="164.7" cy="773.3" r="7"/><circle cx="170" cy="785" r="7"/><circle cx="190" cy="791.7" r="7"/><circle cx="186.7" cy="781.7" r="7"/><circle cx="200" cy="816.7" r="7"/><circle cx="208" cy="806.7" r="6"/><circle cx="156.7" cy="760" r="6.5"/><circle cx="221.3" cy="841.7" r="7"/><circle cx="229.7" cy="851.7" r="7"/><circle cx="244.7" cy="853.3" r="7"/><circle cx="251.3" cy="863.3" r="6"/><circle cx="264.7" cy="880" r="7"/><circle cx="365" cy="616.3" r="6.7"/><circle cx="403.3" cy="664.7" r="7.3"/><circle cx="423.3" cy="674.7" r="7"/><circle cx="396.7" cy="676.3" r="8"/><circle cx="316.7" cy="568" r="6.7"/><circle cx="517" cy="777" r="6"/><circle cx="530" cy="782" r="6.5"/><circle cx="522" cy="778" r="5"/><circle cx="521.7" cy="820" r="6"/><circle cx="373" cy="1005" r="7"/><circle cx="390" cy="1012" r="6"/><circle cx="352" cy="990" r="6"/></g>
<g fill="#56b046"><path d="M521.2,848.9 L520.4,849.4 L519.8,849.9 L519.3,850.4 L518.9,851 L518.5,851.6 L518.1,852.4 L517.7,853.3 L517.3,854.2 L517,855.2 L516.7,856.2 L516.4,857.3 L516.2,858.4 L516,859.6 L515.9,860.8 L515.8,862 L515.8,863.3 L515.8,864.7 L515.8,866.3 L515.8,867.8 L515.9,869.3 L516.1,870.7 L516.3,871.9 L516.7,872.9 L517,873.5 L517.5,874.1 L518.2,874.6 L519,875 L520,875.4 L521.2,875.8 L522.5,876.1 L524,876.4 L525.5,876.7 L527,877 L528.8,877.3 L530.7,877.4 L532.6,877.6 L534.6,877.7 L536.5,877.7 L538.2,877.6 L539.8,877.5 L541.2,877.3 L542.6,877.1 L543.8,876.9 L545,876.5 L546,876.2 L546.9,875.8 L547.7,875.3 L548.3,874.8 L548.9,874.3 L549.3,873.6 L549.8,872.8 L550.1,872 L550.4,871 L550.6,870.1 L550.8,869.2 L550.8,868.3 L550.7,867.6 L550.6,866.8 L550.3,866 L549.9,865.1 L549.4,864.1 L548.9,863.2 L548.4,862.2 L547.8,861.3 L547.4,860.5 L546.8,859.7 L546.2,858.9 L545.6,858.1 L544.9,857.3 L544.9,857.3 L544.2,856.5 L544.2,856.4 L543.6,855.6 L543.5,855.5 L542.9,854.7 L542.8,854.5 L542.3,853.6 L542.2,853.4 L541.9,852.5 L541.8,852.4 L541.5,851.5 L541.5,851.5 L541.2,850.6 L540.9,849.9 L540.7,849.4 L540.4,848.9 L540,848.5 L539.4,848.1 L538.7,847.6 L537.9,847.1 L537.1,846.7 L536.2,846.3 L535.3,846 L534.3,845.9 L533.3,845.8 L532,845.9 L530.5,846.1 L528.8,846.4 L527.1,846.8 L525.3,847.3 L523.7,847.8 L522.3,848.4 L521.2,848.9Z"/><circle cx="521.2" cy="848.9" r="4.3"/><circle cx="517.2" cy="854.7" r="5.9"/><circle cx="515.8" cy="861.8" r="4.1"/><circle cx="515.9" cy="869.1" r="5.4"/><circle cx="519.1" cy="875.1" r="4"/><circle cx="526.1" cy="876.9" r="4.4"/><circle cx="533.4" cy="877.6" r="6"/><circle cx="540.6" cy="877.4" r="4.3"/><circle cx="547.5" cy="875.4" r="5.2"/><circle cx="550.8" cy="869.2" r="4.8"/><circle cx="548.5" cy="862.4" r="4.8"/><circle cx="544.2" cy="856.5" r="4.9"/><circle cx="541" cy="850.1" r="4.3"/><circle cx="535.3" cy="846" r="5.6"/><circle cx="528.1" cy="846.6" r="4"/></g>
<path fill="#44713c" d="M408.1,755.9C409.2,755.8 411.5,755.6 411.9,756C412.3,756.4 411.1,757.7 410.6,758.4C410.1,759.1 409.5,760.2 408.7,760.4C407.9,760.6 406.2,760.3 405.7,759.7C405.1,759.1 404.9,757.2 405.3,756.6C405.7,756 407,756 408.1,755.9Z"/><path fill="#a9d69f" d="M227.4,667.4C227.7,668.2 228,669.6 227.4,670C226.8,670.5 224.9,669.9 223.6,669.9C222.2,670 219.7,670.8 219.2,670.3C218.8,669.9 220.4,668.3 220.8,667.4C221.2,666.4 221.1,665.3 221.8,664.9C222.6,664.5 224.6,664.6 225.5,665C226.4,665.4 227.1,666.5 227.4,667.4Z"/><path fill="#44713c" d="M400.5,983.3C400.1,983.9 398.4,984.5 397.8,984.4C397.1,984.2 397.1,983 396.8,982.4C396.5,981.8 395.9,981.6 395.8,981C395.8,980.5 396,979.3 396.5,979.2C396.9,979 397.9,979.8 398.5,980.1C399,980.4 399.6,980.5 399.9,981C400.3,981.6 400.9,982.8 400.5,983.3Z"/><path fill="#a9d69f" d="M315.8,769.5C315.7,769.2 315.9,769.2 315.8,768.8C315.8,768.5 315.4,767.9 315.6,767.6C315.7,767.3 316.5,766.8 316.7,766.9C317,767.1 316.6,768.1 317,768.4C317.3,768.8 318.6,769 318.6,769.1C318.6,769.3 317.3,769.3 316.9,769.5C316.5,769.7 316.4,770.3 316.2,770.3C316,770.3 315.9,769.7 315.8,769.5Z"/><path fill="#44713c" d="M349.3,700.8C349.6,700.8 350.1,701.4 350.4,701.7C350.6,701.9 350.8,702.1 350.9,702.4C350.9,702.8 350.9,703.9 350.6,704C350.3,704.1 349.5,703.4 349.1,703.1C348.7,702.8 348.1,702.4 348.2,702C348.2,701.7 348.9,700.9 349.3,700.8Z"/><path fill="#44713c" d="M476.4,808.2C477,808.3 478,808.5 478.4,809.1C478.7,809.7 478.8,811 478.6,811.7C478.4,812.3 477.8,813 477.1,813.1C476.4,813.2 474.9,812.5 474.5,812.2C474,811.8 474.3,811.4 474.3,810.8C474.3,810.3 473.9,809.4 474.3,808.9C474.6,808.5 475.7,808.2 476.4,808.2Z"/><path fill="#a9d69f" d="M397.7,778.2C397.5,778.8 396.6,779.1 396,779.4C395.4,779.7 394.6,779.9 394.1,779.8C393.6,779.7 393.2,779.3 393,778.8C392.8,778.4 392.8,777.8 392.9,777.2C393.1,776.6 393.3,775.5 394,775.3C394.6,775.1 396.3,775.5 396.9,776C397.6,776.5 397.8,777.7 397.7,778.2Z"/><path fill="#a9d69f" d="M392.7,803.3C392,803.3 391.5,803.4 391.2,803C390.9,802.6 390.5,801.3 390.9,800.8C391.3,800.3 393,799.7 393.7,800C394.4,800.4 395.3,802.1 395.2,802.6C395,803.2 393.4,803.2 392.7,803.3Z"/><path fill="#44713c" d="M449.4,740.6C449.5,739.7 449.8,739.2 450.6,738.8C451.4,738.3 453.6,737.4 454.4,737.8C455.3,738.1 455.9,739.8 455.8,740.7C455.7,741.5 454.8,742.3 453.9,742.9C452.9,743.5 450.9,744.5 450.1,744.1C449.4,743.7 449.4,741.5 449.4,740.6Z"/><path fill="#44713c" d="M309.2,640.9C308.2,641.3 305,640.6 303.9,639.7C302.9,638.9 302.1,636.8 302.7,635.9C303.4,634.9 306.7,633.8 307.9,634C309.1,634.3 309.9,636.4 310.1,637.5C310.4,638.6 310.2,640.5 309.2,640.9Z"/><path fill="#44713c" d="M161.4,727.6C160.8,727.8 159.8,727.8 159.3,727.5C158.8,727.1 158.2,726 158.3,725.5C158.5,725.1 159.6,724.9 160.4,724.7C161.2,724.6 162.8,724.3 163.2,724.6C163.6,724.9 163.2,725.9 162.9,726.4C162.6,726.9 162,727.4 161.4,727.6Z"/><path fill="#44713c" d="M202.2,739.1C202.1,738 202.8,735.7 203.6,735.4C204.4,735.1 206.6,736.6 207.2,737.3C207.7,738 207.3,739.1 206.8,739.8C206.3,740.6 204.9,742.1 204.1,742C203.3,741.9 202.3,740.2 202.2,739.1Z"/><path fill="#a9d69f" d="M320.2,732.8C320.5,731.8 321.7,730.7 323,730.6C324.3,730.4 327.8,731.1 328.1,731.9C328.4,732.7 325.8,734.4 324.7,735.2C323.6,735.9 322.1,736.8 321.4,736.4C320.6,736 319.9,733.7 320.2,732.8Z"/><path fill="#a9d69f" d="M314.6,600.6C314,600.3 313.1,599.7 313.2,599.3C313.2,598.9 314.5,598.4 315,598C315.4,597.6 315.3,597 315.8,597C316.2,596.9 316.9,597.2 317.4,597.5C318,597.8 318.8,598.4 318.8,598.7C318.8,599.1 317.9,599.4 317.6,599.7C317.2,600.1 317.1,600.9 316.7,601C316.2,601.2 315.2,600.9 314.6,600.6Z"/><path fill="#44713c" d="M377.4,662.3C378.3,662.3 379.8,662.7 380.4,663.4C381.1,664.1 382,665.8 381.5,666.4C381.1,667 378.6,667 377.6,667C376.5,666.9 376,666.6 375.1,666.2C374.1,665.9 371.9,665.2 372,664.7C372,664.2 374.4,663.8 375.3,663.4C376.2,663 376.5,662.3 377.4,662.3Z"/><path fill="#44713c" d="M389.4,755.6C390.1,756.4 390.7,757.8 390.3,758.6C389.8,759.5 387.7,761.1 386.9,760.8C386.2,760.6 385.9,758.5 385.8,757.3C385.7,756.2 385.5,754.3 386.1,754C386.7,753.7 388.8,754.8 389.4,755.6Z"/><path fill="#a9d69f" d="M401.4,825.4C400.4,826.1 397.4,825.9 396,825.1C394.7,824.4 392.8,822.2 393.2,820.9C393.5,819.6 396.7,817.5 398.1,817.5C399.5,817.5 401.2,819.7 401.7,821.1C402.3,822.4 402.3,824.7 401.4,825.4Z"/><path fill="#a9d69f" d="M337.9,791.7C339.4,792.2 342.1,792.9 342.4,794C342.7,795.1 341,798 339.7,798.2C338.5,798.5 336,796.3 334.9,795.6C333.9,794.8 333.7,794.5 333.5,793.7C333.3,793 333,791.2 333.7,790.9C334.5,790.6 336.5,791.2 337.9,791.7Z"/><path fill="#a9d69f" d="M258.1,738.1C257,738 255.9,737.3 255,736.8C254,736.4 252.5,736.1 252.4,735.5C252.3,734.9 253.6,733.7 254.3,733.2C255,732.7 255.9,732.6 256.5,732.5C257.1,732.5 257,732.8 257.8,732.9C258.6,733.1 260.6,732.7 261.3,733.4C261.9,734.1 262,736.4 261.5,737.1C260.9,737.9 259.2,738.1 258.1,738.1Z"/><path fill="#44713c" d="M384.8,741.5C383.8,741.8 381.7,739.8 380.4,738.9C379.2,738 377.1,736.7 377.4,736.2C377.7,735.8 380.7,736.1 382.3,736.2C383.9,736.4 386.3,736.4 386.7,737.3C387.2,738.2 385.9,741.3 384.8,741.5Z"/><path fill="#a9d69f" d="M210.5,701.9C210.9,701.5 211.7,700.4 212.6,700.4C213.6,700.4 215.5,701.2 216,701.9C216.4,702.6 215.8,703.7 215.3,704.5C214.8,705.4 214,706.4 213.2,706.8C212.4,707.1 211.2,706.9 210.4,706.6C209.6,706.2 208.3,705.2 208.3,704.6C208.2,704 209.6,703.5 210,703C210.3,702.6 210,702.4 210.5,701.9Z"/><path fill="#44713c" d="M385.2,686.5C385.5,688 383.1,690.6 381.6,691.5C380,692.3 377.4,692.1 376.1,691.5C374.7,690.9 373.6,689.2 373.4,688C373.3,686.8 374.1,685.2 375.2,684.2C376.2,683.3 378.1,682.1 379.8,682.5C381.4,682.8 384.9,685 385.2,686.5Z"/><path fill="#a9d69f" d="M314.7,711.5C314.3,712.5 313.2,715.3 312.6,715.2C312,715.2 311.6,712.5 311.2,711.1C310.8,709.7 309.7,707 310.4,706.6C311.1,706.2 314.8,707.9 315.6,708.7C316.3,709.5 315.2,710.4 314.7,711.5Z"/><path fill="#44713c" d="M398.4,746.1C398.3,746.7 398.5,747.2 398.1,747.5C397.8,747.7 397,747.6 396.3,747.6C395.5,747.5 393.8,747.7 393.7,747.4C393.5,747 395,746.1 395.3,745.5C395.6,744.9 395,744.2 395.6,743.8C396.3,743.5 398.7,743.1 399.2,743.5C399.7,743.9 398.6,745.4 398.4,746.1Z"/><path fill="#a9d69f" d="M234.2,706C234.7,706.2 235.5,707.1 235.5,707.8C235.5,708.5 234.8,709.9 234.3,710C233.7,710.1 232.6,709.2 232.2,708.6C231.8,708 231.6,706.8 232,706.4C232.3,705.9 233.6,705.8 234.2,706Z"/><path fill="#a9d69f" d="M276,662C275.5,661.5 274.5,660.7 274.7,660.5C274.9,660.3 276.8,660.6 277.3,660.6C277.9,660.7 277.8,660.7 278,660.9C278.3,661.2 279.2,661.8 279.1,662.2C279,662.6 277.9,663.3 277.4,663.3C276.9,663.2 276.4,662.4 276,662Z"/><path fill="#44713c" d="M451.3,764.9C451.6,764.4 452.2,764.4 452.6,764.2C452.9,764.1 453,764.2 453.5,764.1C454.1,763.9 455.7,763.3 455.9,763.5C456.1,763.7 454.7,764.6 454.5,765C454.3,765.5 455,766 454.8,766.2C454.6,766.3 454.1,765.8 453.4,766C452.7,766.1 451.1,767.1 450.8,766.9C450.4,766.7 451,765.3 451.3,764.9Z"/><path fill="#a9d69f" d="M250,679.9C249.5,680.7 247.7,681.7 246.1,681.6C244.4,681.5 240.3,680.7 240.1,679.4C239.8,678.1 242.9,674.4 244.4,674C245.9,673.6 248,675.8 248.9,676.8C249.9,677.8 250.5,679.1 250,679.9Z"/><path fill="#a9d69f" d="M386,771.2C384.6,771.1 381.9,771.6 381.6,771.1C381.3,770.7 383.6,769.1 384.1,768.5C384.6,767.8 384.2,767.4 384.6,767.1C384.9,766.9 385.6,767.3 386.5,767.1C387.3,766.9 389.3,765.6 389.6,765.9C389.9,766.2 388.2,767.9 388.3,768.8C388.3,769.8 390.3,771.4 389.9,771.8C389.5,772.2 387.4,771.4 386,771.2Z"/><path fill="#44713c" d="M233.9,806.1C234.1,806.5 233.8,806.7 233.6,807.1C233.4,807.6 232.9,808.7 232.4,808.7C232,808.8 231.2,807.9 230.7,807.4C230.3,806.9 229.4,806.3 229.7,805.8C229.9,805.2 231.6,804.2 232.3,804.3C233,804.3 233.7,805.6 233.9,806.1Z"/><path fill="#44713c" d="M189,728.6C187.7,728.1 185.9,727 185.9,726.2C185.8,725.3 187.9,724.1 188.9,723.6C189.9,723.2 190.9,723.7 191.9,723.5C192.8,723.3 194.2,722.3 194.8,722.4C195.5,722.5 196,723.6 195.8,724.2C195.6,724.9 194.2,725.4 193.8,726.2C193.4,727 194.4,728.7 193.6,729.1C192.8,729.6 190.3,729.1 189,728.6Z"/><path fill="#44713c" d="M311.1,672.2C310.6,671.8 309.5,670.8 309.7,670.2C309.8,669.7 311.1,669 311.8,668.9C312.5,668.8 313.1,669.3 313.9,669.8C314.7,670.4 316.8,671.7 316.6,672.1C316.4,672.6 313.6,672.7 312.7,672.7C311.7,672.7 311.6,672.6 311.1,672.2Z"/><path fill="#a9d69f" d="M405.5,886.3C405.3,885.7 405.6,884.5 406.2,884C406.8,883.4 408.3,882.7 409.3,883C410.2,883.2 411.6,884.6 411.7,885.3C411.7,886 410,886.7 409.5,887.1C409,887.5 409.1,887.8 408.7,887.9C408.2,887.9 407.4,887.7 406.9,887.5C406.4,887.2 405.6,886.8 405.5,886.3Z"/><path fill="#44713c" d="M188.3,701.8C188.8,702.3 189.5,703.3 189.1,704.1C188.8,704.9 187.4,706.5 186.2,706.4C185.1,706.3 182.4,704.5 182.3,703.7C182.2,702.8 184.8,701.5 185.8,701.2C186.8,700.9 187.7,701.3 188.3,701.8Z"/><path fill="#a9d69f" d="M238.5,745.7C237.9,745.3 236.9,744.9 236.8,744.1C236.8,743.2 237.3,741.2 238.1,740.8C238.9,740.5 240.3,741.7 241.6,742.1C242.9,742.5 245.5,742.6 246.1,743.3C246.7,744.1 246.1,746.3 245.2,746.8C244.2,747.3 241.6,746.6 240.5,746.4C239.4,746.2 239.1,746.1 238.5,745.7Z"/><path fill="#44713c" d="M406.1,705.7C406,705.3 406.7,704 407.2,703.7C407.7,703.5 408.7,703.7 409.1,704C409.6,704.2 409.8,704.8 409.9,705.2C410,705.7 409.8,706.4 409.5,706.6C409.2,706.8 408.7,706.6 408.1,706.4C407.6,706.3 406.3,706.1 406.1,705.7Z"/><path fill="#a9d69f" d="M305.2,778.8C304.4,779.4 303.6,781 303.1,781C302.6,781 302.8,779.4 302,778.6C301.2,777.8 298,776.6 298.1,776.1C298.3,775.7 301.9,775.7 302.9,775.7C304,775.7 303.8,775.9 304.7,776.1C305.5,776.3 308,776.6 308,777.1C308.1,777.5 306,778.1 305.2,778.8Z"/><path fill="#44713c" d="M383.4,937.6C383.9,937.7 384.6,937.7 384.8,938.1C385,938.4 384.9,939.1 384.6,939.5C384.3,939.9 383.5,940.2 383,940.3C382.6,940.4 382.1,940.3 381.8,940.1C381.6,939.9 381.7,939.3 381.7,938.9C381.7,938.6 381.6,938.5 381.6,938.2C381.7,938 381.8,937.6 382.1,937.5C382.4,937.4 383,937.5 383.4,937.6Z"/><path fill="#a9d69f" d="M364.5,823.6C365.2,824 365.4,825.5 365.5,826.2C365.6,826.9 365.5,827.8 365,827.9C364.5,828.1 363.2,827.6 362.5,827.4C361.8,827.1 360.7,827 360.5,826.4C360.3,825.8 360.7,824.2 361.4,823.8C362,823.3 363.8,823.2 364.5,823.6Z"/><path fill="#44713c" d="M349.5,651C351,650.9 352.2,651.6 352.9,652.3C353.6,652.9 353.7,653.9 353.5,655C353.3,656.1 352.5,658.9 351.7,658.9C350.9,658.9 350,656.2 348.7,655.2C347.3,654.2 343.6,653.5 343.7,652.8C343.8,652.1 347.9,651.1 349.5,651Z"/><path fill="#44713c" d="M454.4,772.6C454.8,772.7 455.7,773.2 455.8,773.6C455.9,773.9 455.5,774.6 455,774.8C454.5,775 453,775 452.7,774.8C452.5,774.5 453,773.8 453.2,773.4C453.5,773.1 453.9,772.6 454.4,772.6Z"/><path fill="#44713c" d="M326.7,650.1C326.4,649.9 326.7,648.8 327,648.4C327.3,647.9 327.7,647.5 328.3,647.4C328.8,647.3 330.3,647.5 330.5,647.9C330.7,648.2 329.8,649.2 329.4,649.6C329.1,649.9 328.9,649.9 328.4,650C328,650.1 326.9,650.4 326.7,650.1Z"/><path fill="#a9d69f" d="M222.7,655.1C223.1,655.5 223.6,655.9 223.7,656.3C223.7,656.7 223.5,657.3 223.2,657.6C222.8,657.9 221.8,658.1 221.3,658C220.9,658 221.1,657.5 220.6,657.3C220.1,657 218.4,656.9 218.1,656.6C217.9,656.3 218.6,655.7 219.1,655.3C219.6,654.8 220.5,654 221.1,654C221.7,653.9 222.3,654.8 222.7,655.1Z"/><path fill="#a9d69f" d="M385.5,786.1C384.7,785.8 383.9,784.9 383.8,784.3C383.8,783.7 384.9,783 385.3,782.6C385.8,782.1 386.1,782 386.8,781.7C387.5,781.5 389.1,780.7 389.6,781.1C390.2,781.5 390.2,783.3 390,784.2C389.8,785.1 389.2,786 388.4,786.3C387.7,786.7 386.3,786.5 385.5,786.1Z"/><path fill="#44713c" d="M323.9,653.2C323,653.3 320.9,653.5 320.6,653.1C320.3,652.7 321.6,651.6 322,651.1C322.5,650.6 322.5,650.2 323.5,650C324.6,649.7 328.1,649.1 328.5,649.6C328.9,650.1 326.7,652.3 325.9,652.9C325.1,653.5 324.7,653.2 323.9,653.2Z"/><path fill="#a9d69f" d="M275.6,761.7C276.3,762.1 278,763.8 277.7,764.5C277.5,765.1 275.4,765.5 274.2,765.4C272.9,765.3 270.2,764.5 270.1,763.8C270.1,763.2 272.8,762 273.7,761.6C274.6,761.3 274.9,761.2 275.6,761.7Z"/><path fill="#44713c" d="M476.3,839.6C476.3,840.2 476.4,841.2 476,841.5C475.6,841.9 474.5,842 473.8,841.8C473.1,841.7 472.3,841.3 472,840.8C471.6,840.3 471.5,839.5 471.7,839.1C471.9,838.7 472.8,838.3 473.3,838.2C473.8,838 474.1,838 474.5,838C474.9,838 475.5,837.9 475.8,838.2C476.1,838.4 476.3,839 476.3,839.6Z"/><path fill="#a9d69f" d="M238.1,641.2C238.3,640.6 240.1,640.7 241.1,640.4C242.1,640.1 243.4,638.9 244,639.2C244.6,639.5 245,641.4 244.8,642.4C244.5,643.4 243.5,645 242.7,645.2C241.9,645.4 240.6,644.4 239.9,643.7C239.1,643.1 237.9,641.7 238.1,641.2Z"/><path fill="#44713c" d="M390.3,929.7C390.4,930 389.8,930.6 389.4,930.7C389,930.9 388.4,930.6 388,930.6C387.5,930.7 386.9,931.2 386.7,931C386.4,930.8 386.6,930 386.6,929.5C386.6,929 386.2,928.2 386.5,928C386.7,927.8 387.7,928.3 388.1,928.4C388.5,928.5 388.5,928.5 388.9,928.7C389.2,928.9 390.2,929.3 390.3,929.7Z"/><path fill="#44713c" d="M482.3,823.5C483.6,823 486.6,823.3 487.5,823.9C488.3,824.5 486.9,826.1 487.4,827.1C487.9,828 490.9,829.3 490.7,829.7C490.5,830.2 487.2,830 486.2,830C485.1,830 485.4,829.8 484.4,829.8C483.5,829.8 481.2,830.3 480.4,829.8C479.6,829.3 479.3,827.8 479.6,826.7C479.9,825.7 480.9,824 482.3,823.5Z"/><path fill="#44713c" d="M246,775.8C245.8,776.3 245.3,777 244.9,777.1C244.6,777.2 244.1,776.5 243.8,776.1C243.6,775.8 243.4,775.5 243.7,775.1C244.1,774.7 245.5,773.7 245.9,773.8C246.3,773.9 246.1,775.2 246,775.8Z"/><path fill="#a9d69f" d="M432,855.2C430.8,855.2 428.7,856.4 428.2,856C427.6,855.6 428,853.4 428.4,852.8C428.9,852.2 430.1,852.5 431,852.1C431.9,851.8 433,850.4 434,850.6C434.9,850.7 436.5,852.1 436.6,853C436.8,853.8 435.6,855.2 434.9,855.5C434.1,855.9 433.1,855.1 432,855.2Z"/><path fill="#44713c" d="M297.3,635.9C297.8,636.4 296.7,637.7 296.6,638.6C296.6,639.6 297.5,641.3 297,641.7C296.4,642 294,641.3 293.4,640.9C292.8,640.5 294,639.8 293.3,639.1C292.7,638.5 289.5,637.6 289.6,637C289.6,636.4 292.4,635.7 293.7,635.5C295,635.3 296.8,635.4 297.3,635.9Z"/><path fill="#44713c" d="M403,732.9C403.1,732.6 404,732.9 404.5,732.7C405,732.5 405.9,731.8 406.3,731.9C406.6,732 406.6,732.8 406.5,733.2C406.4,733.6 406,733.7 405.7,734.1C405.4,734.6 405.1,736 404.7,736C404.4,736 404,734.8 403.7,734.2C403.4,733.7 402.9,733.1 403,732.9Z"/><path fill="#44713c" d="M288.7,804.1C288.4,804.4 288,804.1 287.6,804.2C287.2,804.3 286.8,804.8 286.3,804.7C285.9,804.5 285,803.7 285,803.3C285,802.9 285.9,802.5 286.4,802.2C286.9,801.9 287.4,801.6 287.9,801.7C288.4,801.8 289.2,802.1 289.4,802.5C289.5,802.9 289,803.8 288.7,804.1Z"/><path fill="#44713c" d="M426.7,730.5C425.9,731 424.1,730.8 422.4,730.4C420.7,730.1 417.1,729.6 416.7,728.5C416.3,727.5 418.7,725 419.9,724C421.1,723 422.5,722.5 423.8,722.6C425,722.6 427,723.3 427.6,724.1C428.3,724.9 427.7,726.5 427.5,727.5C427.4,728.6 427.6,730 426.7,730.5Z"/><path fill="#44713c" d="M338.7,673.5C339.3,673.2 340.9,672.2 341.2,672.3C341.6,672.5 340.8,673.9 340.9,674.6C340.9,675.2 341.7,675.9 341.5,676.3C341.4,676.7 340.7,676.8 340.2,676.9C339.7,677 339.2,676.9 338.4,676.8C337.5,676.7 335.2,676.6 335.1,676.2C335,675.7 337.3,674.7 337.9,674.3C338.5,673.8 338.1,673.8 338.7,673.5Z"/><path fill="#44713c" d="M359.3,726.6C359,726 359.8,724.8 360.3,724.2C360.8,723.6 361.5,723.1 362.2,723C362.9,722.8 364,723 364.4,723.4C364.8,723.7 364.4,724.6 364.5,725.1C364.5,725.5 364.6,725.8 364.7,726.3C364.7,726.8 365,727.6 364.5,727.8C364,728 362.5,728 361.6,727.8C360.8,727.6 359.5,727.2 359.3,726.6Z"/><path fill="#44713c" d="M294.1,857.2C294.5,855.8 295.5,854 296.5,853.5C297.6,852.9 299.4,853.1 300.4,853.9C301.4,854.6 302.6,856.7 302.7,858.2C302.7,859.6 302.1,862 300.7,862.5C299.3,863.1 295.3,862.6 294.2,861.7C293.1,860.8 293.7,858.6 294.1,857.2Z"/><path fill="#a9d69f" d="M335.8,783.7C335.2,783.9 334.3,783.2 333.9,782.8C333.5,782.4 333.4,781.9 333.4,781.3C333.5,780.8 333.6,779.8 334.1,779.6C334.6,779.4 335.9,779.7 336.5,780.1C337.1,780.5 337.7,781.3 337.6,781.9C337.5,782.5 336.4,783.5 335.8,783.7Z"/><path fill="#44713c" d="M203.6,722.6C204.7,723 208,722.9 208.4,723.7C208.7,724.5 206.9,726.9 205.8,727.4C204.8,727.9 202.9,727.2 201.8,726.8C200.8,726.4 200.3,725.7 199.5,724.9C198.6,724.2 196.5,722.9 196.8,722.3C197.1,721.7 200.2,721.3 201.3,721.3C202.4,721.4 202.4,722.2 203.6,722.6Z"/><path fill="#a9d69f" d="M288.8,702.4C289.4,703.4 288.8,706 287.9,707.1C287,708.3 284.7,709.8 283.4,709.2C282,708.7 279.6,705.2 279.8,703.9C280,702.6 283.1,701.7 284.6,701.4C286.2,701.2 288.3,701.5 288.8,702.4Z"/><path fill="#a9d69f" d="M394.8,901.5C393.5,901.6 391.5,900.6 390.7,899.6C389.9,898.7 389.5,896.9 389.8,896C390.1,895.1 391.4,895 392.5,894.2C393.6,893.4 395.4,890.9 396.5,891.1C397.5,891.3 398.4,893.9 398.7,895.2C399,896.5 398.8,898 398.2,899C397.5,900.1 396,901.4 394.8,901.5Z"/><path fill="#a9d69f" d="M298.4,706.1C298.5,705.6 298,705 298.6,704.6C299.2,704.3 301.5,703.6 302.1,703.9C302.7,704.2 302.4,705.7 302.2,706.4C302,707.1 301.5,707.7 300.8,707.9C300.1,708.1 298.4,708 298,707.7C297.6,707.4 298.3,706.6 298.4,706.1Z"/><path fill="#44713c" d="M459.3,759.3C458.5,759.3 457.4,756.4 457.2,755.3C457,754.1 457.2,752.8 457.9,752.4C458.6,752 460.7,752.4 461.4,752.8C462.1,753.3 462.4,754.1 462,755.2C461.7,756.3 460.1,759.3 459.3,759.3Z"/><path fill="#44713c" d="M349.8,907.5C350,907.2 350.9,907 351.4,907C351.9,907 352.5,907.1 352.7,907.4C352.9,907.6 352.7,908.4 352.5,908.7C352.2,909.1 351.8,909.3 351.4,909.3C351,909.3 350.5,909 350.2,908.7C349.9,908.4 349.6,907.8 349.8,907.5Z"/><path fill="#44713c" d="M401.1,718.9C400.9,717.9 400.8,716.3 401.4,716C402.1,715.7 404.2,716.5 404.8,717.1C405.5,717.6 405.8,718.5 405.4,719.4C405.1,720.2 403.4,722.2 402.7,722.1C402,722 401.3,719.9 401.1,718.9Z"/><path fill="#a9d69f" d="M300.8,731.3C301.1,731.1 301.7,731 302.2,731.2C302.6,731.3 303.2,731.6 303.4,732C303.7,732.4 304,733.5 303.7,733.7C303.4,733.9 302.3,733.4 301.7,733.4C301.1,733.5 300.3,734.1 300.1,733.9C299.9,733.7 300.2,732.7 300.3,732.3C300.4,731.9 300.5,731.5 300.8,731.3Z"/><path fill="#44713c" d="M340.9,933.6C341.6,933.4 343.4,934 343.8,934.4C344.3,934.9 343.4,935.7 343.4,936.3C343.3,936.9 343.7,937.5 343.5,938C343.3,938.4 342.6,938.8 342,938.9C341.4,939 340.4,938.9 339.9,938.4C339.5,937.9 339.3,936.8 339.4,936C339.6,935.2 340.1,933.9 340.9,933.6Z"/><path fill="#44713c" d="M346.2,651.7C347.1,651.6 349.2,651.9 349.6,652.4C350,653 349.1,654 348.6,654.9C348.1,655.9 347.2,657.9 346.5,658C345.8,658 344.6,656 344.3,655.1C344,654.3 344.2,653.7 344.5,653.1C344.9,652.5 345.4,651.8 346.2,651.7Z"/><path fill="#a9d69f" d="M332.5,761.2C332.6,760.7 333.5,760 334.3,759.9C335.1,759.8 336.7,760 337.3,760.6C337.8,761.1 337.9,762.7 337.5,763.3C337.2,763.9 335.8,764.3 335.2,764.3C334.5,764.2 334,763.5 333.6,763C333.1,762.5 332.3,761.7 332.5,761.2Z"/><path fill="#44713c" d="M254.7,808.7C255.4,808.2 256.1,806.8 256.9,806.7C257.6,806.7 258.5,807.7 259,808.4C259.5,809.2 260.3,810.6 259.9,811.2C259.6,811.7 257.5,811.8 256.7,811.9C255.8,812 255.6,811.9 255,811.5C254.4,811.2 253.1,810.5 253.1,810C253,809.5 254.1,809.3 254.7,808.7Z"/><path fill="#a9d69f" d="M328.5,768.5C328.1,768.5 327,767.7 326.9,767.2C326.8,766.8 327.5,766.3 327.9,766C328.3,765.8 329.2,765.6 329.5,765.7C329.7,765.9 329.7,766.6 329.6,767C329.4,767.5 329,768.4 328.5,768.5Z"/><path fill="#44713c" d="M501.4,818.4C500.9,819 496.7,818.2 495.3,817.9C494,817.6 493.4,817.3 493.2,816.7C493,816 493,814.2 494,813.9C494.9,813.5 497.5,813.6 498.8,814.4C500,815.2 502,817.9 501.4,818.4Z"/><path fill="#44713c" d="M335.6,868.9C335.9,869.1 336,869.4 336.1,869.8C336.3,870.1 336.9,870.9 336.6,871.1C336.4,871.3 335.2,870.7 334.6,870.9C333.9,871 333.2,872.1 332.9,872C332.6,871.9 333,870.8 333,870.4C333,869.9 332.8,869.7 333,869.4C333.1,869.1 333.7,868.7 334.1,868.7C334.5,868.6 335.2,868.8 335.6,868.9Z"/><path fill="#a9d69f" d="M406.3,890.9C405.5,891.4 404.5,892.2 404,891.9C403.6,891.7 403.2,889.8 403.5,889.2C403.7,888.6 404.6,888.6 405.5,888.5C406.4,888.5 408.5,888.5 408.7,888.9C408.8,889.3 407.1,890.4 406.3,890.9Z"/><path fill="#44713c" d="M449.2,815C449.5,814.1 452.2,812.8 453.6,812.7C455,812.6 456.2,813.7 457.5,814.6C458.7,815.5 461.4,817.2 461.1,818.1C460.9,818.9 457.6,819.2 456,819.9C454.4,820.6 452.3,822.7 451.6,822.4C450.8,822.2 451.7,819.4 451.3,818.2C450.9,817 448.8,816 449.2,815Z"/><path fill="#44713c" d="M184.8,688.8C185.4,689.3 186.6,690.8 186.5,691.7C186.4,692.6 185.5,693.9 184.3,694.3C183.1,694.6 180,694.5 179.1,693.8C178.3,693 178.6,690.6 179.2,689.7C179.8,688.9 181.5,688.8 182.5,688.7C183.4,688.5 184.1,688.3 184.8,688.8Z"/><path fill="#a9d69f" d="M402.5,817.9C402.7,817.5 403.3,816.3 403.7,816.3C404.1,816.3 404.9,817.5 404.9,818C405,818.4 404.2,818.6 403.9,818.8C403.6,819 403.4,819.1 403.1,819.1C402.8,819.1 402.4,819 402.3,818.8C402.2,818.6 402.2,818.3 402.5,817.9Z"/><path fill="#44713c" d="M374.1,671.3C374.4,671.9 374.8,672.4 374.4,673.1C374,673.8 372.5,675.5 371.6,675.4C370.7,675.4 369.2,673.7 368.9,672.8C368.5,671.9 368.8,670.6 369.4,670.1C370.1,669.5 372,669.4 372.8,669.6C373.6,669.8 373.9,670.7 374.1,671.3Z"/><path fill="#a9d69f" d="M393.9,861.4C393,861.1 391.8,861 391.6,860.5C391.3,859.9 391.7,858.5 392.3,857.9C392.9,857.3 394.1,856.9 395,856.9C396,856.9 397.7,857.4 398,857.9C398.3,858.5 396.8,859.3 396.6,860.1C396.4,860.8 397.1,862.2 396.7,862.4C396.2,862.7 394.7,861.8 393.9,861.4Z"/><path fill="#44713c" d="M394.2,926.8C394.6,926.6 395.6,927.3 396,927.6C396.4,928 396.6,928.4 396.6,928.9C396.6,929.3 396.4,930.3 395.9,930.5C395.3,930.6 394,930.1 393.6,929.7C393.2,929.4 393.3,929 393.4,928.5C393.5,928 393.8,926.9 394.2,926.8Z"/><path fill="#44713c" d="M301.6,856.2C302.1,855.7 302,855.4 302.9,855.1C303.9,854.8 306.4,854.1 307.2,854.5C307.9,854.9 307.7,856.6 307.7,857.5C307.6,858.5 307.7,859.8 306.9,860.1C306.2,860.5 304.1,859.5 303.2,859.5C302.2,859.4 301.8,860.2 301.3,859.9C300.8,859.6 300.1,858.5 300.1,857.8C300.2,857.2 301.2,856.6 301.6,856.2Z"/><path fill="#44713c" d="M282.9,647.2C282.3,646.6 283.7,645 284.1,644.3C284.5,643.6 284.8,643 285.4,642.9C286.1,642.9 287.8,643.3 288.2,644.1C288.6,644.9 288.7,647.4 287.9,647.9C287,648.4 283.5,647.8 282.9,647.2Z"/><path fill="#a9d69f" d="M385.6,658C386,657.6 388,657.8 388.8,658.2C389.6,658.6 390.6,659.6 390.5,660.3C390.4,661 388.8,662.5 388.1,662.6C387.4,662.7 386.7,661.5 386.3,660.7C385.8,659.9 385.1,658.4 385.6,658Z"/><path fill="#a9d69f" d="M285.3,764.2C285.7,763.9 287.3,763.6 287.7,763.9C288.2,764.1 288,765.1 288,765.6C288,766 288.1,766.2 287.7,766.5C287.4,766.8 286.4,767.6 285.9,767.5C285.4,767.4 284.9,766.5 284.8,766C284.7,765.4 284.8,764.6 285.3,764.2Z"/><path fill="#44713c" d="M451.5,758.3C451.8,758.5 452.1,759.5 451.9,759.9C451.7,760.4 450.7,761 450.2,760.9C449.7,760.9 449.1,760 449,759.6C449,759.2 449.7,758.7 450.1,758.5C450.5,758.3 451.2,758.1 451.5,758.3Z"/><path fill="#44713c" d="M334.5,660.7C335.8,660.3 337.6,658.9 338.9,659.3C340.2,659.7 342.3,662 342.3,663.4C342.2,664.7 339.9,666.7 338.6,667.4C337.3,668.1 335.3,668.1 334.4,667.7C333.4,667.3 333.4,666.2 332.9,665.2C332.5,664.2 331.1,662.7 331.4,661.9C331.6,661.2 333.3,661.2 334.5,660.7Z"/><path fill="#a9d69f" d="M430.9,812.4C430.2,813.6 426.3,814.7 424.3,814.4C422.3,814.2 419,812.2 418.8,811C418.7,809.8 421.7,807.8 423.3,807.2C424.9,806.5 427.3,806.3 428.6,807.2C429.9,808 431.6,811.1 430.9,812.4Z"/><path fill="#a9d69f" d="M382.2,787C382.7,787.5 383.7,788 383.8,788.5C384,789 383.5,789.5 383.1,790.1C382.7,790.6 382.3,791.5 381.6,791.8C380.8,792.1 379.3,792.2 378.6,791.7C377.9,791.3 377,789.8 377.2,789.1C377.4,788.5 379.3,788.5 379.8,787.9C380.4,787.4 380.1,785.8 380.4,785.7C380.8,785.5 381.6,786.6 382.2,787Z"/><path fill="#a9d69f" d="M341.6,767.2C340.9,767.1 340.3,765.6 339.7,764.8C339.2,764 337.9,762.7 338.3,762.2C338.7,761.6 340.7,761.7 342,761.7C343.2,761.6 345.4,761.1 345.7,761.7C346.1,762.3 344.7,764.4 344,765.3C343.3,766.2 342.3,767.3 341.6,767.2Z"/><path fill="#44713c" d="M239.5,773.3C239,773.5 238.5,772.9 237.8,772.6C237,772.2 235.3,772.1 235.2,771.3C235,770.5 235.6,768.4 236.7,767.8C237.7,767.2 240.7,767.1 241.4,767.7C242.1,768.3 241.2,770.4 240.9,771.3C240.6,772.3 240.1,773.1 239.5,773.3Z"/><path fill="#44713c" d="M441.5,758.3C442.2,758.9 444.8,760.6 444.5,761C444.3,761.4 441.6,760.6 440.2,760.8C438.8,761 436.7,762.6 436.2,762.3C435.7,762 437.3,759.9 437.4,758.8C437.5,757.8 436.3,756.3 436.8,756.1C437.4,755.9 439.7,757.3 440.5,757.6C441.3,758 440.9,757.8 441.5,758.3Z"/><path fill="#44713c" d="M291.8,830.5C292.3,830.5 293.1,831.1 293.2,831.5C293.3,831.8 292.6,832.3 292.2,832.5C291.8,832.8 291.2,833 290.8,832.9C290.3,832.9 289.5,832.5 289.5,832.3C289.4,832 290.1,831.6 290.5,831.3C290.9,831 291.4,830.5 291.8,830.5Z"/><path fill="#44713c" d="M285.2,844.6C284.6,845.4 283.3,846.6 282.3,846.5C281.4,846.5 280.7,844.9 279.7,844.3C278.6,843.7 276.1,843.7 276,843.2C276,842.7 278.9,841.8 279.6,841.1C280.4,840.4 280,839.1 280.5,839C281,838.8 281.7,840 282.6,840.5C283.5,841 285.5,841.3 286,842C286.4,842.7 285.8,843.9 285.2,844.6Z"/>
<g fill="#56b046"><circle cx="490.7" cy="757.9" r="6.3"/><circle cx="232.9" cy="833.7" r="6.3"/><circle cx="441.8" cy="717.6" r="5.6"/><circle cx="436.4" cy="702" r="7.2"/><circle cx="369.8" cy="623.6" r="7.1"/><circle cx="442.6" cy="1014.7" r="5.1"/><circle cx="188.9" cy="771.7" r="5.1"/><circle cx="329.6" cy="595.2" r="5"/><circle cx="152.9" cy="738.5" r="6.1"/><circle cx="338.7" cy="966.9" r="7.1"/><circle cx="508.3" cy="769.2" r="6.1"/><circle cx="383" cy="989.5" r="6.3"/><circle cx="434.9" cy="907.2" r="6.6"/><circle cx="142.7" cy="707.6" r="7.1"/><circle cx="399.2" cy="663.1" r="6.6"/><circle cx="319.1" cy="572.1" r="6.8"/><circle cx="350.4" cy="974.3" r="6.7"/><circle cx="474" cy="870.6" r="5.6"/><circle cx="203.2" cy="632.7" r="6.8"/><circle cx="409.2" cy="1010.2" r="5.2"/><circle cx="399.9" cy="1006.9" r="5.8"/><circle cx="218.8" cy="624.1" r="5.9"/><circle cx="265.2" cy="844.7" r="5"/><circle cx="427.5" cy="887.7" r="5.1"/><circle cx="594.9" cy="968" r="5.1"/><circle cx="161.9" cy="739.2" r="6.9"/><circle cx="214.7" cy="813.9" r="6.9"/><circle cx="211.9" cy="804.9" r="5.1"/><circle cx="147.6" cy="694.4" r="5.8"/><circle cx="582.4" cy="937.5" r="6.1"/><circle cx="496.8" cy="861.1" r="5.8"/><circle cx="228" cy="821" r="6.8"/><circle cx="365.3" cy="618.3" r="5.7"/><circle cx="349.4" cy="607.8" r="5.5"/><circle cx="459.5" cy="716.8" r="6.2"/><circle cx="252.2" cy="592.5" r="5.5"/><circle cx="518.3" cy="860.2" r="6.7"/><circle cx="200.1" cy="798.9" r="6.8"/><circle cx="415.1" cy="686.4" r="5"/><circle cx="385.4" cy="644" r="7"/></g>
<g clip-path="url(#gbot)"><polyline fill="none" stroke="#444" stroke-width="0.8" stroke-dasharray="3,2.5" points="42.8,423.6 58,438.4 73.2,453.2 88.3,468 103.5,482.8 118.7,497.7 133.9,512.6 149.1,527.5 164.2,542.4 179.4,557.4 194.6,572.4 209.8,587.4 225,602.5 240.1,617.6 255.3,632.7 270.5,647.9 285.7,663.1 300.9,678.3 316,693.6 331.2,708.9 346.4,724.2 361.6,739.5 376.8,754.9 391.9,770.4 407.1,785.8 422.3,801.3 437.5,816.9 452.7,832.4 467.8,848 483,863.7 498.2,879.4 513.4,895.1 528.6,910.8 543.7,926.6 558.9,942.5 574.1,958.3 589.3,974.2 604.5,990.2 619.6,1006.2 634.8,1022.2 650,1038.2"/>
<polyline fill="none" stroke="#444" stroke-width="0.8" stroke-dasharray="3,2.5" points="40,518.1 98,583.4 248,751.1 296,801.6 426.7,940.1 518,1039.1 660,1192.1"/>
<polyline fill="none" stroke="#444" stroke-width="0.8" stroke-dasharray="3,2.5" points="40,589.9 98,658.9 700,1375.3"/></g>
<path d="M410,712.5C410.8,710 412.1,706.9 415,705C417.9,703.1 424,701.7 427.5,701.2C431,700.8 434.2,701 436.2,702.5C438.3,704 438.5,708.3 440,710C441.5,711.7 443.3,712.5 445,712.5C446.7,712.5 447.9,710.2 450,710C452.1,709.8 455.4,710 457.5,711.2C459.6,712.5 462.5,715.2 462.5,717.5C462.5,719.8 458.8,722.5 457.5,725C456.2,727.5 454.2,730.4 455,732.5C455.8,734.6 459.6,736 462.5,737.5C465.4,739 469.6,739.6 472.5,741.2C475.4,742.9 478.5,745.2 480,747.5C481.5,749.8 481.5,752.7 481.2,755C481,757.3 478.1,759.8 478.8,761.2C479.4,762.7 482.3,763.8 485,763.8C487.7,763.8 491.9,761.5 495,761.2C498.1,761 501.7,761.7 503.8,762.5C505.8,763.3 507.7,765 507.5,766.2C507.3,767.5 504.2,768.5 502.5,770C500.8,771.5 498.3,772.9 497.5,775C496.7,777.1 496.2,780 497.5,782.5C498.8,785 502.5,787.1 505,790C507.5,792.9 510.6,796.2 512.5,800C514.4,803.8 515.6,808.3 516.2,812.5C516.9,816.7 516.5,821.2 516.2,825C516,828.8 515,831.7 515,835C515,838.3 516.7,840.8 516.2,845C515.8,849.2 514.4,855.4 512.5,860C510.6,864.6 508.8,869.6 505,872.5C501.2,875.4 495,875.8 490,877.5C485,879.2 479.2,880.8 475,882.5C470.8,884.2 468.3,885.4 465,887.5C461.7,889.6 458.3,892.5 455,895C451.7,897.5 448.3,900.8 445,902.5C441.7,904.2 440,904.6 435,905C430,905.4 420.8,903.8 415,905C409.2,906.2 403.3,910 400,912.5C396.7,915 397.5,918.3 395,920C392.5,921.7 390,921.7 385,922.5C380,923.3 372.5,923.8 365,925C357.5,926.2 346.7,928.3 340,930C333.3,931.7 330,935 325,935C320,935 315.8,931.7 310,930C304.2,928.3 295.8,927.1 290,925C284.2,922.9 278.8,920.8 275,917.5C271.2,914.2 268.3,909.6 267.5,905C266.7,900.4 267.9,893.8 270,890C272.1,886.2 275.8,885 280,882.5C284.2,880 290,877.9 295,875C300,872.1 305,868.3 310,865C315,861.7 320,856.7 325,855C330,853.3 335.4,854.2 340,855C344.6,855.8 349.2,860.8 352.5,860C355.8,859.2 357.1,854.2 360,850C362.9,845.8 366.7,840.8 370,835C373.3,829.2 376.7,821.7 380,815C383.3,808.3 387.5,800.8 390,795C392.5,789.2 393.3,785 395,780C396.7,775 398.3,770 400,765C401.7,760 403.3,755 405,750C406.7,745 409.2,740 410,735C410.8,730 410,723.8 410,720C410,716.2 409.2,715 410,712.5Z" fill="#e8208c" fill-opacity="0.5" stroke="#7a4a60" stroke-width="0.9"/>
<g fill="#e8208c"><circle cx="384.8" cy="876.9" r="4.3"/><circle cx="361.3" cy="879.3" r="4.1"/><circle cx="337" cy="886.4" r="4.4"/><circle cx="447.5" cy="798.6" r="3.8"/><circle cx="401.2" cy="859.3" r="4.4"/><circle cx="465.7" cy="765" r="4"/><circle cx="465.2" cy="860.1" r="4.8"/><circle cx="475.1" cy="780.8" r="3.7"/><circle cx="293.7" cy="886.1" r="3.8"/><circle cx="465.6" cy="805.7" r="3.7"/><circle cx="424.6" cy="770.8" r="4.1"/><circle cx="501" cy="838.1" r="4.1"/><circle cx="358.2" cy="916.1" r="4.3"/><circle cx="490.9" cy="821.4" r="4.3"/><circle cx="426.9" cy="862.9" r="4.9"/><circle cx="416.5" cy="773.7" r="4.7"/><circle cx="483.8" cy="823.8" r="4.3"/><circle cx="321.9" cy="900.9" r="4.5"/><circle cx="351.6" cy="909.7" r="4.5"/><circle cx="379.2" cy="893.1" r="3.8"/><circle cx="463.5" cy="821.8" r="4"/><circle cx="384.9" cy="864.6" r="3.9"/><circle cx="451.5" cy="765" r="4"/><circle cx="389" cy="882.4" r="4.7"/><circle cx="380.2" cy="914.9" r="4"/><circle cx="483.6" cy="843.5" r="4"/><circle cx="465.6" cy="778.1" r="3.7"/><circle cx="494.2" cy="790" r="3.9"/><circle cx="317.7" cy="919.4" r="3.8"/><circle cx="419.4" cy="800.4" r="3.9"/><circle cx="390" cy="811" r="4"/><circle cx="417.7" cy="737.5" r="4.9"/><circle cx="422.9" cy="726.9" r="4"/><circle cx="382.9" cy="908.6" r="4.8"/><circle cx="301.8" cy="893.4" r="3.8"/><circle cx="487" cy="807.2" r="4.7"/><circle cx="438.8" cy="884.1" r="4.9"/><circle cx="304.3" cy="918.5" r="4.2"/><circle cx="337.9" cy="866.2" r="4.2"/><circle cx="286.5" cy="886.1" r="4.3"/><circle cx="478.5" cy="768.2" r="4.7"/><circle cx="504.6" cy="802.4" r="3.8"/><circle cx="425.4" cy="826.1" r="4.2"/><circle cx="500.6" cy="863.5" r="4.4"/><circle cx="447.9" cy="730.7" r="4.1"/><circle cx="403.3" cy="809.9" r="3.9"/><circle cx="491.1" cy="799.8" r="4.6"/><circle cx="461.2" cy="833.7" r="4.8"/><circle cx="444.2" cy="850.9" r="3.9"/><circle cx="465.7" cy="789.1" r="3.9"/><circle cx="461.1" cy="755.9" r="4"/><circle cx="434.5" cy="870" r="4.6"/><circle cx="414.2" cy="762.6" r="3.9"/><circle cx="462.1" cy="873.5" r="4.3"/><circle cx="277.9" cy="913.5" r="3.9"/><circle cx="315.1" cy="926.1" r="4.4"/><circle cx="407.3" cy="846.8" r="3.7"/><circle cx="304.2" cy="906" r="3.9"/><circle cx="414.4" cy="812.1" r="4.1"/><circle cx="360.8" cy="898.5" r="3.7"/><circle cx="421.6" cy="878.8" r="4.4"/><circle cx="396.9" cy="880.7" r="3.7"/><circle cx="414.1" cy="901.2" r="4.5"/><circle cx="428.1" cy="885.5" r="4.7"/><circle cx="445" cy="740" r="4.6"/><circle cx="431.8" cy="733.1" r="3.8"/><circle cx="423.1" cy="899.5" r="4.8"/><circle cx="449.7" cy="808.5" r="3.7"/><circle cx="409.3" cy="871.1" r="3.8"/><circle cx="505.8" cy="846.6" r="4.5"/><circle cx="491.4" cy="766.9" r="4.3"/><circle cx="271.5" cy="904.7" r="4.8"/><circle cx="435.1" cy="813.6" r="4.4"/><circle cx="402.1" cy="783.2" r="4.9"/><circle cx="402.8" cy="905.1" r="4.1"/><circle cx="451.6" cy="854.7" r="4.9"/><circle cx="483.5" cy="817" r="4.2"/><circle cx="446.9" cy="863.9" r="4.9"/><circle cx="447.1" cy="839.5" r="4.3"/><circle cx="292.9" cy="903" r="4.5"/><circle cx="429.6" cy="724.7" r="3.7"/><circle cx="375" cy="837.2" r="4.2"/><circle cx="420.7" cy="842.7" r="4.4"/><circle cx="506" cy="814.1" r="4.7"/><circle cx="511.1" cy="828.3" r="4.6"/><circle cx="477.2" cy="867.3" r="4.7"/><circle cx="390.9" cy="869.4" r="4.7"/><circle cx="395.7" cy="902.4" r="4.5"/><circle cx="308.2" cy="882.3" r="4.6"/><circle cx="438.9" cy="843.4" r="3.9"/><circle cx="419.7" cy="748.5" r="4.2"/><circle cx="414.3" cy="839.8" r="4.6"/><circle cx="317.7" cy="911.5" r="4.5"/><circle cx="358.3" cy="866.2" r="4.9"/><circle cx="361.1" cy="909.8" r="4.8"/><circle cx="410.3" cy="858.2" r="3.8"/><circle cx="425.3" cy="849.7" r="4.7"/><circle cx="471.6" cy="842.6" r="4"/><circle cx="313.4" cy="896.9" r="4.3"/><circle cx="388" cy="916.6" r="4.2"/><circle cx="317.2" cy="889.7" r="4.6"/><circle cx="406.8" cy="818.5" r="4.9"/><circle cx="434" cy="849.5" r="4.8"/><circle cx="432.5" cy="748.5" r="4.9"/><circle cx="377.7" cy="878.6" r="4.6"/><circle cx="414.7" cy="853" r="4.7"/><circle cx="375.9" cy="901.7" r="4.1"/><circle cx="499" cy="857" r="4.3"/><circle cx="319.3" cy="863.8" r="4.8"/><circle cx="347.2" cy="868.6" r="4.9"/><circle cx="308.3" cy="924.1" r="4.7"/><circle cx="418.5" cy="818.4" r="4.8"/><circle cx="423.2" cy="706.5" r="4.8"/><circle cx="511.3" cy="835.8" r="4.3"/><circle cx="478.1" cy="875.6" r="4.8"/><circle cx="429.5" cy="897.9" r="3.8"/><circle cx="328.8" cy="914.8" r="4.8"/><circle cx="411.5" cy="778.9" r="3.8"/><circle cx="425.4" cy="791.1" r="4.4"/><circle cx="406.6" cy="840" r="3.7"/><circle cx="330.8" cy="902.1" r="3.8"/><circle cx="293.7" cy="916.2" r="4.8"/><circle cx="437" cy="727.6" r="4.2"/><circle cx="447.6" cy="881.9" r="4.7"/><circle cx="438.8" cy="864.7" r="4.1"/><circle cx="456.9" cy="843.2" r="4.8"/><circle cx="367.8" cy="872.8" r="4.1"/><circle cx="407.9" cy="766.5" r="3.7"/><circle cx="368.1" cy="849.3" r="4.4"/><circle cx="438" cy="778.2" r="4.2"/><circle cx="461.4" cy="811.1" r="4.1"/><circle cx="448.5" cy="748.3" r="3.9"/><circle cx="396.9" cy="826.6" r="4.4"/><circle cx="397.5" cy="816.6" r="4.5"/><circle cx="331.5" cy="928.1" r="4.8"/><circle cx="476.1" cy="753.3" r="4.4"/><circle cx="369.3" cy="895.8" r="4.5"/><circle cx="476.1" cy="860" r="3.8"/><circle cx="344.4" cy="883.2" r="4.8"/><circle cx="391.3" cy="849.9" r="4.5"/><circle cx="390.9" cy="896.6" r="4.6"/><circle cx="422.3" cy="763.3" r="4.1"/><circle cx="380.3" cy="831.2" r="4.6"/><circle cx="375.7" cy="858.2" r="3.8"/><circle cx="331.2" cy="868.1" r="4.4"/><circle cx="437.1" cy="856.6" r="3.7"/><circle cx="436" cy="717" r="4.6"/><circle cx="401" cy="875.2" r="4.6"/><circle cx="407.4" cy="757.5" r="3.8"/><circle cx="427.5" cy="714.6" r="4.4"/><circle cx="460.2" cy="793.6" r="4.1"/><circle cx="407.1" cy="830.4" r="4.5"/><circle cx="317.7" cy="880.6" r="4.8"/><circle cx="490.9" cy="866.2" r="3.7"/><circle cx="354" cy="879.8" r="4.7"/><circle cx="473" cy="800.9" r="4.9"/><circle cx="276.1" cy="895.1" r="3.9"/><circle cx="312.2" cy="905.6" r="4"/><circle cx="479.5" cy="833" r="4.2"/><circle cx="429" cy="855.3" r="4"/><circle cx="440.9" cy="896" r="4.4"/><circle cx="454.7" cy="739.8" r="4"/><circle cx="344.5" cy="921.3" r="4.7"/><circle cx="323.1" cy="869.7" r="4"/><circle cx="403.2" cy="774" r="4.7"/><circle cx="407.8" cy="802.8" r="4.4"/><circle cx="470.6" cy="874.8" r="3.8"/><circle cx="329.4" cy="882" r="4"/><circle cx="413" cy="753.4" r="4.8"/><circle cx="464.9" cy="851.1" r="4.7"/><circle cx="487.1" cy="834" r="4.6"/><circle cx="435.4" cy="758.3" r="3.8"/><circle cx="325.4" cy="908.3" r="4.7"/><circle cx="430.3" cy="781.2" r="4.1"/><circle cx="443" cy="831.6" r="4.9"/><circle cx="499.6" cy="819.4" r="4.7"/><circle cx="454.8" cy="770.8" r="4.3"/><circle cx="440" cy="876.5" r="4.5"/><circle cx="447.3" cy="788.4" r="4.8"/><circle cx="469.1" cy="827.1" r="4.5"/><circle cx="459.5" cy="780.6" r="4.7"/><circle cx="443.5" cy="870.1" r="4.1"/><circle cx="335.4" cy="895.5" r="3.7"/><circle cx="389.9" cy="906" r="4.7"/><circle cx="388.1" cy="890.2" r="3.7"/><circle cx="427.2" cy="800.3" r="4.3"/><circle cx="334.8" cy="921.5" r="3.9"/><circle cx="417.1" cy="714.9" r="4"/><circle cx="486.4" cy="853.6" r="4.9"/><circle cx="345.6" cy="903" r="4.3"/><circle cx="452.6" cy="792.4" r="4.6"/><circle cx="366.9" cy="917.8" r="4.8"/><circle cx="409.9" cy="891.6" r="4.2"/><circle cx="412.3" cy="884.9" r="3.8"/><circle cx="418.5" cy="780.1" r="4.6"/><circle cx="468.1" cy="752.8" r="4.2"/><circle cx="400.5" cy="794.1" r="4.4"/><circle cx="423.8" cy="836" r="3.9"/><circle cx="451.7" cy="826.6" r="4.7"/><circle cx="376" cy="885.6" r="4.7"/><circle cx="287.4" cy="898" r="4.6"/><circle cx="477.2" cy="850.8" r="4.1"/><circle cx="405.6" cy="789.5" r="4.6"/><circle cx="346" cy="893" r="4.3"/><circle cx="367.4" cy="887" r="4.7"/><circle cx="288.1" cy="910.7" r="4"/><circle cx="440.1" cy="796.7" r="3.9"/><circle cx="392.8" cy="835.3" r="4.9"/><circle cx="470.1" cy="835.3" r="3.9"/><circle cx="430.2" cy="831" r="4.4"/><circle cx="447.8" cy="815.3" r="4.6"/><circle cx="370.9" cy="908.7" r="3.9"/><circle cx="481.9" cy="783.6" r="3.8"/><circle cx="428.6" cy="816.1" r="4.2"/><circle cx="398.5" cy="801.7" r="3.9"/><circle cx="339.2" cy="913.2" r="4.9"/><circle cx="377.4" cy="848.3" r="3.8"/><circle cx="353.3" cy="901.6" r="4.7"/><circle cx="474.9" cy="814" r="4.9"/><circle cx="441.2" cy="753.6" r="4.5"/><circle cx="432.9" cy="772.3" r="4.8"/><circle cx="510.5" cy="805.9" r="4.8"/><circle cx="470.9" cy="854.1" r="4.2"/><circle cx="502.1" cy="828.9" r="4"/><circle cx="454.1" cy="753.1" r="4.9"/><circle cx="419.9" cy="868.6" r="4.9"/><circle cx="498.4" cy="767.1" r="4.8"/><circle cx="456.9" cy="819.4" r="4.2"/><circle cx="489.3" cy="778" r="4"/><circle cx="446.6" cy="774.2" r="4.7"/><circle cx="323.4" cy="926.6" r="4.9"/><circle cx="363.5" cy="860.6" r="3.8"/><circle cx="386.8" cy="827.1" r="4.7"/><circle cx="336.5" cy="878.9" r="4.1"/><circle cx="473.2" cy="788.3" r="4.4"/><circle cx="465.2" cy="840.8" r="4.4"/><circle cx="302.4" cy="886.7" r="4.1"/><circle cx="397.1" cy="890.6" r="3.8"/><circle cx="372.2" cy="843.9" r="3.9"/><circle cx="418.4" cy="791.2" r="4.1"/><circle cx="500" cy="807.4" r="4.1"/><circle cx="419" cy="828.6" r="4.8"/><circle cx="450.8" cy="871" r="4.9"/><circle cx="460.4" cy="800.9" r="4.2"/><circle cx="492.6" cy="847.8" r="4.8"/><circle cx="458.7" cy="866.6" r="4.6"/><circle cx="454.2" cy="887.2" r="4"/><circle cx="411.9" cy="743.1" r="3.9"/><circle cx="344.1" cy="875.3" r="3.8"/><circle cx="311.2" cy="918" r="4.8"/><circle cx="329.4" cy="889.4" r="4.6"/><circle cx="440.6" cy="806.9" r="4.6"/><circle cx="351.2" cy="888.2" r="3.9"/><circle cx="386" cy="837.8" r="4.3"/><circle cx="387.4" cy="820.1" r="3.9"/><circle cx="383.3" cy="901.7" r="4.3"/><circle cx="444.8" cy="723.8" r="4.7"/><circle cx="404.1" cy="896.2" r="4.6"/><circle cx="449.2" cy="758.4" r="4.9"/><circle cx="466.2" cy="880.5" r="4"/><circle cx="463.6" cy="742.7" r="3.9"/><circle cx="419.2" cy="860.2" r="4.4"/><circle cx="500.5" cy="791.8" r="3.9"/><circle cx="454.2" cy="785.4" r="4.5"/><circle cx="399.6" cy="843.9" r="3.9"/><circle cx="483.7" cy="870.1" r="4.4"/><circle cx="418.8" cy="890.4" r="3.7"/><circle cx="435.9" cy="741.9" r="4.4"/><circle cx="456.8" cy="717.7" r="3.8"/><circle cx="507" cy="855.1" r="4.6"/><circle cx="370" cy="866.5" r="4.7"/><circle cx="458.5" cy="854.8" r="4.6"/><circle cx="280.7" cy="900" r="3.9"/><circle cx="443.7" cy="763" r="4.7"/><circle cx="323" cy="885.8" r="4.1"/><circle cx="282.4" cy="892.4" r="4"/><circle cx="449.3" cy="893" r="4.5"/><circle cx="392.2" cy="859.8" r="4.9"/><circle cx="414.4" cy="727.6" r="4"/><circle cx="404.2" cy="885.3" r="4"/><circle cx="311.7" cy="875.3" r="4"/><circle cx="302.8" cy="874" r="4.9"/><circle cx="454" cy="878" r="4.2"/><circle cx="468.2" cy="815.2" r="4.1"/><circle cx="453" cy="725.3" r="3.7"/><circle cx="375.1" cy="919.2" r="4.8"/><circle cx="494.9" cy="841" r="4.4"/><circle cx="439.7" cy="734" r="4.7"/><circle cx="470.2" cy="866.2" r="4.2"/><circle cx="435.7" cy="789.5" r="4.8"/><circle cx="349.1" cy="915.8" r="4.5"/><circle cx="422.7" cy="810.4" r="4.5"/><circle cx="411.8" cy="794.5" r="4.5"/><circle cx="404.8" cy="865.1" r="4.6"/><circle cx="442.3" cy="784" r="4.1"/><circle cx="351.2" cy="923.5" r="4.2"/><circle cx="282.1" cy="906.4" r="3.9"/><circle cx="339" cy="902.6" r="4.9"/><circle cx="428.8" cy="758.8" r="4.1"/><circle cx="447.2" cy="716.6" r="4"/><circle cx="396.8" cy="788.1" r="4.8"/><circle cx="426" cy="736.9" r="4.4"/><circle cx="409.8" cy="878" r="4.4"/><circle cx="383.2" cy="857.4" r="4.6"/><circle cx="432" cy="840.5" r="4.5"/><circle cx="462.1" cy="771.7" r="4.2"/><circle cx="439.2" cy="818.8" r="4.7"/><circle cx="377.5" cy="865" r="4.7"/><circle cx="482.4" cy="794.5" r="3.8"/><circle cx="427.1" cy="872.8" r="4.9"/><circle cx="433.2" cy="709.7" r="3.9"/><circle cx="433.5" cy="824.4" r="4.4"/><circle cx="396" cy="910" r="3.8"/><circle cx="413.5" cy="822.7" r="4.6"/><circle cx="333.1" cy="908.5" r="4"/><circle cx="414.6" cy="805.3" r="4.6"/><circle cx="480.6" cy="801.3" r="4.1"/><circle cx="362.9" cy="892" r="3.9"/><circle cx="425.9" cy="892.3" r="4.6"/><circle cx="384.7" cy="844.6" r="4.7"/><circle cx="392.4" cy="842.3" r="3.9"/><circle cx="414.1" cy="864.6" r="4.1"/><circle cx="473.3" cy="746.7" r="4.4"/><circle cx="475.4" cy="822.9" r="4.8"/><circle cx="325.1" cy="876.7" r="4.5"/><circle cx="434.3" cy="765" r="3.8"/><circle cx="494.4" cy="830.3" r="4.7"/><circle cx="495.3" cy="814.1" r="4.9"/><circle cx="414" cy="721" r="4.5"/><circle cx="326.8" cy="862.7" r="4.6"/></g>
<path d="M409.8,713.4 L409.6,714.2 L409.6,715 L409.7,715.8 L409.8,716.6 L409.9,717.6 L410,718.7 L410,720 L410,721.5 L410.1,723.2 L410.2,725.1 L410.3,727 L410.4,729 L410.4,731.1 L410.2,733.1 L410,735 L409.6,736.9 L409.1,738.8 L408.5,740.6 L407.8,742.5 L407.1,744.4 L406.4,746.2 L405.7,748.1 L405,750 L404.4,751.9 L403.8,753.8 L403.1,755.6 L402.5,757.5 L401.9,759.4 L401.2,761.2 L400.6,763.1 L400,765 L399.4,766.9 L398.8,768.8 L398.1,770.6 L397.5,772.5 L396.9,774.4 L396.6,775.1 L407.1,785.8 L422.3,801.3 L437.5,816.9 L452.7,832.4 L467.8,848 L483,863.7 L495.1,876.2 L496,876 L498,875.5 L499.9,874.9 L501.8,874.3 L503.5,873.5 L505,872.5 L506.3,871.3 L507.5,870 L508.5,868.5 L509.5,866.9 L510.3,865.2 L511.1,863.5 L511.8,861.7 L512.5,860 L513.2,858.2 L513.8,856.3 L514.4,854.3 L514.9,852.3 L515.4,850.4 L515.8,848.5 L516,846.7 L516.2,845 L516.3,843.5 L516.2,842.1 L516,840.9 L515.8,839.7 L515.5,838.5 L515.3,837.4 L515.1,836.2 L515,835 L515,833.8 L515.2,832.6 L515.3,831.4 L515.5,830.2 L515.8,828.9 L516,827.7 L516.1,826.4 L516.2,825 L516.3,823.6 L516.4,822.1 L516.5,820.5 L516.6,818.9 L516.6,817.3 L516.5,815.7 L516.4,814.1 L516.2,812.5 L516,810.9 L515.7,809.3 L515.3,807.7 L514.8,806.1 L514.3,804.5 L513.8,802.9 L513.2,801.4 L512.5,800 L511.7,798.6 L510.9,797.3 L510,796 L509,794.7 L508,793.5 L507,792.3 L506,791.1 L505,790 L504,788.9 L502.9,787.9 L501.9,787 L500.8,786.1 L499.8,785.2 L498.8,784.3 L498.1,783.4 L497.5,782.5 L497.1,781.5 L496.9,780.6 L496.7,779.6 L496.7,778.6 L496.8,777.6 L497,776.7 L497.2,775.8 L497.5,775 L497.9,774.2 L498.4,773.5 L499,772.9 L499.7,772.3 L500.4,771.7 L501.1,771.1 L501.8,770.5 L502.5,770 L503.2,769.5 L504,769 L504.8,768.5 L505.5,768 L506.3,767.6 L506.5,767.4 L500.9,761.7 L499.8,761.5 L498.6,761.3 L497.4,761.2 L496.2,761.2 L495,761.2 L493.8,761.4 L492.5,761.7 L491.2,762.1 L489.8,762.6 L488.5,763 L487.3,763.4 L486.1,763.7 L485,763.8 L484,763.7 L483,763.6 L482,763.3 L481.1,763 L480.3,762.7 L479.6,762.3 L479.1,761.8 L478.8,761.2 L478.7,760.7 L478.8,760 L479.2,759.2 L479.7,758.4 L480.2,757.6 L480.7,756.7 L481.1,755.9 L481.2,755 L481.3,754.1 L481.3,753.2 L481.3,752.2 L481.2,751.2 L481.1,750.3 L480.8,749.3 L480.5,748.4 L480,747.5 L479.4,746.6 L478.6,745.8 L477.8,745 L476.8,744.1 L475.8,743.4 L474.7,742.6 L473.6,741.9 L472.5,741.2 L471.4,740.7 L470.1,740.2 L468.8,739.7 L467.5,739.3 L466.2,738.9 L464.9,738.5 L463.6,738 L462.5,737.5 L461.4,737 L460.2,736.4 L459.1,735.8 L458,735.2 L457,734.6 L456.1,734 L455.4,733.3 L455,732.5 L454.8,731.7 L454.9,730.8 L455.1,729.9 L455.5,728.9 L455.9,727.9 L456.5,726.9 L457,726 L457.5,725 L458.1,724.1 L458.8,723.1 L459.6,722.1 L460.3,721.3 L452.7,713.8 L449.1,710.2 L448.6,710.5 L447.9,710.9 L447.3,711.3 L446.8,711.8 L446.2,712.1 L445.6,712.4 L445,712.5 L444.4,712.5 L443.7,712.3 L443.1,712.1 L442.4,711.9 L441.8,711.5 L441.2,711.1 L440.6,710.6 L440,710 L439.5,709.3 L439.1,708.3 L438.7,707.3 L438.4,706.2 L438,705.1 L437.5,704.1 L436.9,703.2 L436.2,702.5 L435.4,702 L434.5,701.6 L433.5,701.4 L432.4,701.2 L431.3,701.1 L430.1,701.1 L428.8,701.1 L427.5,701.2 L426.1,701.5 L424.5,701.7 L422.8,702.1 L421,702.6 L419.3,703.1 L417.7,703.7 L416.2,704.3 L415,705 L414,705.8 L413.1,706.6 L412.4,707.5 L411.7,708.5 L411.2,709.5 L410.7,710.5 L410.3,711.5 L410,712.5 L409.8,713.4ZM349.8,859.7 L348.3,859 L346.7,858.1 L345.1,857.2 L343.4,856.2 L341.7,855.5 L340,855 L338.2,854.7 L336.4,854.4 L334.6,854.2 L332.7,854.1 L330.7,854 L328.8,854.2 L326.9,854.5 L325,855 L323.1,855.8 L321.2,856.8 L319.4,858 L317.5,859.4 L315.6,860.8 L313.8,862.3 L311.9,863.7 L310,865 L308.1,866.3 L306.2,867.6 L304.4,868.9 L302.5,870.2 L300.6,871.4 L298.8,872.7 L296.9,873.9 L295,875 L293.1,876.1 L291.1,877.1 L289.2,878 L287.2,878.9 L285.3,879.8 L283.4,880.7 L282.3,881.2 L328,934.6 L328.5,934.5 L330.2,933.9 L331.9,933.1 L333.6,932.3 L335.5,931.5 L337.6,930.7 L340,930 L342.7,929.4 L345.7,928.7 L348.9,928 L352.2,927.3 L355.6,926.7 L358.9,926.1 L362,925.5 L365,925 L367.8,924.6 L370.6,924.2 L373.3,923.9 L375.9,923.6 L378.5,923.3 L380.8,923.1 L383,922.8 L385,922.5 L386.8,922.2 L388.3,922 L389.7,921.8 L390.9,921.6 L392.1,921.3 L393.1,921 L394.1,920.6 L395,920 L395.8,919.3 L396.4,918.5 L396.8,917.6 L397.2,916.6 L397.6,915.5 L398.2,914.5 L398.9,913.5 L400,912.5 L400.4,912.2 L351.2,860 L349.8,859.7Z" fill="none" stroke="#000" stroke-width="1.6" stroke-linejoin="round"/></g>
<ellipse cx="203" cy="459.2" rx="85.2" ry="47" fill="#b5b5b5"/>
<ellipse cx="203" cy="459.5" rx="70.7" ry="30.9" fill="#6e6e6e"/>
<ellipse cx="203" cy="458.8" rx="44" ry="14.3" fill="#333333"/>
<path d="M229,408 C231,418 234,425 244,427.5 C252,428 258,424 260,418 L262,405 Z" fill="#fff"/>
<path d="M156,426 C155,433 157,440 164,442.5 C172,444.5 183,443 188,439 C192,435 192,430 190,425 Z" fill="#b5b5b5"/>
<text x="130.2" y="370.1" font-size="23" textLength="102.3" lengthAdjust="spacingAndGlyphs" font-family="Liberation Serif, serif">Radio-data</text>
<text x="130.2" y="400.8" font-size="23" textLength="79.2" lengthAdjust="spacingAndGlyphs" font-family="Liberation Serif, serif">contours</text>
<text x="162.2" y="436.6" font-size="20" font-family="Liberation Serif, serif">3σ</text>
<text x="236.7" y="423" font-size="20" font-family="Liberation Serif, serif">5σ</text>
<text x="193.9" y="465" font-size="20" fill="#fff" style="stroke:#fff" font-family="Liberation Serif, serif">1σ</text>
<path d="M127,953C127,951.2 127.8,948.8 129,947C130.2,945.2 132.2,943.3 134,942C135.8,940.7 138,939.6 140,939C142,938.4 144.3,938.2 146,938.5C147.7,938.8 148.7,940.3 150,940.5C151.3,940.7 152.3,940.2 154,939.5C155.7,938.8 158,936.8 160,936C162,935.2 164.2,934.5 166,934.5C167.8,934.5 169.7,934.9 171,936C172.3,937.1 173.7,939 174,941C174.3,943 174,946 173,948C172,950 169.7,951.7 168,953C166.3,954.3 164.2,954.8 163,956C161.8,957.2 161.7,958.3 161,960C160.3,961.7 160.2,964.2 159,966C157.8,967.8 155.8,969.9 154,970.5C152.2,971.1 150.2,970.4 148,969.5C145.8,968.6 143.3,966.4 141,965C138.7,963.6 136,962.2 134,961C132,959.8 130.2,959.3 129,958C127.8,956.7 127,954.8 127,953Z" fill="#eb82b0" stroke="#9a6a80" stroke-width="0.9"/>
<path d="M127,997.5C127,995.7 127.8,993.3 129,991.5C130.2,989.7 132.2,987.8 134,986.5C135.8,985.2 138,984.1 140,983.5C142,982.9 144.3,982.8 146,983C147.7,983.2 148.7,984.8 150,985C151.3,985.2 152.3,984.8 154,984C155.7,983.2 158,981.3 160,980.5C162,979.7 164.2,979 166,979C167.8,979 169.7,979.4 171,980.5C172.3,981.6 173.7,983.5 174,985.5C174.3,987.5 174,990.5 173,992.5C172,994.5 169.7,996.2 168,997.5C166.3,998.8 164.2,999.3 163,1000.5C161.8,1001.7 161.7,1002.8 161,1004.5C160.3,1006.2 160.2,1008.8 159,1010.5C157.8,1012.2 155.8,1014.4 154,1015C152.2,1015.6 150.2,1014.9 148,1014C145.8,1013.1 143.3,1010.9 141,1009.5C138.7,1008.1 136,1006.7 134,1005.5C132,1004.3 130.2,1003.8 129,1002.5C127.8,1001.2 127,999.3 127,997.5Z" fill="#a6d492" stroke="#6f9a66" stroke-width="0.9"/>
<text x="134.3" y="891.7" font-size="23" textLength="72.6" lengthAdjust="spacingAndGlyphs" font-family="Liberation Serif, serif">ATLAS</text>
<text x="134.3" y="922.3" font-size="23" textLength="81" lengthAdjust="spacingAndGlyphs" font-family="Liberation Serif, serif">contours</text>
<text x="175.8" y="966.2" font-size="22" textLength="123.5" lengthAdjust="spacingAndGlyphs" font-family="Liberation Serif, serif">Δ = 0.35 – 0.4</text>
<text x="178.3" y="1012" font-size="22" textLength="122.3" lengthAdjust="spacingAndGlyphs" font-family="Liberation Serif, serif">2-peak profile</text>
<text x="451.6" y="587" font-size="23" textLength="97" lengthAdjust="spacingAndGlyphs" font-family="Liberation Serif, serif">Outer Gap</text>
<text y="624.5" font-size="23" font-family="Liberation Serif, serif"><tspan x="460" font-style="italic">w</tspan><tspan x="483.2">=</tspan><tspan x="503.5">0.1</tspan></text>
<text x="435.3" y="63.8" font-size="23" textLength="88" lengthAdjust="spacingAndGlyphs" font-family="Liberation Serif, serif">Two Pole</text>
<text x="434.6" y="100.7" font-size="23" textLength="69.8" lengthAdjust="spacingAndGlyphs" font-family="Liberation Serif, serif">Caustic</text>
<text y="137.8" font-size="23" font-family="Liberation Serif, serif"><tspan x="448.5" font-style="italic">w</tspan><tspan x="471.5">=</tspan><tspan x="491.8">0.1</tspan></text>
<rect x="98.0" y="0.9" width="497.0" height="1043.8" fill="none" stroke="#111" stroke-width="1.8"/>
<line x1="98.0" y1="523.0" x2="595.0" y2="523.0" stroke="#111" stroke-width="1.8"/>
<g stroke="#111" stroke-width="1.6"><line x1="109" y1="0.9" x2="109" y2="12.9"/>
<line x1="109" y1="511" x2="109" y2="535"/>
<line x1="109" y1="1044.7" x2="109" y2="1032.7"/>
<line x1="131.1" y1="0.9" x2="131.1" y2="12.9"/>
<line x1="131.1" y1="511" x2="131.1" y2="535"/>
<line x1="131.1" y1="1044.7" x2="131.1" y2="1032.7"/>
<line x1="153.2" y1="0.9" x2="153.2" y2="24.9"/>
<line x1="153.2" y1="499" x2="153.2" y2="547"/>
<line x1="153.2" y1="1044.7" x2="153.2" y2="1020.7"/>
<line x1="175.3" y1="0.9" x2="175.3" y2="12.9"/>
<line x1="175.3" y1="511" x2="175.3" y2="535"/>
<line x1="175.3" y1="1044.7" x2="175.3" y2="1032.7"/>
<line x1="197.4" y1="0.9" x2="197.4" y2="12.9"/>
<line x1="197.4" y1="511" x2="197.4" y2="535"/>
<line x1="197.4" y1="1044.7" x2="197.4" y2="1032.7"/>
<line x1="219.4" y1="0.9" x2="219.4" y2="12.9"/>
<line x1="219.4" y1="511" x2="219.4" y2="535"/>
<line x1="219.4" y1="1044.7" x2="219.4" y2="1032.7"/>
<line x1="241.5" y1="0.9" x2="241.5" y2="12.9"/>
<line x1="241.5" y1="511" x2="241.5" y2="535"/>
<line x1="241.5" y1="1044.7" x2="241.5" y2="1032.7"/>
<line x1="263.6" y1="0.9" x2="263.6" y2="24.9"/>
<line x1="263.6" y1="499" x2="263.6" y2="547"/>
<line x1="263.6" y1="1044.7" x2="263.6" y2="1020.7"/>
<line x1="285.7" y1="0.9" x2="285.7" y2="12.9"/>
<line x1="285.7" y1="511" x2="285.7" y2="535"/>
<line x1="285.7" y1="1044.7" x2="285.7" y2="1032.7"/>
<line x1="307.8" y1="0.9" x2="307.8" y2="12.9"/>
<line x1="307.8" y1="511" x2="307.8" y2="535"/>
<line x1="307.8" y1="1044.7" x2="307.8" y2="1032.7"/>
<line x1="329.8" y1="0.9" x2="329.8" y2="12.9"/>
<line x1="329.8" y1="511" x2="329.8" y2="535"/>
<line x1="329.8" y1="1044.7" x2="329.8" y2="1032.7"/>
<line x1="351.9" y1="0.9" x2="351.9" y2="12.9"/>
<line x1="351.9" y1="511" x2="351.9" y2="535"/>
<line x1="351.9" y1="1044.7" x2="351.9" y2="1032.7"/>
<line x1="374" y1="0.9" x2="374" y2="24.9"/>
<line x1="374" y1="499" x2="374" y2="547"/>
<line x1="374" y1="1044.7" x2="374" y2="1020.7"/>
<line x1="396.1" y1="0.9" x2="396.1" y2="12.9"/>
<line x1="396.1" y1="511" x2="396.1" y2="535"/>
<line x1="396.1" y1="1044.7" x2="396.1" y2="1032.7"/>
<line x1="418.2" y1="0.9" x2="418.2" y2="12.9"/>
<line x1="418.2" y1="511" x2="418.2" y2="535"/>
<line x1="418.2" y1="1044.7" x2="418.2" y2="1032.7"/>
<line x1="440.2" y1="0.9" x2="440.2" y2="12.9"/>
<line x1="440.2" y1="511" x2="440.2" y2="535"/>
<line x1="440.2" y1="1044.7" x2="440.2" y2="1032.7"/>
<line x1="462.3" y1="0.9" x2="462.3" y2="12.9"/>
<line x1="462.3" y1="511" x2="462.3" y2="535"/>
<line x1="462.3" y1="1044.7" x2="462.3" y2="1032.7"/>
<line x1="484.4" y1="0.9" x2="484.4" y2="24.9"/>
<line x1="484.4" y1="499" x2="484.4" y2="547"/>
<line x1="484.4" y1="1044.7" x2="484.4" y2="1020.7"/>
<line x1="506.5" y1="0.9" x2="506.5" y2="12.9"/>
<line x1="506.5" y1="511" x2="506.5" y2="535"/>
<line x1="506.5" y1="1044.7" x2="506.5" y2="1032.7"/>
<line x1="528.6" y1="0.9" x2="528.6" y2="12.9"/>
<line x1="528.6" y1="511" x2="528.6" y2="535"/>
<line x1="528.6" y1="1044.7" x2="528.6" y2="1032.7"/>
<line x1="550.6" y1="0.9" x2="550.6" y2="12.9"/>
<line x1="550.6" y1="511" x2="550.6" y2="535"/>
<line x1="550.6" y1="1044.7" x2="550.6" y2="1032.7"/>
<line x1="572.7" y1="0.9" x2="572.7" y2="12.9"/>
<line x1="572.7" y1="511" x2="572.7" y2="535"/>
<line x1="572.7" y1="1044.7" x2="572.7" y2="1032.7"/>
<line x1="98" y1="12.5" x2="110" y2="12.5"/>
<line x1="595" y1="12.5" x2="583" y2="12.5"/>
<line x1="98" y1="35.7" x2="110" y2="35.7"/>
<line x1="595" y1="35.7" x2="583" y2="35.7"/>
<line x1="98" y1="58.9" x2="122" y2="58.9"/>
<line x1="595" y1="58.9" x2="571" y2="58.9"/>
<line x1="98" y1="82" x2="110" y2="82"/>
<line x1="595" y1="82" x2="583" y2="82"/>
<line x1="98" y1="105.2" x2="110" y2="105.2"/>
<line x1="595" y1="105.2" x2="583" y2="105.2"/>
<line x1="98" y1="128.4" x2="110" y2="128.4"/>
<line x1="595" y1="128.4" x2="583" y2="128.4"/>
<line x1="98" y1="151.6" x2="110" y2="151.6"/>
<line x1="595" y1="151.6" x2="583" y2="151.6"/>
<line x1="98" y1="174.8" x2="122" y2="174.8"/>
<line x1="595" y1="174.8" x2="571" y2="174.8"/>
<line x1="98" y1="197.9" x2="110" y2="197.9"/>
<line x1="595" y1="197.9" x2="583" y2="197.9"/>
<line x1="98" y1="221.1" x2="110" y2="221.1"/>
<line x1="595" y1="221.1" x2="583" y2="221.1"/>
<line x1="98" y1="244.3" x2="110" y2="244.3"/>
<line x1="595" y1="244.3" x2="583" y2="244.3"/>
<line x1="98" y1="267.5" x2="110" y2="267.5"/>
<line x1="595" y1="267.5" x2="583" y2="267.5"/>
<line x1="98" y1="290.6" x2="122" y2="290.6"/>
<line x1="595" y1="290.6" x2="571" y2="290.6"/>
<line x1="98" y1="313.8" x2="110" y2="313.8"/>
<line x1="595" y1="313.8" x2="583" y2="313.8"/>
<line x1="98" y1="337" x2="110" y2="337"/>
<line x1="595" y1="337" x2="583" y2="337"/>
<line x1="98" y1="360.2" x2="110" y2="360.2"/>
<line x1="595" y1="360.2" x2="583" y2="360.2"/>
<line x1="98" y1="383.4" x2="110" y2="383.4"/>
<line x1="595" y1="383.4" x2="583" y2="383.4"/>
<line x1="98" y1="406.5" x2="122" y2="406.5"/>
<line x1="595" y1="406.5" x2="571" y2="406.5"/>
<line x1="98" y1="429.7" x2="110" y2="429.7"/>
<line x1="595" y1="429.7" x2="583" y2="429.7"/>
<line x1="98" y1="452.9" x2="110" y2="452.9"/>
<line x1="595" y1="452.9" x2="583" y2="452.9"/>
<line x1="98" y1="476.1" x2="110" y2="476.1"/>
<line x1="595" y1="476.1" x2="583" y2="476.1"/>
<line x1="98" y1="499.3" x2="110" y2="499.3"/>
<line x1="595" y1="499.3" x2="583" y2="499.3"/>
<line x1="98" y1="534.6" x2="110" y2="534.6"/>
<line x1="595" y1="534.6" x2="583" y2="534.6"/>
<line x1="98" y1="557.8" x2="110" y2="557.8"/>
<line x1="595" y1="557.8" x2="583" y2="557.8"/>
<line x1="98" y1="581" x2="122" y2="581"/>
<line x1="595" y1="581" x2="571" y2="581"/>
<line x1="98" y1="604.1" x2="110" y2="604.1"/>
<line x1="595" y1="604.1" x2="583" y2="604.1"/>
<line x1="98" y1="627.3" x2="110" y2="627.3"/>
<line x1="595" y1="627.3" x2="583" y2="627.3"/>
<line x1="98" y1="650.5" x2="110" y2="650.5"/>
<line x1="595" y1="650.5" x2="583" y2="650.5"/>
<line x1="98" y1="673.7" x2="110" y2="673.7"/>
<line x1="595" y1="673.7" x2="583" y2="673.7"/>
<line x1="98" y1="696.9" x2="122" y2="696.9"/>
<line x1="595" y1="696.9" x2="571" y2="696.9"/>
<line x1="98" y1="720" x2="110" y2="720"/>
<line x1="595" y1="720" x2="583" y2="720"/>
<line x1="98" y1="743.2" x2="110" y2="743.2"/>
<line x1="595" y1="743.2" x2="583" y2="743.2"/>
<line x1="98" y1="766.4" x2="110" y2="766.4"/>
<line x1="595" y1="766.4" x2="583" y2="766.4"/>
<line x1="98" y1="789.6" x2="110" y2="789.6"/>
<line x1="595" y1="789.6" x2="583" y2="789.6"/>
<line x1="98" y1="812.8" x2="122" y2="812.8"/>
<line x1="595" y1="812.8" x2="571" y2="812.8"/>
<line x1="98" y1="835.9" x2="110" y2="835.9"/>
<line x1="595" y1="835.9" x2="583" y2="835.9"/>
<line x1="98" y1="859.1" x2="110" y2="859.1"/>
<line x1="595" y1="859.1" x2="583" y2="859.1"/>
<line x1="98" y1="882.3" x2="110" y2="882.3"/>
<line x1="595" y1="882.3" x2="583" y2="882.3"/>
<line x1="98" y1="905.5" x2="110" y2="905.5"/>
<line x1="595" y1="905.5" x2="583" y2="905.5"/>
<line x1="98" y1="928.6" x2="122" y2="928.6"/>
<line x1="595" y1="928.6" x2="571" y2="928.6"/>
<line x1="98" y1="951.8" x2="110" y2="951.8"/>
<line x1="595" y1="951.8" x2="583" y2="951.8"/>
<line x1="98" y1="975" x2="110" y2="975"/>
<line x1="595" y1="975" x2="583" y2="975"/>
<line x1="98" y1="998.2" x2="110" y2="998.2"/>
<line x1="595" y1="998.2" x2="583" y2="998.2"/>
<line x1="98" y1="1021.4" x2="110" y2="1021.4"/>
<line x1="595" y1="1021.4" x2="583" y2="1021.4"/></g>
<text x="85.2" y="67.6" text-anchor="end" font-size="24" font-family="Liberation Serif, serif">50</text>
<text x="85.2" y="180.1" text-anchor="end" font-size="24" font-family="Liberation Serif, serif">60</text>
<text x="85.2" y="297.6" text-anchor="end" font-size="24" font-family="Liberation Serif, serif">70</text>
<text x="85.2" y="414.7" text-anchor="end" font-size="24" font-family="Liberation Serif, serif">80</text>
<text x="85.2" y="590.1" text-anchor="end" font-size="24" font-family="Liberation Serif, serif">50</text>
<text x="85.2" y="705.1" text-anchor="end" font-size="24" font-family="Liberation Serif, serif">60</text>
<text x="85.2" y="822.6" text-anchor="end" font-size="24" font-family="Liberation Serif, serif">70</text>
<text x="85.2" y="940.1" text-anchor="end" font-size="24" font-family="Liberation Serif, serif">80</text>
<text x="152" y="1078.5" text-anchor="middle" font-size="24" font-family="Liberation Serif, serif">50</text>
<text x="263.7" y="1078.5" text-anchor="middle" font-size="24" font-family="Liberation Serif, serif">60</text>
<text x="376.8" y="1078.5" text-anchor="middle" font-size="24" font-family="Liberation Serif, serif">70</text>
<text x="484.4" y="1078.5" text-anchor="middle" font-size="24" font-family="Liberation Serif, serif">80</text>
<text x="204" y="1120.7" font-size="23.5" textLength="245.5" lengthAdjust="spacingAndGlyphs" font-family="Liberation Serif, serif">Magnetic inclination (αº)</text>
<text transform="translate(28,640.5) rotate(-90)" x="0" y="0" font-size="23.5" textLength="180.5" lengthAdjust="spacingAndGlyphs" font-family="Liberation Serif, serif">Viewing angle (ζº)</text></svg></body></html>
